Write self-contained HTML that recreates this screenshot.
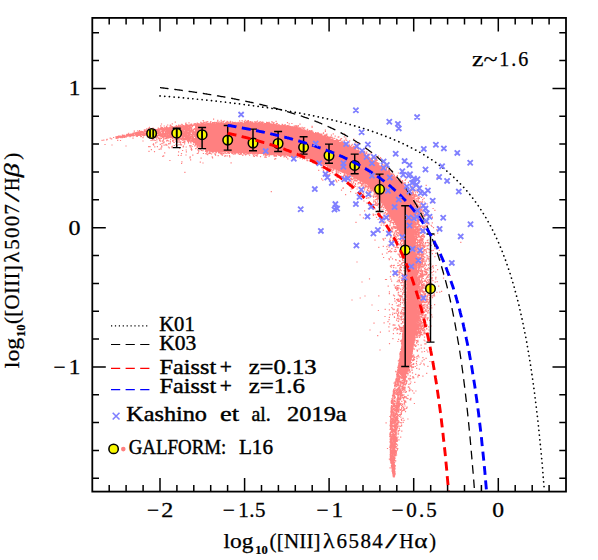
<!DOCTYPE html>
<html><head><meta charset="utf-8"><title>BPT</title><style>
html,body{margin:0;padding:0;background:#fff}
#w{position:relative;width:598px;height:560px;overflow:hidden}
text{font-family:"Liberation Serif",serif;font-size:21px;fill:#000;stroke:#000;stroke-width:0.25px}
.s{font-size:21px;stroke-width:0.3px}
.g{stroke-width:0.42px}
.b{font-size:13.5px;font-weight:bold;stroke-width:0.2px}
</style></head><body><div id="w">
<svg width="598" height="560" viewBox="0 0 598 560" style="position:absolute;left:0;top:0">
<rect width="598" height="560" fill="#fff"/>
<defs><clipPath id="c"><rect x="92.3" y="17.9" width="473.7" height="473.7"/></clipPath></defs>
<g><polygon points="195.0,124.6 215.0,123.3 230.0,123.0 255.0,123.0 270.0,124.0 295.0,127.5 320.0,134.5 340.0,142.0 352.0,147.5 366.0,155.5 382.0,167.0 394.0,177.0 405.0,186.5 410.0,197.0 413.0,208.0 414.2,225.0 415.7,250.0 417.5,275.0 418.5,300.0 415.5,335.0 411.6,360.0 408.0,371.0 403.0,378.0 397.6,372.0 400.0,360.0 402.9,335.0 404.5,320.0 406.4,300.0 406.4,265.0 405.0,250.0 401.5,238.0 396.0,225.0 388.7,213.7 380.0,200.0 367.5,185.0 348.7,175.0 330.0,167.5 320.0,162.5 307.5,158.3 295.0,155.8 270.0,154.2 255.0,153.6 230.0,152.5 215.0,151.5 203.0,148.5 195.0,143.0" fill="#ff8080"/><path d="M365.9 149.2h1.2M408.0 195.0h1.2M263.7 123.4h1.2M139.0 130.7h1.2M229.7 121.4h1.2M410.4 200.6h1.2M407.8 182.4h1.2M378.1 164.2h1.2M326.1 137.1h1.2M291.5 127.6h1.2M371.0 158.3h1.2M325.5 135.3h1.2M349.1 147.0h1.2M416.9 319.1h1.2M417.5 253.1h1.2M423.6 299.3h1.2M431.4 226.5h1.2M379.9 166.6h1.2M288.4 126.2h1.2M386.6 171.5h1.2M297.7 129.1h1.2M351.1 145.5h1.2M376.0 159.6h1.2M431.6 277.7h1.2M268.7 123.3h1.2M419.4 304.5h1.2M422.7 231.5h1.2M415.8 331.0h1.2M375.9 162.4h1.2M429.1 236.0h1.2M177.2 126.5h1.2M179.9 126.4h1.2M202.6 123.1h1.2M267.3 122.8h1.2M365.9 153.1h1.2M201.8 123.4h1.2M410.0 201.5h1.2M271.6 125.1h1.2M138.0 132.9h1.2M406.7 186.2h1.2M181.2 126.2h1.2M247.1 122.2h1.2M413.7 238.1h1.2M265.6 124.4h1.2M418.6 276.7h1.2M352.4 147.5h1.2M413.3 190.1h1.2M196.9 124.8h1.2M330.8 135.1h1.2M324.6 136.2h1.2M268.6 122.4h1.2M332.3 138.5h1.2M418.3 325.9h1.2M275.5 124.5h1.2M435.4 265.5h1.2M437.6 226.7h1.2M415.3 331.3h1.2M250.1 123.7h1.2M367.1 155.3h1.2M247.4 123.7h1.2M276.5 124.9h1.2M257.6 123.5h1.2M159.7 129.1h1.2M416.3 327.0h1.2M411.2 206.0h1.2M420.4 327.1h1.2M436.3 229.7h1.2M169.6 127.1h1.2M326.3 134.1h1.2M299.6 128.8h1.2M300.4 129.8h1.2M196.7 123.2h1.2M199.9 124.9h1.2M317.9 134.2h1.2M155.5 129.9h1.2M197.6 125.2h1.2M397.0 180.7h1.2M415.9 332.6h1.2M416.4 191.4h1.2M423.4 237.3h1.2M417.6 304.6h1.2M388.1 169.7h1.2M244.8 123.4h1.2M382.1 168.1h1.2M200.2 122.3h1.2M387.8 170.4h1.2M165.9 126.4h1.2M194.0 125.1h1.2M417.3 318.8h1.2M165.1 128.5h1.2M197.3 123.7h1.2M418.4 293.0h1.2M243.5 123.1h1.2M341.8 142.8h1.2M267.4 124.1h1.2M268.4 122.3h1.2M208.5 123.6h1.2M271.9 122.0h1.2M308.8 130.6h1.2M319.4 134.4h1.2M393.9 177.3h1.2M423.5 301.8h1.2M411.4 195.7h1.2M386.0 170.9h1.2M236.5 123.0h1.2M216.7 123.3h1.2M421.2 266.7h1.2M296.1 125.9h1.2M416.0 235.1h1.2M183.1 126.3h1.2M231.8 123.6h1.2M422.6 216.0h1.2M159.6 129.0h1.2M416.6 260.5h1.2M310.1 130.9h1.2M423.4 291.8h1.2M402.6 185.0h1.2M389.0 170.9h1.2M395.0 179.2h1.2M339.3 142.3h1.2M417.8 292.8h1.2M160.6 127.3h1.2M224.0 121.0h1.2M415.4 213.4h1.2M266.0 123.4h1.2M400.2 183.7h1.2M414.2 234.3h1.2M391.0 175.1h1.2M382.8 169.2h1.2M330.2 138.2h1.2M317.5 132.5h1.2M423.6 221.7h1.2M328.4 137.0h1.2M297.7 125.6h1.2M428.2 242.5h1.2M377.6 164.7h1.2M247.6 123.6h1.2M420.0 324.8h1.2M429.2 294.8h1.2M143.8 129.8h1.2M181.7 126.6h1.2M335.4 140.3h1.2M174.7 127.7h1.2M399.1 181.9h1.2M162.1 128.7h1.2M197.8 125.0h1.2M278.3 124.7h1.2M270.3 124.5h1.2M193.8 124.3h1.2M285.8 126.2h1.2M249.5 122.7h1.2M402.2 184.8h1.2M416.5 311.9h1.2M130.1 134.1h1.2M384.0 166.2h1.2M199.3 124.4h1.2M316.3 133.1h1.2M420.8 283.4h1.2M418.6 230.6h1.2M255.3 123.8h1.2M297.5 129.0h1.2M422.3 260.1h1.2M186.1 126.0h1.2M137.2 130.9h1.2M308.1 131.3h1.2M261.6 122.5h1.2M420.7 210.5h1.2M424.0 214.8h1.2M417.7 291.8h1.2M213.5 122.6h1.2M302.4 130.1h1.2M353.3 146.8h1.2M286.3 126.7h1.2M191.4 125.3h1.2M240.1 122.4h1.2M416.7 206.2h1.2M339.7 140.5h1.2M306.6 129.9h1.2M193.3 124.9h1.2M186.2 126.3h1.2M283.8 126.8h1.2M283.0 126.6h1.2M296.2 128.6h1.2M417.8 314.1h1.2M417.8 267.8h1.2M410.8 201.8h1.2M348.0 146.1h1.2M375.1 161.5h1.2M419.7 304.8h1.2M298.8 128.9h1.2M258.2 122.7h1.2M419.5 254.4h1.2M413.0 214.3h1.2M318.9 134.0h1.2M233.3 122.6h1.2M420.6 291.1h1.2M360.9 153.4h1.2M419.6 245.8h1.2M420.2 320.4h1.2M414.9 214.2h1.2M417.3 293.8h1.2M371.4 160.6h1.2M266.0 122.4h1.2M414.6 333.3h1.2M417.2 257.5h1.2M418.9 276.7h1.2M279.1 126.2h1.2M413.5 214.9h1.2M383.6 168.7h1.2M390.4 175.4h1.2M400.8 183.9h1.2M130.6 134.3h1.2M244.8 123.2h1.2M408.6 192.7h1.2M411.5 203.5h1.2M363.4 148.9h1.2M264.3 123.7h1.2M185.4 123.2h1.2M266.7 124.5h1.2M402.2 183.9h1.2M229.8 122.9h1.2M388.3 173.6h1.2M302.0 130.2h1.2M188.4 125.1h1.2M160.5 129.1h1.2M417.1 197.0h1.2M315.8 133.1h1.2M363.4 153.7h1.2M213.3 123.4h1.2M416.9 201.4h1.2M229.5 122.4h1.2M375.4 157.9h1.2M368.8 157.4h1.2M283.6 125.8h1.2M197.4 124.7h1.2M362.4 151.9h1.2M222.8 122.8h1.2M415.9 319.8h1.2M414.1 220.0h1.2M414.8 192.8h1.2M378.2 163.4h1.2M408.4 189.9h1.2M398.7 182.3h1.2M349.3 147.0h1.2M417.0 285.2h1.2M279.7 125.8h1.2M417.1 307.4h1.2M138.2 131.8h1.2M389.2 173.8h1.2M311.5 127.5h1.2M161.1 128.5h1.2M271.1 121.9h1.2M418.2 320.2h1.2M413.2 230.1h1.2M331.5 139.3h1.2M342.0 142.8h1.2M175.7 125.6h1.2M187.7 125.9h1.2M402.0 181.1h1.2M298.0 128.5h1.2M417.3 216.2h1.2M292.0 127.8h1.2M177.6 126.1h1.2M176.8 126.6h1.2M415.5 334.9h1.2M365.0 154.6h1.2M217.2 120.4h1.2M284.5 124.7h1.2M284.6 126.2h1.2M140.5 131.6h1.2M325.2 136.9h1.2M420.6 289.6h1.2M234.3 123.6h1.2M421.4 329.3h1.2M361.3 152.0h1.2M411.6 206.3h1.2M351.8 147.5h1.2M289.7 127.1h1.2M419.5 196.7h1.2M227.3 123.1h1.2M324.8 130.1h1.2M310.7 132.9h1.2M413.9 224.1h1.2M151.6 130.2h1.2M174.9 127.3h1.2M177.6 126.9h1.2M170.2 126.8h1.2M318.8 134.2h1.2M417.9 327.1h1.2M414.6 230.1h1.2M412.2 207.7h1.2M275.8 125.5h1.2M304.6 130.4h1.2M381.8 164.4h1.2M177.3 126.9h1.2M236.0 122.8h1.2M422.8 305.0h1.2M349.2 147.3h1.2M351.6 148.3h1.2M177.8 126.6h1.2M357.9 151.6h1.2M225.5 123.8h1.2M425.7 286.6h1.2M356.5 147.7h1.2M414.7 228.2h1.2M261.8 122.2h1.2M276.2 125.7h1.2M423.5 295.0h1.2M418.9 280.2h1.2M263.3 124.1h1.2M365.3 153.2h1.2M293.2 127.4h1.2M414.6 227.1h1.2M426.9 276.7h1.2M237.5 122.4h1.2M291.6 126.6h1.2M193.4 124.0h1.2M161.0 129.3h1.2M200.3 123.9h1.2M428.6 293.9h1.2M188.4 125.3h1.2M416.7 183.7h1.2M416.6 245.4h1.2M415.4 235.9h1.2M418.6 252.4h1.2M143.7 130.3h1.2M223.9 123.6h1.2M420.8 314.5h1.2M145.2 129.9h1.2M165.5 127.9h1.2M225.9 122.7h1.2M126.5 134.4h1.2M168.8 127.8h1.2M141.1 131.6h1.2M342.1 142.2h1.2M417.6 308.1h1.2M351.6 148.1h1.2M412.1 210.4h1.2M413.3 218.8h1.2M419.0 236.7h1.2M245.1 123.8h1.2M175.0 127.2h1.2M413.4 204.6h1.2M281.9 126.0h1.2M308.2 131.3h1.2M248.8 123.5h1.2M418.8 298.1h1.2M420.5 277.1h1.2M343.6 140.3h1.2M319.3 134.2h1.2M176.7 127.0h1.2M415.4 189.0h1.2M358.2 150.9h1.2M338.4 140.3h1.2M337.8 141.4h1.2M351.8 148.0h1.2M374.1 162.2h1.2M363.0 153.9h1.2M419.5 202.9h1.2M419.2 301.4h1.2M215.6 124.0h1.2M423.5 236.8h1.2M364.4 155.7h1.2M228.2 123.2h1.2M406.4 192.1h1.2M425.5 278.7h1.2M426.9 272.9h1.2M414.7 190.9h1.2M269.6 124.8h1.2M316.1 134.3h1.2M293.6 126.2h1.2M402.5 185.3h1.2M422.3 296.9h1.2M218.5 121.9h1.2M270.4 123.9h1.2M442.9 274.7h1.2M236.7 123.5h1.2M419.5 306.4h1.2M191.0 124.2h1.2M185.1 123.8h1.2M295.0 125.9h1.2M169.9 125.2h1.2M346.5 145.3h1.2M333.6 140.7h1.2M286.8 126.5h1.2M311.5 131.5h1.2M167.4 128.4h1.2M417.4 235.7h1.2M230.1 123.5h1.2M418.7 241.5h1.2M425.6 185.4h1.2M411.0 190.1h1.2M410.9 199.8h1.2M412.4 191.5h1.2M119.7 136.0h1.2M174.7 122.1h1.2M315.6 133.6h1.2M417.6 292.1h1.2M401.3 181.9h1.2M417.6 213.6h1.2M190.1 125.4h1.2M402.1 182.3h1.2M230.4 123.2h1.2M162.4 128.0h1.2M220.8 123.6h1.2M398.4 180.3h1.2M414.5 247.2h1.2M252.0 122.1h1.2M241.5 120.5h1.2M340.5 142.9h1.2M319.9 134.4h1.2M372.4 157.3h1.2M289.5 127.2h1.2M177.3 127.3h1.2M432.3 280.7h1.2M414.8 243.3h1.2M275.5 124.0h1.2M272.0 124.9h1.2M276.7 123.5h1.2M416.3 266.4h1.2M419.2 228.9h1.2M424.2 280.3h1.2M349.1 140.8h1.2M260.9 124.1h1.2M306.4 131.5h1.2M356.3 150.3h1.2M415.7 327.7h1.2M417.8 309.0h1.2M197.5 125.0h1.2M334.6 136.1h1.2M283.9 125.7h1.2M418.2 281.1h1.2M295.4 127.6h1.2M327.7 138.1h1.2M416.8 257.2h1.2M416.4 227.0h1.2M349.1 146.4h1.2M272.6 125.1h1.2M417.2 256.8h1.2M417.0 320.7h1.2M297.3 127.2h1.2M295.4 127.2h1.2M416.4 281.7h1.2M388.4 173.1h1.2M250.4 123.1h1.2M418.6 299.0h1.2M205.6 121.8h1.2M336.5 141.4h1.2M245.7 123.7h1.2M168.2 128.0h1.2M418.8 292.9h1.2M173.9 127.7h1.2M167.3 128.4h1.2M167.0 128.4h1.2M291.7 127.7h1.2M181.2 124.4h1.2M312.4 132.1h1.2M200.5 124.5h1.2M418.9 279.5h1.2M310.9 131.4h1.2M419.2 301.0h1.2M324.1 136.2h1.2M414.0 214.4h1.2M420.7 270.2h1.2M276.2 125.6h1.2M383.8 170.0h1.2M420.0 300.2h1.2M395.0 178.4h1.2M361.5 153.4h1.2M396.8 180.1h1.2M240.5 122.6h1.2M385.9 167.7h1.2M324.9 136.2h1.2M375.9 159.3h1.2M418.1 182.9h1.2M415.7 327.1h1.2M413.5 215.9h1.2M190.6 124.0h1.2M420.3 259.8h1.2M417.0 208.7h1.2M155.3 129.7h1.2M414.3 240.5h1.2M216.8 121.8h1.2M416.9 304.8h1.2M202.9 124.4h1.2M266.8 122.6h1.2M387.3 171.9h1.2M245.9 123.2h1.2M245.1 122.8h1.2M370.5 159.6h1.2M164.1 127.5h1.2M421.9 273.1h1.2M400.0 183.1h1.2M419.3 298.4h1.2M328.6 138.4h1.2M147.2 130.0h1.2M395.3 178.7h1.2M409.6 194.3h1.2M351.5 147.0h1.2M288.7 127.4h1.2M300.1 128.4h1.2M387.4 170.9h1.2M311.7 132.4h1.2M162.7 128.6h1.2M416.3 245.2h1.2M264.4 124.1h1.2M211.7 124.0h1.2M272.1 125.2h1.2M413.3 212.7h1.2M197.4 124.3h1.2M189.7 125.6h1.2M401.2 182.2h1.2M405.1 179.4h1.2M334.0 140.8h1.2M413.6 222.4h1.2M422.4 261.6h1.2M417.3 320.7h1.2M360.2 153.2h1.2M272.5 123.2h1.2M425.5 269.7h1.2M336.8 140.2h1.2M202.6 120.6h1.2M393.7 177.6h1.2M126.5 135.2h1.2M433.5 295.0h1.2M278.1 125.4h1.2M362.9 154.3h1.2M432.5 208.5h1.2M381.4 166.5h1.2M418.0 190.9h1.2M414.8 249.8h1.2M342.1 143.9h1.2M168.8 127.9h1.2M375.7 163.3h1.2M408.7 190.6h1.2M172.7 127.8h1.2M293.6 128.0h1.2M275.5 121.3h1.2M399.9 179.1h1.2M306.9 131.5h1.2M230.9 123.6h1.2M251.9 123.1h1.2M229.4 123.5h1.2M415.6 326.8h1.2M418.0 326.8h1.2M336.5 140.0h1.2M417.0 237.6h1.2M375.2 163.0h1.2M411.5 207.5h1.2M418.4 304.0h1.2M272.1 124.6h1.2M340.0 139.1h1.2M170.4 127.4h1.2M220.7 122.9h1.2M429.6 264.2h1.2M313.7 133.6h1.2M417.8 233.2h1.2M422.1 260.9h1.2M380.8 167.5h1.2M418.2 295.5h1.2M169.2 127.1h1.2M164.3 128.2h1.2M401.8 180.5h1.2M370.6 158.5h1.2M167.8 128.3h1.2M289.0 126.8h1.2M345.1 144.4h1.2M415.8 239.4h1.2M257.4 123.1h1.2M421.0 304.2h1.2M416.8 192.6h1.2M414.8 209.6h1.2M417.3 326.7h1.2M143.7 131.7h1.2M402.2 185.1h1.2M168.0 128.4h1.2M313.2 133.5h1.2M431.7 222.9h1.2M210.3 124.3h1.2M195.1 124.9h1.2M419.8 210.2h1.2M127.2 134.5h1.2M218.5 123.9h1.2M418.7 308.2h1.2M379.9 157.7h1.2M244.1 123.4h1.2M388.6 170.8h1.2M245.1 123.2h1.2M245.1 123.6h1.2M202.5 123.0h1.2M417.0 310.4h1.2M326.3 137.7h1.2M420.2 281.1h1.2M218.0 123.8h1.2M209.6 124.3h1.2M295.3 127.7h1.2M349.9 146.8h1.2M194.6 123.5h1.2M417.4 317.1h1.2M152.4 128.0h1.2M353.0 146.3h1.2M404.9 187.9h1.2M366.7 156.7h1.2M208.0 123.3h1.2M417.2 209.4h1.2M348.5 145.2h1.2M425.5 272.0h1.2M125.9 134.9h1.2M226.9 123.0h1.2M131.9 134.1h1.2M353.3 149.1h1.2M417.9 312.7h1.2M298.0 129.2h1.2M164.4 128.4h1.2M284.6 125.0h1.2M348.3 144.0h1.2M371.0 152.9h1.2M220.3 123.8h1.2M341.4 141.0h1.2M133.7 131.1h1.2M413.6 212.8h1.2M369.1 158.8h1.2M273.7 124.7h1.2M406.8 186.0h1.2M416.7 253.4h1.2M383.3 167.0h1.2M416.4 309.8h1.2M417.6 287.2h1.2M419.8 245.9h1.2M192.7 125.5h1.2M295.5 128.5h1.2M223.5 123.6h1.2M396.0 179.0h1.2M420.2 232.3h1.2M414.7 330.1h1.2M367.6 157.4h1.2M312.6 133.2h1.2M250.4 123.7h1.2M331.9 139.3h1.2M272.8 123.7h1.2M304.1 127.9h1.2M198.3 124.3h1.2M417.7 267.7h1.2M189.6 124.8h1.2M163.5 128.9h1.2M341.0 138.7h1.2M421.0 197.5h1.2M159.2 129.4h1.2M382.6 168.6h1.2M265.6 123.7h1.2M331.5 137.4h1.2M419.4 301.3h1.2M244.1 121.9h1.2M255.0 123.5h1.2M285.2 126.4h1.2M246.7 123.8h1.2M297.4 129.0h1.2M353.4 149.3h1.2M417.3 186.1h1.2M183.0 126.7h1.2M423.2 305.4h1.2M175.7 127.6h1.2M415.5 249.3h1.2M372.3 158.3h1.2M371.7 160.0h1.2M346.5 145.3h1.2M442.9 278.2h1.2M415.5 323.7h1.2M402.7 185.5h1.2M300.6 129.6h1.2M343.7 136.8h1.2M358.3 142.6h1.2M460.2 242.4h1.2M234.5 123.8h1.2M232.0 123.3h1.2M417.2 327.6h1.2M319.7 134.0h1.2M278.5 125.8h1.2M415.5 261.9h1.2M420.0 248.3h1.2M291.3 123.5h1.2M416.8 304.2h1.2M376.4 163.9h1.2M286.1 126.7h1.2M411.6 188.7h1.2M148.4 130.6h1.2M419.7 305.1h1.2M414.3 231.6h1.2M415.9 328.2h1.2M354.2 149.2h1.2M399.1 181.0h1.2M207.0 124.5h1.2M225.9 122.3h1.2M253.6 123.0h1.2M436.3 292.4h1.2M424.3 262.9h1.2M378.4 163.3h1.2M416.3 273.1h1.2M418.9 242.3h1.2M385.4 169.9h1.2M160.7 128.9h1.2M371.8 160.9h1.2M417.3 200.0h1.2M428.8 295.4h1.2M418.6 302.0h1.2M191.9 125.3h1.2M305.9 131.1h1.2M234.5 123.1h1.2M266.2 123.6h1.2M419.8 321.1h1.2M411.8 205.8h1.2M360.4 152.4h1.2M337.8 140.7h1.2M415.1 333.7h1.2M260.8 122.4h1.2M312.4 133.0h1.2M297.7 127.0h1.2M281.6 124.4h1.2M171.0 127.5h1.2M213.0 119.2h1.2M414.2 209.1h1.2M276.8 125.6h1.2M261.8 123.9h1.2M200.8 124.8h1.2M409.7 190.2h1.2M418.6 301.7h1.2M371.7 160.6h1.2M127.1 134.6h1.2M392.8 176.2h1.2M366.2 151.9h1.2M161.0 128.4h1.2M420.0 282.3h1.2M419.6 227.2h1.2M187.0 125.9h1.2M385.2 171.0h1.2M157.7 128.1h1.2M396.1 180.2h1.2M421.2 322.6h1.2M399.7 181.2h1.2M418.8 232.8h1.2M417.7 327.1h1.2M418.2 258.2h1.2M420.2 301.8h1.2M160.1 128.6h1.2M434.3 210.4h1.2M417.0 305.6h1.2M290.8 126.9h1.2M176.0 126.2h1.2M324.7 136.5h1.2M256.2 123.2h1.2M420.5 275.3h1.2M160.9 124.0h1.2M296.4 127.6h1.2M377.3 163.2h1.2M246.2 121.4h1.2M219.7 123.4h1.2M417.3 271.1h1.2M311.5 132.7h1.2M305.4 131.3h1.2M295.1 128.1h1.2M414.0 230.8h1.2M180.5 126.6h1.2M190.2 125.4h1.2M417.2 227.9h1.2M258.0 123.3h1.2M311.5 126.3h1.2M262.5 122.3h1.2M175.6 126.7h1.2M374.8 161.2h1.2M374.1 159.8h1.2M377.0 163.8h1.2M296.6 128.0h1.2M363.3 155.1h1.2M342.5 143.7h1.2M371.5 160.1h1.2M391.1 175.9h1.2M221.4 121.9h1.2M416.0 329.5h1.2M429.1 287.1h1.2M307.8 131.9h1.2M303.4 127.8h1.2M299.9 129.1h1.2M419.1 289.1h1.2M225.3 123.8h1.2M416.9 252.8h1.2M417.3 315.5h1.2M421.8 263.1h1.2M394.1 178.1h1.2M417.3 245.7h1.2M424.7 243.9h1.2M339.9 142.3h1.2M413.9 182.9h1.2M420.4 263.3h1.2M346.2 143.4h1.2M416.6 285.5h1.2M293.4 126.6h1.2M346.1 140.4h1.2M124.0 135.3h1.2M266.1 123.7h1.2M299.2 128.6h1.2M356.5 144.2h1.2M409.7 190.9h1.2M331.9 139.9h1.2M297.9 128.5h1.2M424.2 275.2h1.2M417.3 214.7h1.2M418.5 295.2h1.2M240.4 123.4h1.2M314.9 132.7h1.2M226.6 121.3h1.2M252.3 123.0h1.2M296.4 128.7h1.2M413.1 215.8h1.2M351.6 144.3h1.2M218.3 123.1h1.2M414.9 234.3h1.2M406.8 192.5h1.2M354.0 148.9h1.2M303.2 130.4h1.2M243.7 121.7h1.2M186.1 125.1h1.2M213.9 123.9h1.2M384.9 169.7h1.2M383.8 166.8h1.2M167.5 128.1h1.2M283.3 126.7h1.2M303.5 130.2h1.2M121.8 135.1h1.2M270.9 124.1h1.2M421.5 291.8h1.2M211.8 123.5h1.2M417.0 307.0h1.2M414.3 210.6h1.2M415.1 325.2h1.2M418.7 286.6h1.2M304.8 130.4h1.2M339.5 140.3h1.2M420.1 319.3h1.2M312.7 132.8h1.2M417.6 222.5h1.2M399.6 180.7h1.2M422.1 287.7h1.2M434.5 248.7h1.2M419.5 316.8h1.2M250.0 121.8h1.2M343.7 144.8h1.2M354.8 142.5h1.2M415.3 211.9h1.2M432.0 266.3h1.2M385.9 168.2h1.2M420.1 330.0h1.2M415.2 326.3h1.2M215.6 123.9h1.2M416.1 316.6h1.2M299.2 129.4h1.2M428.8 268.5h1.2M417.2 228.3h1.2M374.3 160.0h1.2M415.8 261.2h1.2M262.8 124.0h1.2M418.7 302.8h1.2M101.5 140.3h1.2M414.4 217.4h1.2M415.8 269.3h1.2M206.6 124.3h1.2M318.0 134.8h1.2M240.2 122.4h1.2M409.5 191.8h1.2M432.6 202.3h1.2M307.6 131.3h1.2M181.5 125.9h1.2M303.5 129.6h1.2M369.9 159.1h1.2M392.2 176.4h1.2M152.9 129.0h1.2M419.8 330.9h1.2M195.6 124.0h1.2M391.0 174.6h1.2M249.0 123.3h1.2M211.6 124.1h1.2M415.3 246.8h1.2M291.8 127.7h1.2M206.3 123.9h1.2M326.8 137.1h1.2M366.5 155.5h1.2M172.0 126.5h1.2M238.2 123.5h1.2M302.7 128.4h1.2M224.0 123.7h1.2M239.1 123.2h1.2M370.2 158.3h1.2M424.2 285.7h1.2M412.7 217.4h1.2M418.1 266.8h1.2M302.9 130.4h1.2M432.6 250.3h1.2M402.3 184.5h1.2M427.9 267.8h1.2M297.9 129.0h1.2M187.7 125.9h1.2M416.4 315.5h1.2M319.8 135.3h1.2M412.0 186.1h1.2M417.0 259.1h1.2M398.3 181.8h1.2M345.1 145.5h1.2M406.4 189.6h1.2M417.9 269.3h1.2M309.6 131.3h1.2M230.3 122.9h1.2M162.4 129.0h1.2M420.4 267.7h1.2M367.0 154.8h1.2M416.1 317.3h1.2M394.2 177.5h1.2M421.0 303.4h1.2M224.8 123.1h1.2M211.2 124.0h1.2M302.8 130.0h1.2M204.4 123.2h1.2M285.9 127.1h1.2M173.7 127.6h1.2M226.8 123.5h1.2M301.5 127.4h1.2M324.2 135.5h1.2M418.1 310.6h1.2M416.2 323.8h1.2M332.5 140.1h1.2M337.6 137.2h1.2M258.8 122.6h1.2M370.5 159.2h1.2M384.2 169.7h1.2M276.2 125.7h1.2M344.3 144.8h1.2M396.0 179.5h1.2M361.8 151.1h1.2M414.6 237.2h1.2M391.6 176.2h1.2M418.7 307.5h1.2M366.4 156.9h1.2M393.1 174.3h1.2M201.9 123.8h1.2M409.4 199.6h1.2M167.1 125.0h1.2M256.9 121.1h1.2M368.1 155.2h1.2M191.2 125.1h1.2M386.0 169.2h1.2M409.7 197.5h1.2M413.4 209.1h1.2M309.8 131.9h1.2M145.4 130.2h1.2M165.3 128.1h1.2M248.1 123.1h1.2M376.9 162.9h1.2M167.6 128.4h1.2M267.9 123.4h1.2M382.2 168.3h1.2M290.8 127.3h1.2M422.1 261.4h1.2M198.6 125.0h1.2M426.0 307.0h1.2M326.8 137.4h1.2M392.4 174.0h1.2M420.6 328.2h1.2M417.2 307.4h1.2M382.3 167.7h1.2M381.6 166.5h1.2M188.8 126.1h1.2M405.7 186.8h1.2M192.1 125.6h1.2M431.8 217.2h1.2M169.4 127.8h1.2M415.2 224.3h1.2M190.7 125.1h1.2M409.6 194.9h1.2M387.0 172.6h1.2M421.1 239.2h1.2M240.8 122.9h1.2M423.8 288.2h1.2M419.4 208.6h1.2M148.6 130.4h1.2M349.6 147.2h1.2M356.7 151.4h1.2M206.1 123.9h1.2M417.5 316.3h1.2M369.7 154.0h1.2M239.5 122.3h1.2M410.2 189.0h1.2M254.8 123.8h1.2M417.1 312.8h1.2M400.0 180.9h1.2M419.2 298.2h1.2M226.7 123.3h1.2M353.2 139.2h1.2M416.9 262.4h1.2M281.6 125.9h1.2M370.1 159.2h1.2M174.3 126.9h1.2M203.2 122.2h1.2M321.4 134.9h1.2M326.0 135.3h1.2M248.0 123.6h1.2M141.7 131.7h1.2M416.1 317.5h1.2M249.7 121.7h1.2M307.1 131.9h1.2M421.5 221.2h1.2M441.0 291.3h1.2M247.6 123.6h1.2M308.4 131.8h1.2M416.5 271.8h1.2M419.7 289.8h1.2M399.4 182.6h1.2M198.2 123.9h1.2M216.0 123.9h1.2M417.4 259.2h1.2M419.4 275.7h1.2M285.0 126.7h1.2M428.4 261.0h1.2M364.6 154.9h1.2M183.0 126.0h1.2M188.1 125.7h1.2M393.6 176.4h1.2M128.8 134.6h1.2M418.7 278.0h1.2M290.9 127.8h1.2M418.4 253.5h1.2M416.9 286.8h1.2M287.6 126.1h1.2M433.0 271.3h1.2M222.5 123.5h1.2M421.1 306.5h1.2M179.4 126.5h1.2M201.1 123.6h1.2M200.0 124.9h1.2M232.5 123.6h1.2M355.1 148.3h1.2M307.1 131.1h1.2M122.9 135.4h1.2M217.9 123.6h1.2M413.6 230.0h1.2M289.6 127.2h1.2M354.5 146.5h1.2M307.0 129.3h1.2M411.6 204.8h1.2M302.6 130.6h1.2M399.3 181.8h1.2M384.6 166.5h1.2M115.5 136.7h1.2M357.2 151.3h1.2M213.7 123.7h1.2M420.0 216.7h1.2M385.7 168.8h1.2M299.4 124.1h1.2M417.6 307.8h1.2M209.7 122.5h1.2M370.7 158.6h1.2M338.2 136.9h1.2M418.1 302.0h1.2M437.5 247.2h1.2M305.7 131.3h1.2M343.5 133.8h1.2M387.8 173.0h1.2M241.0 122.3h1.2M193.8 123.8h1.2M266.6 124.3h1.2M287.8 127.1h1.2M256.1 121.9h1.2M206.2 122.7h1.2M359.5 152.2h1.2M136.8 132.6h1.2M416.2 321.0h1.2M354.5 147.9h1.2M407.8 188.0h1.2M166.7 128.4h1.2M414.1 196.6h1.2M413.2 207.7h1.2M397.8 173.0h1.2M244.0 122.3h1.2M428.4 259.0h1.2M354.8 149.4h1.2M367.4 154.2h1.2M368.0 154.7h1.2M391.2 176.2h1.2M270.5 124.2h1.2M414.9 327.0h1.2M180.6 126.6h1.2M296.4 126.9h1.2M416.2 218.9h1.2M398.7 182.5h1.2M276.0 123.5h1.2M418.3 291.0h1.2M167.4 128.3h1.2M417.4 223.4h1.2M417.5 240.3h1.2M418.7 316.9h1.2M345.1 145.2h1.2M416.5 324.9h1.2M226.9 122.8h1.2M337.8 140.6h1.2M181.7 124.9h1.2M414.9 239.8h1.2M399.0 181.4h1.2M391.1 176.0h1.2M247.3 123.2h1.2M389.7 173.4h1.2M139.2 132.4h1.2M345.3 138.2h1.2M325.0 136.3h1.2M325.1 134.8h1.2M418.2 302.3h1.2M319.4 134.1h1.2M281.3 125.6h1.2M199.0 125.1h1.2M196.6 124.2h1.2M254.0 123.1h1.2M289.4 126.5h1.2M166.4 128.3h1.2M399.1 182.8h1.2M210.0 123.7h1.2M416.6 313.8h1.2M123.6 135.6h1.2M232.0 123.3h1.2M364.0 151.4h1.2M419.9 294.2h1.2M222.2 123.1h1.2M166.3 127.6h1.2M350.1 146.6h1.2M429.2 282.9h1.2M422.5 248.6h1.2M418.4 219.2h1.2M412.7 219.2h1.2M256.0 123.8h1.2M294.1 126.2h1.2M201.0 124.9h1.2M251.6 123.6h1.2M417.6 279.5h1.2M151.8 128.8h1.2M400.9 183.8h1.2M369.2 159.0h1.2M388.2 173.1h1.2M361.3 152.4h1.2M423.6 250.6h1.2M152.0 130.3h1.2M206.1 124.5h1.2M410.9 197.9h1.2M288.6 123.8h1.2M399.1 182.9h1.2M421.4 276.8h1.2M416.7 320.0h1.2M374.4 157.3h1.2M230.1 121.6h1.2M161.7 127.7h1.2M225.4 123.6h1.2M274.5 125.1h1.2M416.7 218.1h1.2M351.0 147.9h1.2M428.5 274.7h1.2M401.0 183.3h1.2M401.9 181.9h1.2M116.8 137.0h1.2M287.5 125.7h1.2M118.0 136.1h1.2M413.4 219.4h1.2M170.7 126.0h1.2M322.7 133.4h1.2M259.9 123.2h1.2M289.1 127.2h1.2M175.5 126.8h1.2M220.6 120.3h1.2M164.1 128.8h1.2M394.1 177.0h1.2M429.8 279.6h1.2M371.8 157.4h1.2M318.3 134.6h1.2M345.8 144.5h1.2M169.6 125.3h1.2M172.9 127.3h1.2M422.4 297.9h1.2M185.2 124.9h1.2M410.7 200.3h1.2M383.1 168.4h1.2M401.3 183.9h1.2M269.6 124.4h1.2M191.2 125.8h1.2M361.9 154.3h1.2M293.7 127.6h1.2M414.6 246.0h1.2M248.2 121.9h1.2M297.2 129.0h1.2M230.5 123.3h1.2M418.4 257.6h1.2M388.1 171.8h1.2M364.7 155.7h1.2M225.2 123.6h1.2M146.1 128.9h1.2M211.7 123.1h1.2M416.9 315.5h1.2M413.5 207.3h1.2M198.6 124.8h1.2M419.8 273.4h1.2M188.9 126.0h1.2M178.1 125.0h1.2M428.6 243.5h1.2M336.4 139.7h1.2M399.5 182.0h1.2M234.1 122.8h1.2M385.6 169.4h1.2M393.8 175.5h1.2M422.1 245.5h1.2M336.2 140.0h1.2M281.1 126.3h1.2M158.8 129.5h1.2M414.7 246.1h1.2M406.6 189.5h1.2M251.2 122.0h1.2M416.6 284.3h1.2M417.1 279.7h1.2M414.2 217.0h1.2M290.4 127.4h1.2M261.2 123.3h1.2M279.1 125.7h1.2M397.2 180.6h1.2M250.4 123.7h1.2M406.2 189.6h1.2M408.0 195.8h1.2M403.2 185.3h1.2M413.4 221.6h1.2M396.8 177.1h1.2M334.1 138.3h1.2M362.8 153.5h1.2M266.5 123.6h1.2M416.2 329.3h1.2M418.5 292.7h1.2M228.5 123.7h1.2M207.1 121.7h1.2M194.8 125.2h1.2M355.3 150.0h1.2M253.9 123.8h1.2M391.5 171.9h1.2M357.2 148.3h1.2M292.6 127.3h1.2M195.7 124.8h1.2M116.7 137.2h1.2M411.3 203.0h1.2M415.8 320.4h1.2M422.9 291.5h1.2M366.7 157.2h1.2M299.8 128.1h1.2M188.8 125.9h1.2M150.6 129.0h1.2M365.5 148.4h1.2M259.5 121.7h1.2M365.4 153.4h1.2M178.3 127.2h1.2M195.1 125.0h1.2M415.3 326.8h1.2M207.4 123.6h1.2M380.4 158.9h1.2M404.0 184.5h1.2M190.4 125.8h1.2M344.2 143.8h1.2M416.1 313.1h1.2M229.8 123.6h1.2M187.8 125.4h1.2M198.5 124.9h1.2M332.7 133.9h1.2M332.5 138.3h1.2M255.5 123.7h1.2M181.2 125.9h1.2M403.1 185.7h1.2M399.2 179.8h1.2M423.9 312.3h1.2M417.8 318.1h1.2M237.7 122.6h1.2M269.1 123.3h1.2M427.5 294.9h1.2M259.1 123.9h1.2M200.5 124.5h1.2M251.7 123.4h1.2M418.5 297.3h1.2M211.6 123.9h1.2M243.0 123.6h1.2M225.6 123.8h1.2M324.8 131.5h1.2M259.7 123.0h1.2M343.5 143.5h1.2M197.5 124.8h1.2M353.1 147.7h1.2M415.1 243.2h1.2M416.0 238.1h1.2M175.5 127.6h1.2M419.6 246.1h1.2M234.6 122.4h1.2M391.9 176.8h1.2M363.7 152.6h1.2M273.5 124.3h1.2M417.6 315.2h1.2M395.2 179.4h1.2M415.7 321.9h1.2M166.5 127.4h1.2M187.1 126.1h1.2M295.0 128.0h1.2M240.1 123.7h1.2M403.3 186.4h1.2M415.2 325.9h1.2M418.3 307.3h1.2M423.5 198.3h1.2M272.7 124.1h1.2M417.5 272.4h1.2M300.3 128.8h1.2M224.7 122.8h1.2M367.5 156.6h1.2M430.0 241.6h1.2M325.3 136.7h1.2M381.0 166.5h1.2M179.7 125.3h1.2M161.4 128.6h1.2M255.6 123.7h1.2M417.0 294.2h1.2M166.0 126.9h1.2M376.0 158.5h1.2M364.8 154.9h1.2M389.2 170.7h1.2M222.8 121.4h1.2M225.9 123.4h1.2M409.8 198.3h1.2M299.4 128.4h1.2M357.0 146.7h1.2M260.0 124.1h1.2M415.3 231.7h1.2M419.9 294.8h1.2M276.3 123.4h1.2M294.2 127.7h1.2M283.8 125.4h1.2M418.7 263.4h1.2M244.7 122.0h1.2M309.5 131.9h1.2M340.2 142.5h1.2M404.6 180.4h1.2M151.8 129.9h1.2M286.1 126.3h1.2M427.4 279.8h1.2M216.0 122.6h1.2M235.1 123.5h1.2M237.3 123.6h1.2M419.3 297.8h1.2M393.1 176.4h1.2M367.3 156.8h1.2M224.2 123.7h1.2M204.8 124.0h1.2M285.6 126.1h1.2M442.3 261.7h1.2M228.1 123.3h1.2M286.9 122.6h1.2M203.3 124.6h1.2M324.0 136.3h1.2M413.9 215.9h1.2M357.4 150.3h1.2M178.8 126.2h1.2M321.2 135.4h1.2M416.8 326.9h1.2M415.4 334.3h1.2M281.6 126.3h1.2M141.1 131.4h1.2M417.7 305.9h1.2M416.4 250.1h1.2M435.1 278.9h1.2M385.5 170.9h1.2M273.4 122.7h1.2M289.0 127.2h1.2M320.7 134.2h1.2M293.7 126.1h1.2M286.6 125.5h1.2M377.9 156.1h1.2M200.1 124.6h1.2M341.1 142.3h1.2M416.8 319.0h1.2M225.0 123.8h1.2M389.3 173.2h1.2M264.9 124.4h1.2M416.6 307.5h1.2M353.1 148.0h1.2M285.3 126.6h1.2M415.6 239.6h1.2M175.5 127.2h1.2M214.2 122.4h1.2M323.0 132.8h1.2M250.5 123.4h1.2M186.6 125.2h1.2M416.8 271.7h1.2M360.5 153.5h1.2M375.6 160.7h1.2M420.0 218.7h1.2M184.3 126.4h1.2M383.5 164.9h1.2M417.3 205.5h1.2M354.0 147.9h1.2M434.6 282.2h1.2M419.6 282.8h1.2M418.7 330.8h1.2M166.8 127.8h1.2M389.1 174.1h1.2M186.3 124.5h1.2M276.7 125.4h1.2M145.8 131.2h1.2M418.3 252.4h1.2M246.1 121.4h1.2M288.1 127.0h1.2M359.1 151.3h1.2M383.4 169.5h1.2M417.7 229.0h1.2M419.4 243.8h1.2M219.4 123.7h1.2M438.3 254.8h1.2M211.7 122.5h1.2M236.3 123.7h1.2M218.2 123.9h1.2M289.1 126.1h1.2M414.1 215.5h1.2M128.1 133.3h1.2M419.8 274.5h1.2M299.7 128.8h1.2M344.5 144.2h1.2M426.9 245.9h1.2M417.3 293.2h1.2M183.0 125.6h1.2M431.4 290.7h1.2M343.0 144.3h1.2M369.1 158.9h1.2M180.8 126.5h1.2M425.7 281.6h1.2M423.3 259.4h1.2M300.3 129.9h1.2M417.2 244.5h1.2M419.0 191.6h1.2M320.2 135.1h1.2M342.5 143.8h1.2M436.7 177.5h1.2M401.5 183.7h1.2M409.5 196.0h1.2M213.8 124.1h1.2M239.0 120.9h1.2M160.1 128.4h1.2M418.6 303.7h1.2M391.7 174.1h1.2M418.8 198.5h1.2M421.3 272.5h1.2M345.2 143.3h1.2M420.0 303.1h1.2M403.9 184.3h1.2M412.1 202.2h1.2M407.1 192.0h1.2M228.7 123.5h1.2M388.2 172.7h1.2M261.6 123.9h1.2M419.2 218.7h1.2M355.0 150.0h1.2M281.6 125.9h1.2M202.0 124.1h1.2M423.0 258.3h1.2M396.8 175.5h1.2M317.5 133.3h1.2M336.0 139.4h1.2M301.4 129.1h1.2M419.1 283.6h1.2M244.6 120.4h1.2M413.6 209.9h1.2M232.8 123.0h1.2M204.3 122.6h1.2M362.8 154.3h1.2M312.3 132.1h1.2M234.6 122.5h1.2M416.1 242.6h1.2M431.2 284.1h1.2M415.1 325.9h1.2M413.5 232.1h1.2M437.1 233.1h1.2M200.8 123.1h1.2M254.8 122.4h1.2M235.0 123.1h1.2M209.5 124.0h1.2M246.5 123.8h1.2M171.7 123.9h1.2M293.7 128.0h1.2M422.0 281.4h1.2M314.4 133.7h1.2M427.5 270.2h1.2M407.2 189.1h1.2M420.8 279.0h1.2M264.7 123.7h1.2M388.3 173.6h1.2M419.7 237.8h1.2M160.1 128.0h1.2M380.8 166.9h1.2M274.1 124.7h1.2M220.3 122.2h1.2M174.7 127.2h1.2M279.0 125.3h1.2M416.0 323.3h1.2M414.9 241.4h1.2M327.6 137.1h1.2M190.5 125.0h1.2M148.1 129.7h1.2M412.3 190.8h1.2M161.8 128.9h1.2M262.0 122.1h1.2M414.1 215.0h1.2M426.6 259.0h1.2M412.3 204.9h1.2M330.3 136.8h1.2M329.3 137.3h1.2M389.0 172.2h1.2M147.8 128.3h1.2M271.2 124.8h1.2M232.0 122.8h1.2M140.5 132.3h1.2M280.9 126.2h1.2M304.6 130.8h1.2M146.2 130.9h1.2M401.6 185.1h1.2M376.6 160.4h1.2M417.1 300.6h1.2M375.5 162.1h1.2M414.9 236.2h1.2M427.3 275.8h1.2M165.9 126.9h1.2M197.9 124.2h1.2M423.1 231.8h1.2M422.1 314.8h1.2M353.7 148.1h1.2M148.9 127.3h1.2M380.9 166.8h1.2M274.1 124.8h1.2M422.0 291.8h1.2M415.6 263.3h1.2M291.1 127.8h1.2M425.9 274.3h1.2M414.9 219.4h1.2M410.4 193.0h1.2M289.8 126.5h1.2M342.7 144.4h1.2M209.8 124.3h1.2M115.8 137.5h1.2M395.3 178.1h1.2M261.7 124.0h1.2M207.0 124.4h1.2M417.8 309.7h1.2M201.5 123.9h1.2M382.6 161.7h1.2M349.1 145.3h1.2M417.5 249.0h1.2M375.7 163.5h1.2M246.6 123.5h1.2M246.7 122.9h1.2M342.7 144.0h1.2M147.0 130.8h1.2M399.4 180.5h1.2M288.3 127.3h1.2M419.2 252.7h1.2M416.0 333.6h1.2M340.6 142.1h1.2M416.4 230.8h1.2M241.9 122.2h1.2M389.2 172.0h1.2M247.2 120.9h1.2M268.0 124.6h1.2M289.8 127.2h1.2M422.7 213.5h1.2M353.4 147.6h1.2M121.5 136.2h1.2M232.8 123.5h1.2M222.0 123.7h1.2M415.7 259.7h1.2M227.5 122.1h1.2M277.6 125.0h1.2M418.1 329.3h1.2M427.1 223.5h1.2M299.9 128.9h1.2M333.4 140.5h1.2M283.7 126.6h1.2M357.5 151.3h1.2M283.0 125.5h1.2M404.4 182.7h1.2M435.1 272.0h1.2M420.6 274.2h1.2M369.5 158.7h1.2M403.2 183.4h1.2M222.5 123.9h1.2M203.1 123.9h1.2M191.3 125.0h1.2M415.4 256.1h1.2M371.5 158.9h1.2M368.7 154.3h1.2M415.2 204.6h1.2M261.8 123.5h1.2M417.9 198.9h1.2M328.3 137.7h1.2M412.2 197.6h1.2M220.6 123.4h1.2M218.1 123.0h1.2M247.8 123.6h1.2M282.0 124.6h1.2M160.6 129.3h1.2M218.3 123.3h1.2M391.2 173.6h1.2M420.8 327.5h1.2M334.6 140.5h1.2M407.6 187.6h1.2M218.2 122.4h1.2M344.2 145.1h1.2M264.4 123.7h1.2M417.9 303.6h1.2M274.1 124.9h1.2M200.1 124.9h1.2M424.9 271.4h1.2M364.0 154.0h1.2M360.3 151.8h1.2M421.6 284.3h1.2M415.8 328.5h1.2M421.5 286.3h1.2M363.1 154.0h1.2M415.2 329.8h1.2M260.6 124.2h1.2M298.7 127.9h1.2M210.2 121.5h1.2M395.8 177.7h1.2M409.4 193.0h1.2M426.6 204.0h1.2M400.5 183.7h1.2M417.9 300.6h1.2M316.9 134.3h1.2M418.3 246.2h1.2M158.4 129.7h1.2M248.8 123.3h1.2M180.9 126.9h1.2M129.4 134.7h1.2M238.9 123.4h1.2M308.4 131.0h1.2M183.3 126.7h1.2M375.3 162.7h1.2M160.2 125.9h1.2M418.8 305.7h1.2M311.5 131.5h1.2M417.4 324.2h1.2M412.8 193.7h1.2M418.3 189.2h1.2M356.8 148.0h1.2M326.9 136.3h1.2M237.2 123.0h1.2M311.3 130.5h1.2M412.6 211.5h1.2M304.6 130.5h1.2M291.7 127.3h1.2M376.4 162.7h1.2M418.2 191.1h1.2M426.3 255.7h1.2M404.8 184.2h1.2M265.2 123.7h1.2M299.9 129.6h1.2M192.1 125.3h1.2M269.3 124.4h1.2M204.5 124.5h1.2M423.4 311.5h1.2M151.5 129.4h1.2M239.5 123.1h1.2M398.5 178.9h1.2M212.5 122.6h1.2M230.4 122.8h1.2M250.7 123.4h1.2M247.8 120.7h1.2M184.7 126.5h1.2M416.7 230.0h1.2M416.0 232.7h1.2M423.5 274.0h1.2M356.6 150.4h1.2M385.7 171.0h1.2M186.4 126.2h1.2M197.2 124.4h1.2M345.9 144.3h1.2M413.0 213.3h1.2M416.7 307.4h1.2M241.3 123.8h1.2M411.6 194.1h1.2M418.0 259.5h1.2M299.4 127.9h1.2M318.3 133.7h1.2M209.0 124.1h1.2M424.9 226.9h1.2M230.0 123.7h1.2M340.4 143.1h1.2M219.7 123.7h1.2M415.8 265.9h1.2M298.4 129.1h1.2M231.3 123.7h1.2M273.9 124.4h1.2M418.6 210.6h1.2M305.8 131.1h1.2M186.8 125.9h1.2M395.7 176.6h1.2M348.4 142.1h1.2M247.3 123.4h1.2M420.6 230.2h1.2M414.1 233.1h1.2M406.3 191.0h1.2M413.2 202.7h1.2M254.3 121.6h1.2M406.6 189.0h1.2M339.2 142.5h1.2M268.6 124.4h1.2M341.9 143.8h1.2M319.7 134.0h1.2M426.0 223.2h1.2M419.3 209.6h1.2M348.0 146.1h1.2M245.9 122.7h1.2M345.2 139.9h1.2M199.2 124.1h1.2M171.6 127.5h1.2M136.3 132.4h1.2M412.3 188.1h1.2M379.8 166.3h1.2M239.9 123.1h1.2M225.2 122.8h1.2M416.8 307.6h1.2M416.6 314.1h1.2M396.3 180.3h1.2M415.4 229.7h1.2M256.7 123.7h1.2M391.5 171.1h1.2M273.1 124.8h1.2M400.7 181.7h1.2M419.8 209.8h1.2M413.3 213.8h1.2M325.8 137.3h1.2M421.7 309.0h1.2M188.4 122.9h1.2M357.8 149.8h1.2M380.8 166.6h1.2M422.7 301.9h1.2M199.6 124.8h1.2M214.7 122.5h1.2M304.4 130.9h1.2M299.6 128.6h1.2M322.8 136.4h1.2M323.7 135.1h1.2M417.0 231.8h1.2M310.7 131.3h1.2M382.6 166.2h1.2M414.4 332.2h1.2M382.3 166.7h1.2M420.0 275.8h1.2M418.7 314.6h1.2M379.8 166.3h1.2M413.0 210.4h1.2M352.5 148.8h1.2M232.0 122.2h1.2M438.7 250.3h1.2M232.6 123.8h1.2M417.8 326.3h1.2M398.2 180.9h1.2M171.1 126.6h1.2M148.8 129.3h1.2M291.6 126.8h1.2M186.0 125.9h1.2M422.2 211.7h1.2M418.9 279.4h1.2M298.4 129.0h1.2M309.1 131.1h1.2M425.6 207.7h1.2M163.6 126.0h1.2M210.0 123.7h1.2M257.4 123.4h1.2M416.9 244.8h1.2M421.3 334.7h1.2M418.6 264.8h1.2M413.9 229.8h1.2M403.4 290.4h1.2M396.4 310.9h1.2M348.9 185.7h1.2M298.2 155.8h1.2M325.5 165.4h1.2M136.3 136.0h1.2M328.8 171.5h1.2M146.2 134.8h1.2M218.8 151.7h1.2M399.4 264.6h1.2M298.3 156.1h1.2M405.7 308.0h1.2M208.1 149.4h1.2M207.6 150.0h1.2M388.8 459.1h1.2M392.0 231.8h1.2M386.9 448.5h1.2M133.5 135.4h1.2M173.1 142.2h1.2M282.7 154.4h1.2M253.0 152.8h1.2M403.4 331.9h1.2M395.6 226.6h1.2M151.8 139.3h1.2M362.3 194.9h1.2M404.8 261.0h1.2M401.1 263.4h1.2M384.9 208.3h1.2M399.1 239.4h1.2M271.0 154.7h1.2M144.1 135.3h1.2M154.2 146.9h1.2M176.7 141.1h1.2M343.1 176.9h1.2M179.9 143.0h1.2M399.3 328.7h1.2M399.2 244.8h1.2M267.6 153.4h1.2M402.1 327.9h1.2M395.2 224.7h1.2M404.0 300.0h1.2M155.1 142.8h1.2M181.0 163.5h1.2M374.5 201.4h1.2M403.9 250.2h1.2M389.3 239.1h1.2M279.9 156.3h1.2M396.8 230.1h1.2M395.5 380.9h1.2M160.9 136.4h1.2M350.1 181.1h1.2M394.2 228.1h1.2M385.8 226.1h1.2M397.2 265.6h1.2M295.1 156.1h1.2M313.0 160.3h1.2M318.8 162.4h1.2M391.8 410.0h1.2M396.6 281.6h1.2M346.6 178.5h1.2M167.7 141.0h1.2M284.3 156.4h1.2M373.3 196.4h1.2M318.7 161.6h1.2M328.6 168.1h1.2M399.5 358.4h1.2M167.4 138.4h1.2M256.5 156.1h1.2M362.8 191.6h1.2M404.1 317.2h1.2M374.7 201.1h1.2M220.0 151.6h1.2M392.6 265.7h1.2M403.1 307.7h1.2M271.5 153.9h1.2M398.0 321.0h1.2M249.8 153.5h1.2M220.6 153.1h1.2M405.9 279.2h1.2M346.3 175.1h1.2M399.1 354.2h1.2M391.6 402.9h1.2M376.5 198.2h1.2M311.3 159.1h1.2M334.1 174.7h1.2M404.2 286.7h1.2M393.5 383.1h1.2M191.2 141.1h1.2M323.2 164.9h1.2M338.1 175.3h1.2M385.6 210.6h1.2M179.9 142.9h1.2M171.9 138.6h1.2M392.5 325.2h1.2M124.0 137.4h1.2M404.1 313.5h1.2M377.7 198.5h1.2M402.5 314.1h1.2M136.6 135.7h1.2M330.7 181.9h1.2M396.0 320.2h1.2M253.2 153.1h1.2M385.6 213.9h1.2M312.4 160.7h1.2M368.8 186.9h1.2M376.4 199.3h1.2M390.9 227.3h1.2M199.7 162.1h1.2M339.9 173.4h1.2M395.4 327.6h1.2M200.5 158.1h1.2M381.1 206.2h1.2M376.7 198.8h1.2M269.8 154.7h1.2M136.7 136.5h1.2M389.5 225.3h1.2M345.0 180.8h1.2M380.4 201.5h1.2M287.2 155.4h1.2M331.2 171.2h1.2M161.1 145.9h1.2M182.6 146.7h1.2M398.8 295.4h1.2M396.7 232.5h1.2M156.7 136.6h1.2M267.0 154.7h1.2M117.0 137.8h1.2M402.3 243.6h1.2M393.0 222.3h1.2M315.1 161.7h1.2M311.0 159.6h1.2M397.2 316.1h1.2M168.7 147.8h1.2M375.2 202.5h1.2M195.8 143.1h1.2M404.1 303.3h1.2M395.2 227.8h1.2M402.6 313.3h1.2M196.3 145.9h1.2M399.8 243.4h1.2M394.0 298.7h1.2M250.9 153.0h1.2M399.9 257.1h1.2M304.1 158.9h1.2M182.0 150.5h1.2M390.1 216.6h1.2M264.9 154.2h1.2M330.5 167.6h1.2M394.6 249.5h1.2M360.1 188.6h1.2M402.6 328.1h1.2M376.7 200.2h1.2M399.5 268.2h1.2M405.7 307.7h1.2M275.7 153.9h1.2M182.1 142.5h1.2M402.5 285.6h1.2M327.6 170.8h1.2M127.0 136.2h1.2M296.2 155.8h1.2M259.9 156.6h1.2M404.7 250.8h1.2M204.3 148.8h1.2M398.6 316.0h1.2M256.7 153.6h1.2M135.5 134.9h1.2M256.3 153.0h1.2M283.1 154.6h1.2M240.9 152.5h1.2M397.4 329.4h1.2M405.4 257.1h1.2M335.7 170.6h1.2M218.3 151.0h1.2M400.1 237.8h1.2M342.2 172.1h1.2M336.1 172.3h1.2M310.3 158.6h1.2M313.5 160.0h1.2M401.0 311.6h1.2M338.6 172.0h1.2M241.6 152.3h1.2M240.4 153.3h1.2M389.1 447.1h1.2M287.2 158.8h1.2M349.5 174.9h1.2M398.5 277.7h1.2M253.9 153.5h1.2M398.3 325.7h1.2M387.4 216.6h1.2M330.4 168.4h1.2M245.9 154.2h1.2M378.9 199.3h1.2M252.1 153.2h1.2M366.9 186.9h1.2M404.6 317.4h1.2M265.0 154.0h1.2M194.9 143.5h1.2M306.4 160.4h1.2M206.3 152.3h1.2M207.8 149.8h1.2M400.5 295.8h1.2M293.6 156.5h1.2M405.0 294.5h1.2M180.1 144.4h1.2M282.0 154.3h1.2M390.0 429.2h1.2M164.7 138.1h1.2M391.2 222.2h1.2M296.6 157.4h1.2M273.0 153.8h1.2M283.4 156.9h1.2M199.7 145.8h1.2M184.1 142.5h1.2M404.1 286.1h1.2M215.0 151.6h1.2M403.9 254.5h1.2M391.0 251.7h1.2M402.2 250.9h1.2M406.1 278.5h1.2M394.3 325.1h1.2M263.8 153.5h1.2M240.3 152.9h1.2M364.0 210.9h1.2M295.6 156.0h1.2M360.4 183.3h1.2M183.7 141.3h1.2M391.2 219.6h1.2M389.2 215.4h1.2M406.4 297.2h1.2M368.7 191.2h1.2M287.3 155.1h1.2M400.3 253.0h1.2M405.5 262.3h1.2M271.5 154.2h1.2M260.3 153.4h1.2M396.0 230.9h1.2M149.6 137.4h1.2M215.0 155.1h1.2M400.0 302.7h1.2M396.4 376.8h1.2M378.9 200.2h1.2M403.8 283.0h1.2M328.7 174.7h1.2M196.7 147.2h1.2M275.5 156.3h1.2M315.3 160.5h1.2M404.6 314.2h1.2M218.3 151.7h1.2M226.5 155.9h1.2M406.0 296.6h1.2M301.6 156.7h1.2M393.6 309.3h1.2M347.2 176.1h1.2M384.9 212.4h1.2M234.4 153.3h1.2M218.7 151.2h1.2M279.0 154.2h1.2M196.7 153.5h1.2M292.2 155.9h1.2M390.6 432.1h1.2M198.2 150.8h1.2M398.2 369.0h1.2M363.3 187.8h1.2M404.8 248.9h1.2M253.3 155.1h1.2M359.7 182.0h1.2M405.1 301.2h1.2M308.7 158.6h1.2M263.7 153.9h1.2M238.8 154.5h1.2M397.1 235.2h1.2M354.4 178.6h1.2M119.9 140.5h1.2M310.3 159.3h1.2M337.3 175.0h1.2M237.6 153.7h1.2M318.9 162.6h1.2M279.5 155.1h1.2M294.1 155.3h1.2M326.9 166.9h1.2M404.2 273.0h1.2M385.6 214.1h1.2M207.5 149.6h1.2M121.7 136.7h1.2M160.9 138.3h1.2M403.0 333.5h1.2M162.5 143.0h1.2M359.3 186.9h1.2M176.7 141.4h1.2M265.2 155.8h1.2M237.8 153.2h1.2M283.0 154.5h1.2M397.8 238.6h1.2M400.6 313.6h1.2M281.8 154.2h1.2M180.9 139.3h1.2M401.7 274.1h1.2M354.4 186.3h1.2M400.6 278.1h1.2M352.4 183.8h1.2M406.0 268.1h1.2M219.2 152.9h1.2M213.3 150.6h1.2M399.0 260.9h1.2M270.9 154.2h1.2M350.2 178.4h1.2M214.4 151.4h1.2M329.6 173.7h1.2M327.6 165.9h1.2M211.7 151.3h1.2M391.3 248.6h1.2M389.6 449.3h1.2M342.4 188.3h1.2M405.8 288.8h1.2M390.6 463.5h1.2M397.7 233.4h1.2M240.1 152.2h1.2M246.6 153.7h1.2M238.8 152.1h1.2M150.1 134.3h1.2M394.8 236.6h1.2M404.6 281.7h1.2M332.5 184.5h1.2M184.2 141.4h1.2M389.5 250.4h1.2M197.1 144.5h1.2M390.7 267.2h1.2M320.2 162.1h1.2M272.5 154.7h1.2M333.1 169.3h1.2M148.1 146.7h1.2M287.6 154.7h1.2M401.6 249.1h1.2M127.7 136.0h1.2M255.3 155.5h1.2M384.5 222.7h1.2M403.0 251.1h1.2M401.1 264.1h1.2M391.5 471.2h1.2M404.5 251.8h1.2M386.8 217.6h1.2M322.2 165.7h1.2M405.4 288.9h1.2M344.5 175.4h1.2M401.6 346.5h1.2M393.3 224.6h1.2M378.5 207.4h1.2M327.2 174.5h1.2M397.3 241.5h1.2M311.3 159.6h1.2M121.3 137.0h1.2M389.5 434.1h1.2M389.5 224.8h1.2M221.6 155.2h1.2M215.7 152.7h1.2M172.8 137.6h1.2M167.2 140.5h1.2M402.8 300.9h1.2M402.1 343.5h1.2M366.0 185.8h1.2M236.2 152.6h1.2M282.0 154.8h1.2M402.7 265.5h1.2M338.3 170.4h1.2M169.6 141.0h1.2M395.3 384.5h1.2M196.4 148.0h1.2M244.0 152.6h1.2M406.2 297.6h1.2M291.2 157.1h1.2M150.5 140.5h1.2M397.2 245.6h1.2M379.5 213.6h1.2M369.3 194.4h1.2M282.5 154.4h1.2M244.6 152.7h1.2M220.1 153.4h1.2M162.2 156.4h1.2M152.3 139.0h1.2M379.7 207.4h1.2M346.6 174.2h1.2M163.2 138.2h1.2M162.0 136.4h1.2M317.7 164.0h1.2M197.8 145.4h1.2M406.5 276.2h1.2M236.3 152.0h1.2M403.5 254.9h1.2M395.8 247.0h1.2M214.7 154.2h1.2M308.4 158.7h1.2M405.8 258.5h1.2M398.8 334.0h1.2M218.2 151.9h1.2M396.4 246.2h1.2M245.0 154.9h1.2M270.0 153.7h1.2M333.0 170.1h1.2M400.2 257.4h1.2M389.1 221.5h1.2M353.3 179.9h1.2M369.5 188.9h1.2M355.0 186.4h1.2M117.5 137.4h1.2M403.8 292.5h1.2M365.3 186.7h1.2M322.2 180.1h1.2M234.5 152.7h1.2M390.4 218.2h1.2M396.4 275.6h1.2M295.6 155.3h1.2M324.4 164.3h1.2M380.2 203.2h1.2M182.2 140.5h1.2M390.5 217.6h1.2M390.9 227.5h1.2M353.8 185.5h1.2M393.9 295.8h1.2M405.5 260.0h1.2M375.2 205.1h1.2M353.3 177.2h1.2M380.1 216.8h1.2M219.5 151.5h1.2M389.1 323.8h1.2M176.2 138.3h1.2M182.5 139.3h1.2M398.7 279.8h1.2M367.8 188.5h1.2M163.3 142.7h1.2M250.2 152.8h1.2M155.6 138.0h1.2M351.0 178.3h1.2M363.4 188.5h1.2M195.8 143.5h1.2M392.3 219.9h1.2M221.2 154.1h1.2M403.6 308.7h1.2M180.5 155.5h1.2M249.3 152.8h1.2M239.0 154.3h1.2M153.6 140.0h1.2M170.1 139.4h1.2M309.3 160.0h1.2M170.5 137.6h1.2M370.5 190.7h1.2M405.3 271.7h1.2M378.0 198.5h1.2M405.4 266.3h1.2M403.1 312.4h1.2M220.7 151.2h1.2M354.8 183.7h1.2M266.5 154.4h1.2M244.6 154.2h1.2M329.4 167.9h1.2M332.1 172.3h1.2M403.3 329.8h1.2M329.8 169.2h1.2M371.1 190.6h1.2M402.5 282.0h1.2M378.1 204.1h1.2M398.2 363.8h1.2M181.0 144.9h1.2M356.5 189.0h1.2M196.7 145.5h1.2M160.5 136.0h1.2M300.1 156.2h1.2M384.6 238.4h1.2M290.1 156.5h1.2M199.8 146.3h1.2M172.9 140.0h1.2M156.8 146.6h1.2M230.5 162.8h1.2M233.8 152.4h1.2M397.5 310.1h1.2M181.3 161.9h1.2M405.1 265.6h1.2M398.1 312.1h1.2M404.1 324.6h1.2M210.7 151.3h1.2M212.0 157.9h1.2M402.9 274.9h1.2M369.9 196.9h1.2M314.7 160.2h1.2M396.6 374.4h1.2M404.5 297.0h1.2M315.7 160.7h1.2M159.7 144.3h1.2M143.0 135.8h1.2M275.1 158.6h1.2M247.5 152.5h1.2M295.8 156.5h1.2M385.5 422.8h1.2M152.6 144.5h1.2M401.4 317.0h1.2M302.8 157.5h1.2M218.1 151.6h1.2M395.3 274.5h1.2M382.0 205.2h1.2M136.0 135.9h1.2M175.0 137.9h1.2M385.1 210.5h1.2M248.4 152.7h1.2M211.6 156.9h1.2M406.5 299.5h1.2M405.6 270.8h1.2M163.1 155.8h1.2M177.8 138.0h1.2M268.4 154.3h1.2M276.1 155.7h1.2M390.0 215.8h1.2M124.3 136.8h1.2M351.0 179.7h1.2M129.4 136.6h1.2M248.8 152.6h1.2M228.2 152.0h1.2M235.5 152.0h1.2M403.3 320.2h1.2M270.4 154.5h1.2M388.9 216.6h1.2M253.6 154.2h1.2M403.3 310.3h1.2M311.6 159.0h1.2M267.6 153.7h1.2M239.4 152.9h1.2M398.9 281.1h1.2M380.4 202.8h1.2M400.9 241.3h1.2M350.8 175.6h1.2M400.7 329.0h1.2M197.5 147.3h1.2M255.2 153.2h1.2M180.2 144.9h1.2M306.6 159.0h1.2M134.7 135.0h1.2M404.2 302.7h1.2M354.9 184.3h1.2M247.0 153.5h1.2M379.8 200.8h1.2M255.0 153.8h1.2M282.6 155.1h1.2M402.3 298.9h1.2M404.4 315.2h1.2M134.8 134.9h1.2M360.7 185.5h1.2M395.2 227.4h1.2M152.9 143.9h1.2M406.2 269.6h1.2M368.5 186.8h1.2M405.6 291.8h1.2M405.4 260.3h1.2M217.3 151.1h1.2M305.2 157.3h1.2M405.0 280.7h1.2M402.3 258.7h1.2M391.0 229.0h1.2M373.8 193.9h1.2M402.6 332.6h1.2M350.6 189.0h1.2M168.1 143.8h1.2M399.7 300.6h1.2M173.6 142.5h1.2M402.3 256.3h1.2M179.2 142.2h1.2M156.4 142.0h1.2M391.4 217.9h1.2M280.2 154.4h1.2M189.6 156.8h1.2M190.2 142.1h1.2M400.2 295.7h1.2M399.1 319.0h1.2M396.6 239.5h1.2M382.7 239.2h1.2M239.8 152.5h1.2M151.2 136.5h1.2M405.7 274.4h1.2M330.9 169.4h1.2M263.6 154.1h1.2M378.9 200.5h1.2M266.3 155.2h1.2M382.9 207.5h1.2M253.4 153.1h1.2M228.9 155.6h1.2M335.7 171.9h1.2M314.9 161.7h1.2M271.6 153.7h1.2M404.0 307.7h1.2M162.0 141.2h1.2M403.1 334.2h1.2M246.8 152.5h1.2M401.7 278.6h1.2M206.0 148.7h1.2M333.7 174.4h1.2M351.1 179.2h1.2M306.4 157.9h1.2M395.9 272.7h1.2M403.3 304.8h1.2M164.1 152.8h1.2M400.5 317.3h1.2M176.3 141.2h1.2M405.4 281.4h1.2M205.1 151.3h1.2M368.8 203.4h1.2M229.2 156.8h1.2M308.9 158.1h1.2M129.3 136.3h1.2M195.1 148.7h1.2M280.9 155.6h1.2M396.9 247.7h1.2M261.3 153.4h1.2M304.1 157.2h1.2M270.7 154.2h1.2M317.5 161.6h1.2M221.3 153.8h1.2M403.9 312.6h1.2M307.6 157.8h1.2M405.1 252.8h1.2M224.3 156.5h1.2M163.2 136.4h1.2M404.6 313.2h1.2M273.5 155.9h1.2M400.4 240.9h1.2M386.2 246.7h1.2M289.9 154.7h1.2M381.7 204.5h1.2M393.6 233.0h1.2M317.6 161.8h1.2M166.3 137.5h1.2M185.1 138.9h1.2M378.2 203.5h1.2M268.7 153.7h1.2M178.4 144.6h1.2M313.2 159.9h1.2M401.3 331.2h1.2M300.8 156.6h1.2M405.2 283.8h1.2M351.2 188.8h1.2M373.7 193.9h1.2M142.2 135.4h1.2M403.3 256.2h1.2M239.8 153.9h1.2M366.6 186.9h1.2M368.2 190.9h1.2M206.7 149.0h1.2M262.4 153.5h1.2M347.5 176.7h1.2M401.1 316.0h1.2M395.4 382.6h1.2M313.4 160.7h1.2M405.7 295.4h1.2M294.3 155.4h1.2M405.8 294.9h1.2M390.5 424.3h1.2M405.1 271.7h1.2M338.3 172.0h1.2M404.8 258.8h1.2M347.1 175.8h1.2M405.4 297.2h1.2M160.1 141.1h1.2M283.2 154.3h1.2M288.7 155.6h1.2M403.9 294.6h1.2M326.9 170.3h1.2M257.3 153.1h1.2M329.5 179.0h1.2M276.6 154.1h1.2M388.1 215.4h1.2M365.9 198.4h1.2M320.0 163.5h1.2M206.0 154.0h1.2M199.9 149.2h1.2M247.9 153.2h1.2M185.8 151.9h1.2M355.4 180.7h1.2M161.2 147.0h1.2M241.3 152.5h1.2M199.0 146.7h1.2M328.0 171.7h1.2M269.2 154.6h1.2M344.6 175.1h1.2M406.6 284.6h1.2M396.9 227.5h1.2M337.3 171.2h1.2M284.6 155.9h1.2M403.8 322.7h1.2M389.5 429.3h1.2M377.6 204.2h1.2M402.0 334.1h1.2M312.0 160.0h1.2M368.4 185.8h1.2M187.3 140.9h1.2M405.8 280.0h1.2M222.1 151.5h1.2M403.4 325.9h1.2M402.3 251.6h1.2M367.1 189.9h1.2M166.8 137.5h1.2M395.2 371.3h1.2M309.4 160.2h1.2M224.0 151.9h1.2M307.2 160.7h1.2M394.6 231.8h1.2M393.0 226.3h1.2M399.2 252.0h1.2M391.0 220.4h1.2M401.2 273.4h1.2M180.6 138.4h1.2M389.5 425.4h1.2M310.2 159.0h1.2M162.6 137.0h1.2M346.7 176.4h1.2M171.7 146.4h1.2M152.0 135.0h1.2M148.4 151.3h1.2M291.9 155.2h1.2M315.5 160.7h1.2M257.8 153.6h1.2M394.9 288.4h1.2M243.7 153.2h1.2M393.2 235.9h1.2M400.4 291.3h1.2M252.5 153.6h1.2M390.6 462.4h1.2M122.0 136.7h1.2M278.9 154.0h1.2M149.7 136.4h1.2M192.7 144.5h1.2M294.9 155.8h1.2M401.7 239.5h1.2M389.2 434.2h1.2M377.9 198.8h1.2M396.2 245.4h1.2M368.6 192.6h1.2M403.9 298.7h1.2M190.8 141.0h1.2M329.7 171.4h1.2M388.2 221.2h1.2M402.3 287.9h1.2M155.7 138.1h1.2M200.5 146.9h1.2M178.5 140.0h1.2M153.1 145.1h1.2M249.0 152.8h1.2M199.4 149.0h1.2M162.0 136.2h1.2M397.3 289.9h1.2M380.8 206.4h1.2M393.7 285.2h1.2M197.2 149.9h1.2M400.8 319.8h1.2M339.1 177.5h1.2M306.6 160.7h1.2M378.7 216.5h1.2M376.4 198.5h1.2M395.9 224.8h1.2M132.4 138.2h1.2M389.2 436.7h1.2M343.9 180.9h1.2M405.4 287.2h1.2M385.5 217.7h1.2M397.3 314.8h1.2M386.6 235.2h1.2M153.9 151.7h1.2M398.9 326.6h1.2M396.2 288.5h1.2M159.5 138.1h1.2M393.1 324.9h1.2M266.7 154.7h1.2M223.5 151.4h1.2M281.7 154.3h1.2M403.0 335.4h1.2M249.7 153.4h1.2M403.2 246.0h1.2M400.1 242.7h1.2M398.2 285.6h1.2M377.1 204.7h1.2M231.4 153.0h1.2M305.7 158.1h1.2M402.9 279.8h1.2M399.4 234.5h1.2M202.7 148.7h1.2M220.5 154.2h1.2M271.1 153.7h1.2M402.4 299.9h1.2M270.9 154.0h1.2M242.2 155.4h1.2M402.7 333.3h1.2M320.9 167.6h1.2M217.6 155.6h1.2M402.0 334.8h1.2M325.8 165.0h1.2M138.7 134.7h1.2M218.6 151.3h1.2M239.8 154.1h1.2M241.1 154.2h1.2M140.2 136.7h1.2M212.2 150.1h1.2M153.3 137.0h1.2M402.9 245.0h1.2M266.7 154.5h1.2M393.3 309.6h1.2M243.3 154.0h1.2M189.8 140.9h1.2M393.8 251.4h1.2M390.1 251.9h1.2M364.5 184.8h1.2M265.7 153.3h1.2M360.7 181.0h1.2M160.6 136.4h1.2M251.9 154.0h1.2M403.6 275.4h1.2M331.8 172.7h1.2M382.8 230.3h1.2M197.3 144.6h1.2M180.9 153.6h1.2M406.4 271.5h1.2M394.9 227.9h1.2M344.1 174.4h1.2M163.4 141.8h1.2M347.7 175.0h1.2M403.7 319.3h1.2M382.4 238.8h1.2M399.4 306.1h1.2M397.2 288.7h1.2M393.8 316.8h1.2M405.6 274.5h1.2M405.8 281.8h1.2M176.4 139.7h1.2M380.6 225.1h1.2M377.4 204.7h1.2M397.8 247.6h1.2M387.4 321.7h1.2M233.0 152.2h1.2M399.9 299.7h1.2M247.2 152.5h1.2M403.2 333.6h1.2M140.8 136.5h1.2M375.7 194.4h1.2M201.9 148.1h1.2M387.9 251.7h1.2M399.5 362.5h1.2M392.9 224.0h1.2M221.9 155.2h1.2M381.1 207.6h1.2M402.2 340.6h1.2M184.0 143.8h1.2M171.3 146.5h1.2M403.5 330.5h1.2M181.1 138.4h1.2M395.6 371.8h1.2M389.6 221.1h1.2M317.9 161.2h1.2M402.7 252.9h1.2M390.5 460.5h1.2M394.7 223.9h1.2M392.8 222.9h1.2M403.3 332.4h1.2M322.2 164.0h1.2M215.3 151.9h1.2M350.4 183.4h1.2M248.6 153.2h1.2M154.0 136.7h1.2M157.1 137.2h1.2M323.0 164.9h1.2M176.6 142.4h1.2M403.4 314.4h1.2M385.1 208.0h1.2M192.2 155.1h1.2M302.2 156.6h1.2M214.9 151.3h1.2M332.3 168.2h1.2M227.9 152.6h1.2M220.4 151.5h1.2M249.8 153.1h1.2M400.0 299.0h1.2M391.4 217.7h1.2M405.3 309.5h1.2M117.1 140.4h1.2M377.3 203.8h1.2M397.4 369.7h1.2M405.6 262.9h1.2M390.7 401.5h1.2M373.5 194.9h1.2M318.7 161.7h1.2M306.4 157.6h1.2M151.9 137.4h1.2M364.8 185.8h1.2M395.6 251.2h1.2M224.4 151.7h1.2M192.9 142.9h1.2M369.6 194.7h1.2M404.6 284.9h1.2M171.4 147.7h1.2M351.0 182.0h1.2M388.7 259.7h1.2M402.7 253.0h1.2M406.3 279.8h1.2M313.4 162.8h1.2M362.3 183.8h1.2M399.3 327.2h1.2M209.5 150.9h1.2M391.8 407.1h1.2M405.4 297.1h1.2M394.6 227.1h1.2M402.5 331.6h1.2M401.9 303.0h1.2M299.6 156.3h1.2M383.1 240.2h1.2M157.7 138.7h1.2M256.5 155.0h1.2M218.2 152.9h1.2M158.0 138.0h1.2M376.8 201.9h1.2M163.1 139.3h1.2M322.0 163.1h1.2M397.7 301.4h1.2M240.0 152.3h1.2M406.6 288.0h1.2M380.5 202.5h1.2M274.5 155.5h1.2M175.6 138.8h1.2M316.2 161.5h1.2M299.4 156.7h1.2M312.0 160.3h1.2M388.8 291.9h1.2M150.5 137.3h1.2M405.7 267.2h1.2M278.2 155.5h1.2M340.4 176.2h1.2M398.0 292.4h1.2M278.7 155.2h1.2M279.0 154.1h1.2M406.5 269.4h1.2M299.5 158.2h1.2M351.8 179.6h1.2M146.8 136.9h1.2M390.8 419.3h1.2M404.4 250.8h1.2M397.4 373.7h1.2M302.4 156.9h1.2M402.7 315.8h1.2M348.9 180.7h1.2M327.1 170.2h1.2M317.5 164.3h1.2M374.9 196.9h1.2M208.8 150.4h1.2M351.9 184.1h1.2M313.7 160.0h1.2M191.5 146.5h1.2M391.9 258.8h1.2M400.8 256.6h1.2M158.6 149.4h1.2M154.5 137.4h1.2M215.8 151.0h1.2M265.4 153.2h1.2M189.7 146.9h1.2M389.3 416.5h1.2M306.1 157.7h1.2M283.8 155.2h1.2M389.2 225.8h1.2M261.0 153.2h1.2M209.0 152.1h1.2M178.0 151.9h1.2M402.7 300.3h1.2M278.8 154.1h1.2M170.7 137.3h1.2M396.2 290.2h1.2M344.2 175.3h1.2M362.5 185.1h1.2M406.5 293.1h1.2M248.7 153.0h1.2M283.9 154.5h1.2M372.6 214.2h1.2M405.1 253.6h1.2M314.3 160.0h1.2M289.3 154.7h1.2M178.3 142.2h1.2M259.0 153.0h1.2M398.2 363.6h1.2M180.9 139.0h1.2M267.9 154.4h1.2M266.6 153.4h1.2M272.7 153.7h1.2M175.9 146.6h1.2M166.0 141.0h1.2M286.0 157.5h1.2M290.2 155.7h1.2M183.4 141.1h1.2M405.6 280.2h1.2M395.3 236.4h1.2M396.0 289.8h1.2M367.6 185.8h1.2M388.5 213.2h1.2M395.5 379.1h1.2M136.8 134.9h1.2M272.4 153.8h1.2M389.8 266.2h1.2M185.6 139.5h1.2M391.9 222.6h1.2M406.0 268.3h1.2M222.9 153.5h1.2M368.3 197.8h1.2M205.2 148.5h1.2M402.9 288.5h1.2M235.5 152.8h1.2M394.0 390.5h1.2M278.1 155.0h1.2M206.4 150.6h1.2M207.3 151.0h1.2M397.6 232.6h1.2M282.7 154.4h1.2M379.2 210.3h1.2M404.4 279.3h1.2M203.1 148.9h1.2M393.6 265.4h1.2M352.9 181.8h1.2M156.8 135.7h1.2M361.1 183.9h1.2M397.1 328.7h1.2M180.1 141.8h1.2M395.8 378.3h1.2M389.5 467.8h1.2M402.3 260.4h1.2M300.3 156.2h1.2M398.5 234.0h1.2M402.2 333.5h1.2M312.2 162.6h1.2M390.7 432.2h1.2M405.5 279.0h1.2M405.7 307.1h1.2M202.3 150.6h1.2M285.8 157.0h1.2M347.1 174.3h1.2M227.6 152.9h1.2M320.8 162.6h1.2M402.6 260.7h1.2M396.7 299.8h1.2M183.5 139.3h1.2M299.7 156.5h1.2M127.8 136.0h1.2M403.9 254.1h1.2M292.4 156.5h1.2M404.2 264.7h1.2M224.1 151.6h1.2M403.7 267.0h1.2M391.9 231.0h1.2M327.5 167.7h1.2M403.6 275.9h1.2M370.4 191.4h1.2M198.0 145.6h1.2M228.8 153.3h1.2M191.0 150.2h1.2M404.7 283.9h1.2M194.3 145.8h1.2M234.0 153.8h1.2M292.8 156.1h1.2M388.3 326.9h1.2M400.3 313.8h1.2M233.7 152.1h1.2M120.5 137.2h1.2M181.0 139.3h1.2M396.2 240.7h1.2M159.1 138.6h1.2M224.6 155.5h1.2M197.7 145.8h1.2M405.3 305.1h1.2M175.4 141.3h1.2M376.9 196.9h1.2M140.4 135.2h1.2M397.5 229.0h1.2M382.1 206.1h1.2M402.4 334.1h1.2M377.1 198.1h1.2M215.6 151.3h1.2M199.8 146.8h1.2M400.0 269.6h1.2M264.2 157.1h1.2M394.4 301.2h1.2M270.1 153.8h1.2M347.8 177.4h1.2M148.9 134.3h1.2M392.8 245.8h1.2M396.0 299.5h1.2M402.6 274.9h1.2M172.0 140.6h1.2M397.2 367.3h1.2M326.6 172.7h1.2M400.8 267.4h1.2M367.6 187.8h1.2M400.6 277.8h1.2M402.4 262.5h1.2M175.6 144.6h1.2M383.3 225.2h1.2M392.4 226.8h1.2M397.9 299.3h1.2M314.2 161.0h1.2M404.9 265.5h1.2M308.5 158.5h1.2M309.7 160.2h1.2M404.7 318.1h1.2M263.2 153.4h1.2M405.3 284.8h1.2M389.9 215.6h1.2M318.1 163.5h1.2M173.7 145.5h1.2M362.8 186.8h1.2M373.0 201.8h1.2M394.1 226.7h1.2M268.4 156.1h1.2M393.0 474.7h1.2M403.2 247.8h1.2M323.8 163.9h1.2M222.5 152.1h1.2M190.6 141.0h1.2M343.4 178.3h1.2M383.2 209.1h1.2M348.4 174.8h1.2M205.3 150.5h1.2M165.5 144.3h1.2M402.8 331.9h1.2M214.8 154.7h1.2M141.7 134.6h1.2M403.1 318.8h1.2M214.7 151.8h1.2M176.5 145.4h1.2M326.9 166.7h1.2M281.1 155.2h1.2M121.7 137.7h1.2M343.2 177.5h1.2M292.8 155.3h1.2M317.5 161.1h1.2M214.0 151.0h1.2M281.0 154.8h1.2M406.1 268.7h1.2M249.0 155.2h1.2M379.7 205.6h1.2M295.9 156.3h1.2M362.3 182.6h1.2M187.0 141.2h1.2M381.4 222.9h1.2M264.6 153.8h1.2M296.8 156.0h1.2M377.0 204.0h1.2M194.1 146.0h1.2M152.1 138.2h1.2M307.0 157.5h1.2M238.7 152.2h1.2M321.1 164.4h1.2M267.4 153.6h1.2M163.5 145.1h1.2M150.8 149.6h1.2M190.0 159.9h1.2M397.0 314.0h1.2M333.6 168.6h1.2M152.6 138.2h1.2M406.3 262.5h1.2M401.6 319.4h1.2M379.7 204.4h1.2M400.7 340.7h1.2M396.9 230.0h1.2M318.5 162.2h1.2M389.3 459.1h1.2M364.6 187.0h1.2M402.3 321.6h1.2M194.8 143.6h1.2M391.1 426.8h1.2M187.9 142.9h1.2M336.3 182.0h1.2M402.0 277.1h1.2M399.7 249.6h1.2M400.5 355.7h1.2M400.7 323.7h1.2M167.9 147.0h1.2M160.4 148.0h1.2M177.8 138.6h1.2M147.2 134.7h1.2M182.7 146.9h1.2M194.3 142.3h1.2M402.0 239.8h1.2M336.6 177.3h1.2M403.3 267.8h1.2M295.2 155.6h1.2M388.8 309.8h1.2M175.1 139.5h1.2M347.6 184.4h1.2M319.6 162.6h1.2M402.9 326.5h1.2M296.3 155.8h1.2M394.7 228.5h1.2M398.5 288.1h1.2M370.2 190.0h1.2M399.9 341.2h1.2M395.1 247.5h1.2M384.4 207.2h1.2M386.5 217.8h1.2M404.0 281.5h1.2M384.4 316.5h1.2M400.8 316.8h1.2M311.5 159.0h1.2M395.8 227.9h1.2M394.2 222.4h1.2M157.3 137.1h1.2M300.4 156.5h1.2M358.6 182.8h1.2M304.5 158.0h1.2M205.7 149.7h1.2M171.6 137.4h1.2M317.8 162.2h1.2M310.0 161.3h1.2M254.9 153.2h1.2M299.4 157.0h1.2M317.8 162.9h1.2M375.1 196.0h1.2M359.4 180.9h1.2M198.8 146.2h1.2M299.6 156.5h1.2M401.8 296.8h1.2M403.5 262.4h1.2M218.6 151.7h1.2M293.0 155.2h1.2M401.4 240.0h1.2M399.3 244.4h1.2M405.9 302.5h1.2M396.7 229.4h1.2M399.0 268.2h1.2M341.8 178.0h1.2M268.3 153.4h1.2M395.9 228.0h1.2M227.2 152.4h1.2M383.4 223.4h1.2M355.3 193.4h1.2M315.1 160.2h1.2M337.5 173.0h1.2M142.7 134.5h1.2M205.3 153.6h1.2M234.7 153.9h1.2M280.2 156.2h1.2M319.6 162.1h1.2M159.3 139.6h1.2M353.0 182.4h1.2M341.2 177.8h1.2M195.8 144.3h1.2M391.1 227.8h1.2M406.0 302.0h1.2M252.7 153.7h1.2M252.5 153.3h1.2M165.1 145.0h1.2M297.4 156.9h1.2M267.9 153.4h1.2M238.4 152.2h1.2M149.6 136.9h1.2M403.2 286.9h1.2M404.3 301.1h1.2M259.8 153.2h1.2M179.0 148.2h1.2M238.7 152.4h1.2M326.9 169.2h1.2M152.2 140.2h1.2M223.2 153.7h1.2M321.2 163.3h1.2M399.6 233.3h1.2M403.6 245.1h1.2M360.8 190.7h1.2M396.0 380.1h1.2M217.9 151.6h1.2M405.6 307.0h1.2M367.6 187.0h1.2M403.8 271.0h1.2M347.4 177.3h1.2M122.3 137.0h1.2M187.9 141.6h1.2M189.1 145.6h1.2M395.5 379.5h1.2M357.4 183.9h1.2M392.0 240.3h1.2M210.2 149.8h1.2M393.6 227.3h1.2M401.3 349.4h1.2M236.0 152.1h1.2M326.9 167.2h1.2M261.8 153.1h1.2M305.5 157.3h1.2M406.1 261.3h1.2M161.3 143.6h1.2M320.8 162.5h1.2M255.8 153.0h1.2M166.3 145.1h1.2M207.1 154.7h1.2M364.4 183.9h1.2M394.0 238.1h1.2M399.4 253.9h1.2M405.5 269.3h1.2M359.8 183.2h1.2M403.1 328.2h1.2M326.0 171.0h1.2M396.8 235.9h1.2M272.8 154.6h1.2M403.2 284.9h1.2M279.3 154.7h1.2M403.5 270.6h1.2M245.2 152.7h1.2M405.2 276.1h1.2M209.2 150.3h1.2M299.9 156.4h1.2M122.9 136.8h1.2M249.8 153.5h1.2M404.2 262.2h1.2M392.8 241.3h1.2M148.1 134.3h1.2M184.3 139.7h1.2M184.3 172.4h1.2M310.0 160.2h1.2M205.6 151.2h1.2M156.1 136.9h1.2M398.1 299.8h1.2M373.3 200.1h1.2M400.2 331.5h1.2M306.1 158.7h1.2M375.8 199.5h1.2M300.2 157.5h1.2M370.0 188.3h1.2M162.6 140.4h1.2M391.6 401.7h1.2M321.0 163.0h1.2M221.7 153.0h1.2M357.8 182.5h1.2M406.3 288.1h1.2M239.5 152.5h1.2M363.0 183.3h1.2M403.6 313.3h1.2M398.5 255.2h1.2M402.1 337.4h1.2M277.4 154.3h1.2M263.7 153.9h1.2M263.3 155.1h1.2M404.9 259.7h1.2M135.8 136.1h1.2M402.0 309.5h1.2M306.2 158.2h1.2M401.2 328.0h1.2M405.2 306.3h1.2M401.0 328.9h1.2M309.9 158.7h1.2M212.3 152.7h1.2M386.7 249.3h1.2M399.2 327.6h1.2M168.9 137.6h1.2M401.3 250.0h1.2M292.5 155.2h1.2M395.8 303.0h1.2M300.3 156.6h1.2M390.5 220.4h1.2M402.4 292.6h1.2M299.1 156.6h1.2M261.7 153.2h1.2M360.1 182.8h1.2M391.7 218.4h1.2M401.7 307.6h1.2M400.6 319.6h1.2M343.7 175.2h1.2M402.4 314.3h1.2M394.8 251.7h1.2M394.6 287.2h1.2M395.2 230.5h1.2M402.8 275.7h1.2M401.9 327.4h1.2M348.2 177.6h1.2M280.5 154.7h1.2M182.8 142.5h1.2M232.7 154.1h1.2M174.5 139.9h1.2M260.7 153.5h1.2M398.6 360.7h1.2M279.4 155.3h1.2M322.5 169.0h1.2M262.0 153.5h1.2M318.1 163.6h1.2M354.5 180.8h1.2M389.5 216.2h1.2M390.4 236.6h1.2M200.8 150.3h1.2M274.7 154.0h1.2M220.8 152.8h1.2M398.0 370.9h1.2M401.1 285.4h1.2M207.0 154.1h1.2M240.7 153.7h1.2M367.4 197.9h1.2M404.2 324.6h1.2M137.2 135.1h1.2M291.2 156.3h1.2M400.0 312.9h1.2M256.0 153.0h1.2M288.4 156.0h1.2M184.3 141.1h1.2M297.3 157.3h1.2M348.7 177.2h1.2M256.6 154.1h1.2M392.1 228.5h1.2M209.8 153.0h1.2M299.7 157.6h1.2M387.0 213.6h1.2M342.5 178.3h1.2M397.3 228.0h1.2M190.4 145.5h1.2M210.0 153.2h1.2M265.1 155.2h1.2M313.4 160.1h1.2M406.4 277.0h1.2M401.4 327.3h1.2M278.8 154.1h1.2M240.7 153.0h1.2M401.7 312.8h1.2M232.3 153.5h1.2M285.4 154.6h1.2M396.0 224.4h1.2M343.2 175.7h1.2M314.5 160.8h1.2M399.4 269.9h1.2M291.3 155.2h1.2M234.4 153.2h1.2M142.4 137.7h1.2M405.6 299.3h1.2M390.2 221.8h1.2M385.6 214.1h1.2M404.8 254.4h1.2M394.5 235.0h1.2M405.6 256.6h1.2M253.1 153.1h1.2M275.0 155.6h1.2M227.7 152.9h1.2M278.1 154.0h1.2M208.2 150.1h1.2M370.5 191.9h1.2M240.4 152.8h1.2M169.8 142.2h1.2M268.6 155.9h1.2M405.9 263.4h1.2M401.3 329.5h1.2M381.7 202.6h1.2M358.2 179.7h1.2M386.9 213.2h1.2M252.9 155.8h1.2M209.1 150.4h1.2M404.1 302.6h1.2M214.3 153.8h1.2M154.6 140.5h1.2M190.8 148.1h1.2M231.0 152.1h1.2M404.8 278.7h1.2M217.9 152.4h1.2M367.7 190.9h1.2M402.0 321.7h1.2M265.0 154.4h1.2M352.0 176.3h1.2M390.1 271.9h1.2M340.9 190.1h1.2M211.5 150.3h1.2M263.0 153.3h1.2M231.3 153.3h1.2M366.1 186.8h1.2M397.8 365.8h1.2M363.3 201.0h1.2M312.1 160.1h1.2M172.7 140.5h1.2M211.5 151.7h1.2M400.6 245.6h1.2M159.0 140.7h1.2M190.4 143.0h1.2M396.7 227.6h1.2M191.2 149.5h1.2M400.9 244.4h1.2M361.1 185.2h1.2M169.3 160.5h1.2M199.3 147.5h1.2M322.8 164.8h1.2M363.1 193.9h1.2M347.5 177.0h1.2M406.4 277.4h1.2M326.2 168.7h1.2M371.4 190.6h1.2M397.7 235.9h1.2M405.4 263.1h1.2M160.4 149.2h1.2M402.5 313.2h1.2M166.5 140.2h1.2M394.7 239.1h1.2M243.4 153.2h1.2M177.8 155.4h1.2M375.7 203.3h1.2M265.5 157.4h1.2M193.1 141.8h1.2M389.8 434.1h1.2M278.2 154.9h1.2M342.7 172.3h1.2M165.9 138.4h1.2M401.1 319.2h1.2M375.8 196.5h1.2M396.9 285.7h1.2M244.6 152.5h1.2M294.2 156.3h1.2M273.3 153.7h1.2M353.6 177.1h1.2M398.4 265.5h1.2M300.4 157.2h1.2M280.7 155.6h1.2M164.8 138.7h1.2M120.2 137.6h1.2M380.4 221.0h1.2M316.4 162.1h1.2M387.1 214.1h1.2M397.1 371.2h1.2M165.0 138.1h1.2M313.5 161.8h1.2M258.5 153.5h1.2M209.4 153.5h1.2M234.5 152.3h1.2M405.1 292.9h1.2M396.6 305.7h1.2M182.9 146.2h1.2M406.0 279.6h1.2M177.6 138.6h1.2M390.1 438.8h1.2M402.8 334.2h1.2M404.8 277.7h1.2M397.3 308.6h1.2M404.4 275.0h1.2M400.5 327.7h1.2M403.3 333.2h1.2M403.4 258.4h1.2M399.7 333.7h1.2M399.5 261.3h1.2M347.8 176.7h1.2M251.0 153.1h1.2M351.2 178.1h1.2M304.0 157.3h1.2M217.5 151.4h1.2M397.4 263.1h1.2M351.2 175.9h1.2M391.2 403.5h1.2M196.9 146.6h1.2M401.0 240.7h1.2M399.2 257.0h1.2M190.6 149.3h1.2M405.8 288.6h1.2M213.0 151.7h1.2M293.3 155.5h1.2M364.0 189.8h1.2M273.7 154.7h1.2M320.1 162.1h1.2M343.7 174.2h1.2M391.5 468.1h1.2M247.8 153.8h1.2M399.3 296.3h1.2M403.1 330.2h1.2M395.2 240.7h1.2M405.7 279.4h1.2M393.4 241.0h1.2M400.7 270.6h1.2M381.5 209.7h1.2M268.7 154.4h1.2M198.0 151.1h1.2M388.7 221.1h1.2M397.8 360.9h1.2M282.9 154.7h1.2M401.3 282.7h1.2M404.0 302.8h1.2M305.0 158.4h1.2M237.3 152.5h1.2M176.5 139.6h1.2M180.6 139.7h1.2M284.5 154.6h1.2M227.2 153.2h1.2M185.6 150.0h1.2M381.1 207.0h1.2M253.8 156.5h1.2M340.5 171.4h1.2M401.9 289.7h1.2M185.6 147.0h1.2M273.9 156.2h1.2M188.6 141.1h1.2M156.2 139.9h1.2M386.7 214.1h1.2M274.1 159.2h1.2M383.0 257.5h1.2M392.3 472.4h1.2M394.1 233.4h1.2M399.8 304.3h1.2M361.2 186.0h1.2M366.8 189.4h1.2M120.3 137.5h1.2M230.4 151.9h1.2M343.7 173.2h1.2M389.1 218.0h1.2M353.1 178.5h1.2M397.0 315.3h1.2M389.5 223.0h1.2M326.7 167.5h1.2M210.9 154.0h1.2M402.8 333.3h1.2M335.6 175.6h1.2M123.6 137.5h1.2M389.9 223.2h1.2M149.4 146.7h1.2M404.8 264.3h1.2M364.5 188.0h1.2M406.1 278.8h1.2M269.9 153.5h1.2M194.8 144.8h1.2M388.6 228.7h1.2M399.7 239.6h1.2M243.0 153.2h1.2M181.1 138.8h1.2M402.2 322.9h1.2M403.5 330.6h1.2M301.9 158.8h1.2M209.3 151.5h1.2M354.1 180.5h1.2M283.0 154.7h1.2M397.7 318.0h1.2M171.9 137.6h1.2M178.4 140.7h1.2M397.5 280.4h1.2M396.2 239.5h1.2M175.8 141.4h1.2M289.1 156.5h1.2M402.1 322.9h1.2M160.7 138.0h1.2M225.6 153.5h1.2M361.7 191.2h1.2M341.3 172.0h1.2M392.1 313.0h1.2M403.4 326.6h1.2M388.1 214.0h1.2M398.8 260.7h1.2M396.0 233.2h1.2M366.7 190.3h1.2M285.3 154.8h1.2M322.3 163.9h1.2M162.1 137.3h1.2M406.0 288.6h1.2M391.3 414.5h1.2M348.1 182.1h1.2M376.7 199.9h1.2M401.8 247.8h1.2M329.4 166.7h1.2M253.1 153.2h1.2M286.8 155.7h1.2M289.0 156.3h1.2M312.3 160.7h1.2M366.9 189.9h1.2M221.9 151.5h1.2M402.3 302.6h1.2M404.8 299.7h1.2M390.0 445.5h1.2M404.8 252.7h1.2M402.9 333.5h1.2M389.0 215.2h1.2M388.8 215.9h1.2M335.0 179.8h1.2M205.2 150.0h1.2M231.8 153.2h1.2M405.2 312.9h1.2M207.2 151.6h1.2M316.3 164.3h1.2M280.5 155.1h1.2M396.8 229.1h1.2M401.1 240.9h1.2M387.8 230.8h1.2M177.8 139.2h1.2M390.6 218.7h1.2M263.1 154.1h1.2M310.2 158.7h1.2M374.9 203.1h1.2M356.6 180.2h1.2M301.0 156.8h1.2M168.1 143.7h1.2M211.9 151.2h1.2M357.0 179.0h1.2M396.6 318.3h1.2M303.3 158.5h1.2M288.9 154.9h1.2M208.3 153.4h1.2M375.9 217.3h1.2M404.4 268.3h1.2M397.9 238.9h1.2M398.3 369.2h1.2M263.9 153.7h1.2M196.0 143.9h1.2M210.7 150.5h1.2M305.9 158.4h1.2M377.9 198.7h1.2M361.4 192.2h1.2M202.8 153.5h1.2M393.0 475.0h1.2M224.6 152.8h1.2M331.7 170.2h1.2M402.5 279.4h1.2M223.1 151.5h1.2M405.1 254.6h1.2M377.7 199.0h1.2M197.8 152.8h1.2M315.0 161.0h1.2M395.7 228.2h1.2M295.0 156.1h1.2M391.7 304.7h1.2M172.2 141.4h1.2M169.5 143.6h1.2M280.4 154.1h1.2M396.6 311.3h1.2M395.1 228.0h1.2M232.2 152.0h1.2M150.8 134.1h1.2M189.9 125.5h1.2M176.0 137.6h1.2M181.6 133.2h1.2M169.6 137.1h1.2M143.5 131.8h1.2M119.9 136.9h1.2M185.7 127.3h1.2M186.0 126.8h1.2M111.1 138.8h1.2M190.2 138.5h1.2M185.8 129.4h1.2M177.1 138.1h1.2M175.4 131.0h1.2M150.3 130.0h1.2M174.4 127.0h1.2M192.8 133.6h1.2M174.5 128.8h1.2M183.2 134.2h1.2M177.2 127.8h1.2M179.6 135.5h1.2M186.7 136.3h1.2M184.4 128.3h1.2M140.3 135.3h1.2M191.9 133.7h1.2M166.6 136.8h1.2M193.0 139.4h1.2M185.4 130.9h1.2M167.3 133.0h1.2M136.6 132.7h1.2M124.9 136.1h1.2M176.1 133.2h1.2M164.8 132.4h1.2M170.1 137.4h1.2M133.2 133.3h1.2M176.9 127.2h1.2M116.9 138.2h1.2M183.4 131.8h1.2M183.5 128.3h1.2M148.8 132.1h1.2M133.1 135.6h1.2M192.8 137.1h1.2M137.2 133.1h1.2M179.4 129.8h1.2M151.9 130.0h1.2M186.7 132.0h1.2M170.8 129.0h1.2M159.3 131.6h1.2M148.6 132.3h1.2M193.7 129.0h1.2M156.5 135.3h1.2M167.0 129.2h1.2M193.2 139.1h1.2M179.9 132.7h1.2M175.9 130.6h1.2M193.6 140.6h1.2M183.3 133.4h1.2M181.3 132.6h1.2M136.8 133.5h1.2M134.1 132.9h1.2M194.2 136.1h1.2M188.8 133.9h1.2M167.3 136.7h1.2M176.3 127.1h1.2M179.3 137.5h1.2M189.0 129.3h1.2M188.5 139.4h1.2M154.8 132.7h1.2M176.2 132.9h1.2M179.5 128.7h1.2M141.3 132.6h1.2M161.5 131.3h1.2M168.1 129.8h1.2M158.2 133.4h1.2M146.6 134.9h1.2M137.6 135.4h1.2M115.9 137.8h1.2M191.3 136.4h1.2M183.7 136.2h1.2M137.0 134.0h1.2M181.1 126.3h1.2M173.8 136.0h1.2M182.6 130.4h1.2M193.4 131.2h1.2M135.4 133.8h1.2M152.2 130.1h1.2M153.5 129.6h1.2M141.9 133.0h1.2M171.4 137.3h1.2M168.8 130.5h1.2M159.0 130.1h1.2M166.7 132.3h1.2M183.0 137.9h1.2M165.2 134.3h1.2M166.2 136.5h1.2M172.1 134.4h1.2M191.1 128.5h1.2M179.6 136.0h1.2M162.8 134.6h1.2M147.3 133.1h1.2M191.7 139.1h1.2M176.4 127.0h1.2M176.3 128.4h1.2M142.4 133.9h1.2M186.7 136.3h1.2M184.3 136.2h1.2M193.0 135.0h1.2M126.1 135.3h1.2M171.6 131.6h1.2M168.6 128.8h1.2M180.2 135.5h1.2M177.7 128.5h1.2M185.6 137.5h1.2M178.2 127.8h1.2M168.6 136.2h1.2M192.0 138.6h1.2M179.6 131.8h1.2M161.7 128.9h1.2M172.1 130.2h1.2M190.4 130.4h1.2M182.9 133.0h1.2M170.1 134.3h1.2M183.5 138.1h1.2M176.1 134.1h1.2M189.5 131.1h1.2M173.3 133.0h1.2M170.3 133.3h1.2M176.0 129.1h1.2M187.6 128.5h1.2M178.7 136.5h1.2M185.4 137.1h1.2M178.0 137.3h1.2M151.6 131.6h1.2M162.1 129.1h1.2M123.4 136.8h1.2M173.1 130.2h1.2M115.6 138.3h1.2M189.4 125.9h1.2M187.7 134.2h1.2M177.3 129.5h1.2M161.6 133.9h1.2M175.1 137.2h1.2M182.7 127.2h1.2M167.1 128.1h1.2M174.7 137.4h1.2M139.6 131.8h1.2M178.3 129.9h1.2M157.9 135.1h1.2M157.1 129.9h1.2M187.7 132.6h1.2M135.2 134.8h1.2M172.3 127.3h1.2M184.8 136.4h1.2M188.0 134.7h1.2M157.6 133.3h1.2M170.2 131.9h1.2M178.0 136.0h1.2M166.7 130.9h1.2M187.0 127.6h1.2M169.2 134.9h1.2M169.6 132.4h1.2M162.2 136.3h1.2M152.7 131.1h1.2M194.0 138.5h1.2M153.0 129.6h1.2M174.5 129.2h1.2M147.2 130.6h1.2M180.1 129.4h1.2M189.5 126.3h1.2M149.6 134.0h1.2M183.3 126.9h1.2M167.9 131.2h1.2M140.2 133.4h1.2M172.8 130.2h1.2M179.7 132.7h1.2M158.8 135.2h1.2M151.0 134.0h1.2M189.8 128.2h1.2M184.0 135.8h1.2M192.5 138.0h1.2M173.4 131.2h1.2M110.7 139.0h1.2M141.9 132.4h1.2M167.6 130.5h1.2M184.2 129.4h1.2M172.2 130.7h1.2M181.7 127.4h1.2M163.0 129.3h1.2M174.1 137.1h1.2M189.4 136.3h1.2M177.3 137.9h1.2M189.0 137.4h1.2M116.0 138.1h1.2M176.3 127.2h1.2M164.8 134.7h1.2M135.5 132.7h1.2M187.1 136.6h1.2M176.1 137.4h1.2M183.8 127.1h1.2M174.8 137.0h1.2M160.8 131.2h1.2M156.6 130.3h1.2M188.9 137.8h1.2M157.0 132.8h1.2M185.2 135.2h1.2M184.5 135.6h1.2M167.9 131.0h1.2M165.5 130.1h1.2M165.0 134.9h1.2M167.5 128.6h1.2M173.9 137.6h1.2M143.0 134.2h1.2M171.5 127.4h1.2M168.7 131.5h1.2M128.4 134.8h1.2M189.6 126.2h1.2M176.7 137.7h1.2M171.1 130.4h1.2M187.6 136.5h1.2M167.7 136.5h1.2M168.6 130.6h1.2M185.7 138.0h1.2M175.1 133.5h1.2M184.8 133.2h1.2M155.1 133.9h1.2M173.7 129.1h1.2M183.5 135.7h1.2M150.6 130.8h1.2M190.8 140.1h1.2M169.0 130.3h1.2M123.1 136.4h1.2M174.9 128.1h1.2M151.5 134.6h1.2M115.5 137.8h1.2M179.8 134.2h1.2M150.0 133.2h1.2M166.4 129.5h1.2M186.6 127.3h1.2M181.1 128.7h1.2M137.8 133.7h1.2M168.6 132.4h1.2M157.7 131.1h1.2M185.5 133.4h1.2M171.8 128.0h1.2M187.7 130.1h1.2M144.7 135.0h1.2M187.5 136.7h1.2M188.4 132.4h1.2M189.1 135.7h1.2M167.8 133.4h1.2M169.6 129.1h1.2M173.4 136.7h1.2M186.7 138.1h1.2M179.3 130.6h1.2M165.9 131.7h1.2M140.6 132.7h1.2M155.5 134.8h1.2M163.1 136.1h1.2M149.5 131.2h1.2M174.6 128.2h1.2M127.9 134.4h1.2M183.2 133.7h1.2M187.9 137.3h1.2M145.9 134.5h1.2M177.8 127.5h1.2M129.0 134.5h1.2M181.8 136.0h1.2M152.9 133.1h1.2M142.1 131.8h1.2M174.5 134.4h1.2M130.6 135.3h1.2M172.2 127.9h1.2M185.7 128.1h1.2M154.5 130.5h1.2M136.7 132.7h1.2M164.3 134.6h1.2M117.8 136.7h1.2M170.1 132.4h1.2M172.3 134.0h1.2M180.0 130.8h1.2M173.3 137.5h1.2M170.7 136.0h1.2M182.2 127.5h1.2M183.1 135.6h1.2M178.2 137.0h1.2M176.1 136.0h1.2M155.1 131.2h1.2M170.8 132.3h1.2M159.8 135.7h1.2M190.8 129.4h1.2M191.1 132.1h1.2M165.2 136.5h1.2M129.1 135.3h1.2M169.8 136.5h1.2M130.8 135.5h1.2M177.1 128.6h1.2M153.8 129.8h1.2M190.2 136.2h1.2M171.0 137.2h1.2M121.8 136.5h1.2M174.5 130.5h1.2M170.5 130.5h1.2M149.5 132.7h1.2M169.3 129.8h1.2M175.9 137.6h1.2M125.4 136.1h1.2M187.3 132.0h1.2M187.0 135.2h1.2M167.7 127.8h1.2M138.8 133.9h1.2M182.8 126.0h1.2M177.0 138.0h1.2M177.1 134.0h1.2M143.4 134.9h1.2M174.3 131.5h1.2M121.3 136.7h1.2M161.9 133.0h1.2M137.9 134.3h1.2M183.6 126.7h1.2M173.9 130.7h1.2M185.7 137.7h1.2M177.3 131.0h1.2M149.8 134.4h1.2M173.7 129.4h1.2M146.5 132.4h1.2M176.5 129.3h1.2M157.2 129.8h1.2M187.5 136.1h1.2M134.8 134.9h1.2M169.3 129.6h1.2M139.6 132.4h1.2M179.7 131.5h1.2M177.8 135.1h1.2M181.2 126.5h1.2M153.4 134.9h1.2M138.3 133.6h1.2M188.0 129.2h1.2M136.9 133.8h1.2M153.4 130.6h1.2M175.3 131.4h1.2M144.6 131.9h1.2M143.0 133.0h1.2M180.7 138.2h1.2M160.1 133.8h1.2M153.6 131.1h1.2M130.7 134.0h1.2M157.3 132.2h1.2M185.8 131.4h1.2M157.4 130.1h1.2M180.9 132.1h1.2M152.7 131.6h1.2M168.2 128.3h1.2M165.8 137.3h1.2M178.6 126.5h1.2M126.2 135.0h1.2M140.9 134.4h1.2M188.9 137.8h1.2M187.2 132.8h1.2M117.6 137.9h1.2M138.1 132.3h1.2M178.2 135.0h1.2M190.7 131.1h1.2M187.6 137.0h1.2M117.8 137.0h1.2M146.2 133.0h1.2M147.3 131.1h1.2M172.5 129.9h1.2M178.2 127.9h1.2M189.2 129.4h1.2M184.5 130.9h1.2M180.8 138.7h1.2M106.1 139.8h1.2M174.0 129.4h1.2M106.5 139.3h1.2M191.9 141.5h1.2M170.8 128.7h1.2M174.0 137.5h1.2M164.5 129.8h1.2M126.9 135.6h1.2M188.7 139.8h1.2M152.4 130.1h1.2M135.2 133.1h1.2M190.6 140.7h1.2M177.1 135.4h1.2M191.6 138.9h1.2M190.2 127.5h1.2M175.4 129.4h1.2M176.5 127.0h1.2M191.7 139.0h1.2M194.0 125.2h1.2M193.5 142.5h1.2M173.7 133.4h1.2M127.6 134.3h1.2M180.5 129.3h1.2M169.2 136.1h1.2M160.3 135.1h1.2M174.9 132.4h1.2M169.5 131.1h1.2M125.2 136.8h1.2M160.0 134.2h1.2M182.4 133.4h1.2M163.0 129.5h1.2M174.3 127.9h1.2M162.2 132.7h1.2M132.6 134.3h1.2M182.9 128.5h1.2M186.8 125.8h1.2M185.6 127.1h1.2M157.4 132.2h1.2M155.8 131.2h1.2M187.3 130.3h1.2M186.2 136.1h1.2M185.2 126.5h1.2M154.9 135.2h1.2M174.7 129.3h1.2M182.6 137.9h1.2M193.1 138.1h1.2M168.4 131.3h1.2M171.0 133.9h1.2M176.0 129.9h1.2M147.8 131.6h1.2M171.9 128.1h1.2M186.3 140.0h1.2M173.2 133.7h1.2M173.7 131.8h1.2M167.4 132.4h1.2M150.9 130.1h1.2M182.1 130.7h1.2M184.4 127.5h1.2M189.8 138.8h1.2M142.6 132.9h1.2M132.3 133.3h1.2M189.2 138.8h1.2M144.7 131.4h1.2M168.4 133.3h1.2M179.4 136.3h1.2M180.1 126.4h1.2M168.0 128.6h1.2M182.7 134.5h1.2M184.5 139.5h1.2M135.6 134.9h1.2M173.7 129.3h1.2M170.6 130.9h1.2M168.8 134.3h1.2M169.6 133.6h1.2M175.5 134.9h1.2M178.4 129.9h1.2M177.2 131.1h1.2M169.9 129.2h1.2M184.3 133.8h1.2M138.9 132.6h1.2M190.5 137.7h1.2M178.4 136.2h1.2M190.7 127.6h1.2M179.7 127.0h1.2M169.6 127.7h1.2M169.5 130.0h1.2M187.1 139.0h1.2M161.9 135.4h1.2M186.0 138.7h1.2M166.3 130.7h1.2M162.5 134.1h1.2M188.9 131.0h1.2M192.8 134.1h1.2M165.5 136.5h1.2M183.9 126.9h1.2M173.9 135.3h1.2M132.3 134.0h1.2M158.8 134.4h1.2M135.0 134.4h1.2M161.6 129.1h1.2M152.4 130.5h1.2M176.3 131.6h1.2M156.9 131.3h1.2M193.2 132.2h1.2M191.5 135.9h1.2M191.8 126.7h1.2M151.3 134.7h1.2M163.4 129.1h1.2M192.8 131.6h1.2M135.7 134.8h1.2M151.1 130.6h1.2M140.5 133.7h1.2M191.1 140.5h1.2M170.5 136.3h1.2M177.2 131.6h1.2M161.8 134.6h1.2M184.9 135.6h1.2M168.2 135.5h1.2M129.2 136.3h1.2M148.6 130.9h1.2M190.9 140.8h1.2M179.4 129.2h1.2M190.8 134.5h1.2M185.2 126.3h1.2M152.6 130.2h1.2M156.7 135.1h1.2M170.2 136.1h1.2M185.5 132.8h1.2M176.4 127.1h1.2M171.9 132.5h1.2M185.9 133.2h1.2M173.1 128.8h1.2M191.6 126.5h1.2M187.5 130.0h1.2M192.8 132.8h1.2M193.8 135.0h1.2M180.7 129.4h1.2M158.4 134.4h1.2M118.8 136.7h1.2M171.8 133.9h1.2M128.1 135.5h1.2M194.1 134.6h1.2M186.3 131.8h1.2M139.4 134.5h1.2M174.1 128.6h1.2M184.0 136.1h1.2M186.9 127.9h1.2M172.8 131.3h1.2M163.4 134.9h1.2M130.2 135.0h1.2M156.9 130.5h1.2M123.9 136.4h1.2M185.9 129.4h1.2M135.6 135.4h1.2M169.7 132.6h1.2M166.1 135.8h1.2M175.6 137.3h1.2M177.0 135.2h1.2M134.9 133.6h1.2M175.0 135.8h1.2M162.4 132.0h1.2M153.5 129.5h1.2M184.4 133.5h1.2M179.4 135.3h1.2M168.1 130.5h1.2M156.7 129.5h1.2M122.9 136.9h1.2M168.7 128.0h1.2M193.2 134.5h1.2M168.8 137.3h1.2M176.3 133.2h1.2M192.0 140.0h1.2M186.6 127.3h1.2M177.7 133.3h1.2M189.0 132.9h1.2M187.6 139.9h1.2M148.3 133.5h1.2M140.3 132.7h1.2M164.0 133.5h1.2M192.8 141.9h1.2M192.6 130.9h1.2M188.5 130.7h1.2M167.4 132.8h1.2M182.0 138.9h1.2M190.2 137.2h1.2M172.3 133.4h1.2M163.8 136.7h1.2M165.8 136.0h1.2M135.3 133.0h1.2M179.3 128.7h1.2M175.3 129.8h1.2M162.5 136.6h1.2M123.6 136.4h1.2M154.2 131.5h1.2M173.0 137.1h1.2M187.1 137.4h1.2M182.3 127.5h1.2M173.3 135.2h1.2M150.2 132.4h1.2M172.4 136.1h1.2M190.9 130.0h1.2M193.5 136.5h1.2M179.9 138.0h1.2M193.9 132.8h1.2M143.3 132.3h1.2M171.3 130.1h1.2M169.0 133.8h1.2M175.3 131.7h1.2M157.6 133.1h1.2M191.7 130.5h1.2M152.1 130.6h1.2M169.0 137.4h1.2M183.4 135.8h1.2M156.9 135.3h1.2M169.2 134.3h1.2M182.1 132.9h1.2M176.5 132.4h1.2M169.8 133.4h1.2M185.4 125.8h1.2M120.3 137.6h1.2M189.4 127.0h1.2M180.7 138.0h1.2M168.5 132.7h1.2M189.4 135.8h1.2M160.9 134.4h1.2M177.0 128.2h1.2M181.9 137.8h1.2M170.1 136.2h1.2M183.5 134.2h1.2M164.9 133.0h1.2M169.8 134.7h1.2M157.5 135.1h1.2M185.8 130.3h1.2M181.4 129.6h1.2M159.6 136.2h1.2M175.1 136.9h1.2M177.7 132.2h1.2M149.6 132.9h1.2M182.9 130.8h1.2M176.4 136.6h1.2M156.5 131.4h1.2M185.3 127.5h1.2M173.1 127.3h1.2M172.7 136.5h1.2M168.3 129.1h1.2M149.7 130.2h1.2M190.1 139.1h1.2M156.0 131.0h1.2M165.0 131.3h1.2M165.5 133.8h1.2M182.9 126.9h1.2M183.0 137.8h1.2M123.4 136.1h1.2M178.3 127.6h1.2M177.0 136.7h1.2M179.7 131.8h1.2M178.5 135.7h1.2M165.2 131.6h1.2M167.3 135.5h1.2M133.0 133.2h1.2M181.8 135.5h1.2M138.2 132.3h1.2M119.6 136.4h1.2M159.8 132.5h1.2M186.3 137.3h1.2M179.2 135.3h1.2M194.0 132.1h1.2M129.3 134.9h1.2M129.5 134.6h1.2M174.3 134.2h1.2M193.5 134.9h1.2M175.6 135.5h1.2M172.0 130.2h1.2M176.9 136.9h1.2M157.0 133.4h1.2M189.7 139.1h1.2M172.5 131.0h1.2M173.3 130.9h1.2M189.2 130.5h1.2M169.6 135.0h1.2M185.6 136.6h1.2M186.4 128.8h1.2M194.1 128.6h1.2M163.0 133.3h1.2M161.3 129.0h1.2M166.5 134.9h1.2M166.2 133.4h1.2M189.4 130.4h1.2M132.8 135.8h1.2M193.2 142.4h1.2M122.5 136.4h1.2M173.4 130.0h1.2M180.8 130.8h1.2M165.4 130.0h1.2M121.8 137.2h1.2M187.6 126.4h1.2M143.3 133.0h1.2M170.2 135.2h1.2M172.4 136.2h1.2M156.7 133.0h1.2M189.2 138.4h1.2M167.6 134.8h1.2M190.5 138.5h1.2M170.3 134.7h1.2M149.9 132.9h1.2M154.7 131.0h1.2M192.1 138.6h1.2M154.2 131.8h1.2M165.7 131.9h1.2M188.6 134.6h1.2M181.6 134.6h1.2M137.2 135.2h1.2M155.4 135.5h1.2M159.5 132.1h1.2M186.3 130.0h1.2M175.9 131.7h1.2M173.3 133.4h1.2M155.8 130.4h1.2M184.6 134.3h1.2M116.2 137.0h1.2M116.6 137.0h1.2M152.0 135.1h1.2M165.0 130.0h1.2M170.9 127.4h1.2M173.4 128.6h1.2M136.7 134.0h1.2M184.4 131.1h1.2M178.9 137.5h1.2M181.7 137.5h1.2M151.5 133.3h1.2M177.6 134.5h1.2M159.3 130.7h1.2M173.7 136.3h1.2M192.0 132.5h1.2M130.1 135.6h1.2M152.4 130.7h1.2M162.3 133.2h1.2M154.1 129.3h1.2M172.7 135.7h1.2M181.9 136.0h1.2M165.1 135.9h1.2M166.8 136.9h1.2M187.8 133.7h1.2M189.8 131.9h1.2M166.6 136.6h1.2M166.6 135.2h1.2M144.5 134.1h1.2M181.3 132.1h1.2M188.1 138.0h1.2M172.1 136.9h1.2M125.0 136.1h1.2M186.9 130.6h1.2M191.9 136.4h1.2M147.9 132.3h1.2M155.0 130.6h1.2M178.2 137.6h1.2M165.3 133.4h1.2M155.8 133.3h1.2M192.4 130.3h1.2M187.9 129.9h1.2M142.5 133.0h1.2M188.1 126.5h1.2M150.7 133.7h1.2M155.7 130.8h1.2M155.6 135.6h1.2M178.7 127.1h1.2M150.0 129.8h1.2M153.6 135.2h1.2M182.7 128.6h1.2M183.8 129.4h1.2M193.6 129.3h1.2M184.7 133.4h1.2M179.0 138.2h1.2M187.7 139.2h1.2M171.8 130.9h1.2M192.6 137.5h1.2M162.7 131.1h1.2M184.9 127.2h1.2M153.7 134.0h1.2M186.8 128.3h1.2M181.4 130.6h1.2M182.7 137.9h1.2M175.5 133.3h1.2M193.7 139.9h1.2M178.4 137.9h1.2M127.9 135.2h1.2M180.5 134.6h1.2M169.0 136.7h1.2M154.5 133.5h1.2M148.1 130.5h1.2M132.1 134.7h1.2M167.3 136.7h1.2M191.8 126.7h1.2M171.5 134.3h1.2M184.7 125.8h1.2M188.0 136.9h1.2M175.5 127.4h1.2M188.0 125.8h1.2M166.5 130.1h1.2M158.8 134.4h1.2M175.2 137.5h1.2M184.8 137.7h1.2M187.8 128.0h1.2M123.1 136.0h1.2M182.6 129.3h1.2M142.8 134.6h1.2M169.2 129.3h1.2M143.0 135.2h1.2M178.0 128.8h1.2M172.3 131.9h1.2M181.2 134.7h1.2M157.0 132.4h1.2M150.5 135.1h1.2M117.6 136.9h1.2M152.0 130.6h1.2M189.6 134.2h1.2M172.5 133.4h1.2M191.3 131.9h1.2M161.7 129.6h1.2M174.4 130.1h1.2M179.1 134.6h1.2M163.4 134.6h1.2M185.0 132.0h1.2M175.5 138.0h1.2M178.6 128.2h1.2M171.7 134.4h1.2M169.2 135.3h1.2M185.1 135.7h1.2M117.7 136.3h1.2M173.7 137.7h1.2M175.5 138.1h1.2M182.7 133.5h1.2M165.6 133.8h1.2M154.0 129.4h1.2M177.9 132.3h1.2M192.7 135.1h1.2M126.5 135.4h1.2M184.6 130.8h1.2M168.6 132.2h1.2M174.5 128.6h1.2M181.4 132.3h1.2M186.2 132.1h1.2M150.6 132.6h1.2M158.1 135.5h1.2M134.7 134.0h1.2M157.7 133.0h1.2M194.3 141.1h1.2M159.3 131.1h1.2M171.6 131.1h1.2M166.2 130.5h1.2M152.9 131.9h1.2M153.5 135.3h1.2M187.8 135.9h1.2M186.4 137.4h1.2M188.9 129.5h1.2M166.7 129.5h1.2M154.7 129.7h1.2M134.4 133.1h1.2M165.1 134.5h1.2M172.8 131.9h1.2M177.2 135.6h1.2M167.6 130.4h1.2M159.2 128.8h1.2M167.1 129.4h1.2M184.6 134.2h1.2M151.5 129.9h1.2M171.8 132.0h1.2M183.5 132.7h1.2M191.1 128.7h1.2M120.0 137.3h1.2M163.6 130.9h1.2M151.8 130.4h1.2M123.6 136.0h1.2M142.0 132.1h1.2M165.8 129.6h1.2M121.5 136.1h1.2M158.9 135.4h1.2M188.8 133.4h1.2M149.8 133.4h1.2M176.7 129.3h1.2M170.7 130.4h1.2M165.4 128.9h1.2M172.8 132.6h1.2M186.1 127.5h1.2M189.2 132.0h1.2M192.8 132.0h1.2M170.5 134.9h1.2M170.2 128.6h1.2M194.4 133.1h1.2M175.5 132.8h1.2M136.6 134.7h1.2M189.9 130.1h1.2M161.8 130.7h1.2M192.5 141.4h1.2M177.7 136.9h1.2M175.9 135.6h1.2M166.9 129.9h1.2M172.0 136.6h1.2M190.0 130.5h1.2M182.4 134.6h1.2M185.9 127.9h1.2M171.8 131.0h1.2M149.8 129.9h1.2M169.7 134.5h1.2M179.4 127.9h1.2M174.1 134.3h1.2M175.0 136.2h1.2M175.5 128.6h1.2M145.3 134.0h1.2M166.1 128.5h1.2M168.8 130.0h1.2M185.3 134.2h1.2M184.5 125.9h1.2M182.5 131.4h1.2M133.4 135.0h1.2M162.4 131.0h1.2M182.2 135.3h1.2M148.1 133.6h1.2M184.4 132.0h1.2M181.6 132.6h1.2M183.2 139.0h1.2M158.3 132.3h1.2M169.5 136.4h1.2M189.0 139.6h1.2M125.2 136.8h1.2M174.4 136.7h1.2M167.5 136.4h1.2M174.3 131.0h1.2M169.4 132.0h1.2M175.7 129.7h1.2M170.5 131.4h1.2M145.3 134.8h1.2M189.7 133.8h1.2M153.0 133.6h1.2M192.3 137.6h1.2M131.6 134.1h1.2M161.3 129.6h1.2M185.6 138.9h1.2M188.4 134.8h1.2M171.0 129.6h1.2M175.8 135.3h1.2M181.0 136.1h1.2M179.0 130.5h1.2M147.2 130.4h1.2M191.9 137.5h1.2M164.0 134.5h1.2M177.5 131.3h1.2M168.2 129.8h1.2M138.2 132.8h1.2M187.8 126.1h1.2M194.1 142.6h1.2M186.8 129.8h1.2M163.2 131.4h1.2M184.1 129.7h1.2M169.5 136.5h1.2M188.7 129.8h1.2M183.8 133.9h1.2M163.5 135.5h1.2M122.7 137.2h1.2M119.2 136.2h1.2M180.2 133.3h1.2M188.7 130.6h1.2M168.7 134.6h1.2M175.2 129.5h1.2M192.0 131.2h1.2M125.8 136.9h1.2M174.4 133.4h1.2M155.4 130.3h1.2M182.7 128.7h1.2M184.6 129.6h1.2M167.5 130.6h1.2M155.1 133.9h1.2M137.9 134.6h1.2M172.9 137.8h1.2M162.8 133.6h1.2M151.6 133.8h1.2M173.2 136.5h1.2M175.9 130.0h1.2M192.5 134.5h1.2M176.1 137.2h1.2M166.3 129.1h1.2M161.1 136.1h1.2M168.0 130.6h1.2M173.2 135.0h1.2M174.6 132.0h1.2M180.7 131.8h1.2M164.3 135.5h1.2M136.2 133.2h1.2M135.6 135.2h1.2M187.8 132.4h1.2M178.3 134.1h1.2M178.7 138.1h1.2M188.6 135.2h1.2M190.3 134.5h1.2M162.8 132.3h1.2M193.2 129.3h1.2M149.4 129.9h1.2M158.9 135.5h1.2M181.9 132.1h1.2M143.6 133.4h1.2M179.9 128.1h1.2M188.6 140.7h1.2M192.6 140.1h1.2M169.5 136.4h1.2M188.3 140.6h1.2M125.4 136.8h1.2M154.1 130.3h1.2M156.3 134.9h1.2M109.6 138.2h1.2M173.3 128.1h1.2M120.5 136.7h1.2M152.6 129.8h1.2M183.2 136.4h1.2M133.6 135.3h1.2M188.3 129.2h1.2M140.8 132.6h1.2M158.2 132.5h1.2M192.1 140.4h1.2M181.4 128.7h1.2M140.5 134.3h1.2M178.8 128.3h1.2M176.2 134.5h1.2M131.3 136.0h1.2M194.4 139.2h1.2M178.5 135.0h1.2M186.2 132.8h1.2M166.4 132.3h1.2M163.8 130.6h1.2M192.5 140.9h1.2M191.6 135.3h1.2M156.6 130.9h1.2M179.8 135.1h1.2M178.8 127.3h1.2M169.0 130.9h1.2M189.2 127.3h1.2M153.6 134.8h1.2M119.0 136.6h1.2M177.9 129.9h1.2M187.1 126.9h1.2M162.2 132.4h1.2M115.5 136.8h1.2M191.7 140.4h1.2M171.3 137.5h1.2M166.6 134.6h1.2M158.0 133.7h1.2M173.1 135.5h1.2M189.3 136.2h1.2M158.7 135.5h1.2M148.5 130.7h1.2M135.6 135.5h1.2M170.2 133.0h1.2M152.0 134.8h1.2M167.5 132.8h1.2M157.2 133.5h1.2M170.3 135.1h1.2M165.2 134.3h1.2M188.6 138.4h1.2M149.0 130.3h1.2M180.2 129.6h1.2M141.0 134.4h1.2M154.6 134.2h1.2M155.0 135.7h1.2M146.9 132.3h1.2M172.7 127.9h1.2M160.0 133.1h1.2M148.3 133.2h1.2M171.2 127.7h1.2M187.1 130.1h1.2M178.1 136.6h1.2M184.3 138.5h1.2M179.7 129.3h1.2M157.8 133.4h1.2M139.8 133.5h1.2M177.7 131.5h1.2M129.0 135.4h1.2M163.3 129.9h1.2M186.6 133.3h1.2M155.8 131.7h1.2M173.6 137.4h1.2M173.5 127.6h1.2M174.0 129.2h1.2M155.5 132.1h1.2M135.9 132.6h1.2M169.9 133.6h1.2M186.4 133.5h1.2M188.9 139.7h1.2M164.7 132.3h1.2M127.9 134.6h1.2M192.9 137.9h1.2M155.7 131.0h1.2M171.4 133.7h1.2M172.6 135.4h1.2M145.4 133.1h1.2M178.7 137.3h1.2M164.0 136.6h1.2M187.9 132.1h1.2M172.2 133.9h1.2M165.1 128.5h1.2M173.1 127.6h1.2M158.6 131.9h1.2M180.8 127.5h1.2M177.6 136.6h1.2M151.6 134.6h1.2M182.0 131.4h1.2M185.8 128.6h1.2M178.6 134.1h1.2M165.6 129.8h1.2M179.7 131.6h1.2M166.4 133.8h1.2M177.2 129.1h1.2M169.9 133.9h1.2M187.1 137.6h1.2M174.6 131.2h1.2M185.9 129.8h1.2M178.7 127.0h1.2M190.8 136.6h1.2M154.0 135.1h1.2M146.8 135.0h1.2M166.8 133.2h1.2M171.4 135.5h1.2M172.9 134.7h1.2M186.6 133.5h1.2M127.8 135.5h1.2M174.2 136.2h1.2M189.1 127.8h1.2M161.8 136.3h1.2M147.5 134.3h1.2M139.6 133.5h1.2M164.2 135.0h1.2M169.0 130.4h1.2M180.9 133.2h1.2M178.9 136.9h1.2M169.3 131.9h1.2M169.4 133.7h1.2M172.4 135.5h1.2M148.1 130.9h1.2M190.6 131.1h1.2M179.4 138.9h1.2M173.0 127.4h1.2M189.6 133.3h1.2M193.4 140.9h1.2M138.0 133.5h1.2M159.0 128.8h1.2M162.1 130.6h1.2M168.0 129.7h1.2M170.7 137.4h1.2M180.7 128.2h1.2M176.7 134.4h1.2M188.7 127.2h1.2M182.0 137.0h1.2M147.1 131.8h1.2M151.0 133.5h1.2M185.4 134.6h1.2M182.1 136.8h1.2M185.3 128.4h1.2M137.8 135.4h1.2M150.7 132.8h1.2M169.7 131.7h1.2M175.7 134.7h1.2M180.8 132.2h1.2M168.1 135.7h1.2M175.7 127.5h1.2M140.3 134.3h1.2M156.5 130.7h1.2M140.4 132.2h1.2M190.4 130.8h1.2M148.6 133.0h1.2M164.8 128.8h1.2M176.2 132.5h1.2M162.3 134.1h1.2M117.2 137.7h1.2M193.8 142.5h1.2M176.6 135.6h1.2M174.7 130.9h1.2M158.9 129.6h1.2M122.6 136.6h1.2M150.3 133.7h1.2M171.4 131.7h1.2M175.3 127.5h1.2M123.2 135.8h1.2M141.5 132.0h1.2M176.8 133.7h1.2M169.8 133.9h1.2M179.2 131.8h1.2M146.8 134.8h1.2M182.5 137.7h1.2M178.0 129.9h1.2M171.8 132.9h1.2M134.3 133.1h1.2M178.5 135.5h1.2M176.8 135.4h1.2M187.3 127.3h1.2M165.9 127.9h1.2M179.6 138.3h1.2M170.4 133.7h1.2M158.1 130.4h1.2M189.9 130.0h1.2M168.0 129.0h1.2M146.9 134.5h1.2M179.4 133.4h1.2M185.0 132.2h1.2M176.3 128.7h1.2M147.2 133.4h1.2M186.2 134.7h1.2M176.7 128.5h1.2M188.8 133.7h1.2M166.5 132.4h1.2M176.4 136.2h1.2M142.2 135.0h1.2M190.3 127.6h1.2M131.6 135.0h1.2M149.6 135.0h1.2M140.1 132.7h1.2M156.8 131.8h1.2M181.4 135.8h1.2M167.0 128.7h1.2M176.4 128.0h1.2M133.3 135.1h1.2M182.7 139.3h1.2M192.1 138.7h1.2M165.9 137.0h1.2M147.1 130.8h1.2M181.4 130.7h1.2M173.2 128.2h1.2M180.4 133.6h1.2M139.1 135.3h1.2M167.6 135.7h1.2M161.5 135.7h1.2M175.9 135.1h1.2M177.2 128.9h1.2M183.3 135.0h1.2M173.0 135.2h1.2M158.1 132.5h1.2M185.8 139.1h1.2M185.1 126.5h1.2M191.1 134.3h1.2M183.0 128.2h1.2M181.3 135.5h1.2M144.6 131.4h1.2M185.4 134.8h1.2M168.3 136.1h1.2M126.6 134.8h1.2M168.5 137.4h1.2M180.8 132.3h1.2M147.2 130.5h1.2M186.4 132.8h1.2M159.4 134.5h1.2M179.0 137.4h1.2M139.3 133.2h1.2M117.0 136.6h1.2M186.7 132.1h1.2M183.2 133.6h1.2M181.0 135.2h1.2M137.8 133.3h1.2M168.0 129.2h1.2M181.7 138.0h1.2M186.3 132.5h1.2M174.4 133.2h1.2M176.5 127.3h1.2M162.2 130.4h1.2M183.3 126.1h1.2M135.4 133.8h1.2M172.9 130.6h1.2M135.0 134.0h1.2M129.8 136.2h1.2M129.9 134.7h1.2M170.2 132.8h1.2M153.9 132.5h1.2M185.0 135.9h1.2M188.9 134.4h1.2M136.1 135.5h1.2M145.9 135.0h1.2M173.0 127.8h1.2M136.3 133.0h1.2M135.0 133.5h1.2M187.2 132.6h1.2M169.4 132.8h1.2M151.4 134.9h1.2M132.3 135.1h1.2M171.8 136.8h1.2M189.6 132.2h1.2M166.4 131.2h1.2M170.2 135.8h1.2M187.0 128.8h1.2M119.2 136.6h1.2M117.4 136.5h1.2M161.3 135.6h1.2M158.8 132.7h1.2M142.9 134.7h1.2M140.7 132.1h1.2M129.6 135.5h1.2M176.0 138.3h1.2M152.9 130.2h1.2M183.0 126.1h1.2M176.4 128.9h1.2M164.8 128.7h1.2M167.8 135.0h1.2M165.8 131.5h1.2M186.0 137.0h1.2M136.3 133.2h1.2M182.1 136.6h1.2M139.8 134.7h1.2M163.0 131.6h1.2M176.5 136.9h1.2M188.5 128.9h1.2M118.6 137.4h1.2M143.8 134.5h1.2M171.7 134.0h1.2M169.7 137.0h1.2M171.1 132.3h1.2M164.8 133.8h1.2M132.0 135.3h1.2M165.2 128.2h1.2M118.3 136.5h1.2M173.3 127.8h1.2M184.9 125.9h1.2M186.8 135.9h1.2M179.8 131.5h1.2M164.8 135.7h1.2M150.4 133.3h1.2M113.0 137.5h1.2M156.4 131.8h1.2M168.4 132.8h1.2M191.9 139.3h1.2M160.3 133.2h1.2M172.7 128.9h1.2M194.2 134.2h1.2M179.7 138.5h1.2M124.7 136.6h1.2M155.4 134.5h1.2M186.3 129.2h1.2M158.6 133.4h1.2M157.5 129.0h1.2M169.7 131.7h1.2M192.1 139.9h1.2M148.7 131.0h1.2M191.4 135.3h1.2M176.1 130.2h1.2M171.1 128.6h1.2M170.7 135.4h1.2M189.0 140.8h1.2M186.6 138.3h1.2M144.8 133.6h1.2M158.0 129.1h1.2M166.0 128.8h1.2M159.1 131.9h1.2M144.5 131.3h1.2M153.2 134.5h1.2M164.3 133.8h1.2M178.7 138.3h1.2M160.4 134.0h1.2M172.9 135.6h1.2M146.1 132.1h1.2M139.3 133.9h1.2M186.9 140.3h1.2M192.6 132.8h1.2M124.2 136.4h1.2M176.9 132.3h1.2M139.3 135.2h1.2M188.7 128.2h1.2M184.6 133.2h1.2M179.2 132.7h1.2M149.5 130.9h1.2M161.3 131.7h1.2M182.1 136.8h1.2M187.9 130.6h1.2M144.1 134.0h1.2M165.3 131.7h1.2M155.5 130.1h1.2M162.6 131.4h1.2M167.2 132.2h1.2M171.8 128.5h1.2M153.6 130.1h1.2M167.6 137.2h1.2M168.3 136.1h1.2M157.4 131.0h1.2M154.3 135.6h1.2M174.1 136.1h1.2M140.5 133.7h1.2M150.5 132.8h1.2M103.2 140.2h1.2M149.8 129.8h1.2M151.1 133.0h1.2M172.1 133.0h1.2M189.0 132.1h1.2M179.4 133.9h1.2M161.7 136.3h1.2M192.5 129.7h1.2M185.6 130.7h1.2M153.3 133.4h1.2M132.8 134.3h1.2M151.2 132.5h1.2M178.2 129.2h1.2M186.7 135.9h1.2M166.8 132.0h1.2M169.1 132.4h1.2M188.8 129.8h1.2M189.1 137.9h1.2M164.3 130.0h1.2M178.9 129.8h1.2M163.5 136.3h1.2M180.2 127.3h1.2M151.2 134.7h1.2M193.1 140.4h1.2M169.8 136.1h1.2M172.2 127.6h1.2M178.8 138.6h1.2M187.4 135.2h1.2M167.1 134.1h1.2M182.1 136.9h1.2M184.2 136.4h1.2M158.7 135.7h1.2M188.9 133.1h1.2M125.1 136.0h1.2M122.9 135.9h1.2M391.8 399.6h1.2M396.5 409.6h1.2M392.8 450.6h1.2M393.0 471.3h1.2M406.0 335.2h1.2M414.7 345.0h1.2M401.5 343.5h1.2M407.0 340.1h1.2M399.7 395.8h1.2M393.0 438.7h1.2M398.1 402.5h1.2M410.3 334.0h1.2M404.9 384.6h1.2M403.2 382.6h1.2M405.6 366.0h1.2M392.1 457.7h1.2M401.7 388.4h1.2M393.6 464.4h1.2M392.5 396.5h1.2M398.9 376.8h1.2M410.0 362.9h1.2M411.1 338.6h1.2M399.5 382.6h1.2M390.8 444.7h1.2M394.8 421.9h1.2M390.5 438.5h1.2M390.2 422.8h1.2M392.5 453.3h1.2M393.4 446.0h1.2M403.1 371.7h1.2M411.9 328.5h1.2M390.7 414.2h1.2M392.2 459.4h1.2M392.8 447.8h1.2M391.2 413.4h1.2M410.1 398.8h1.2M406.4 325.3h1.2M404.9 378.9h1.2M396.0 410.3h1.2M390.0 452.6h1.2M400.0 394.9h1.2M392.9 406.0h1.2M419.2 328.4h1.2M413.0 364.5h1.2M395.0 440.9h1.2M392.8 404.9h1.2M397.4 401.3h1.2M411.3 337.5h1.2M413.4 325.9h1.2M395.5 428.1h1.2M391.8 418.7h1.2M398.3 403.1h1.2M402.9 348.3h1.2M411.9 340.7h1.2M392.6 473.9h1.2M394.5 437.4h1.2M404.3 332.9h1.2M397.3 382.6h1.2M394.4 390.6h1.2M393.0 449.2h1.2M399.6 403.6h1.2M401.5 373.1h1.2M391.3 408.1h1.2M400.0 393.7h1.2M404.3 357.2h1.2M409.6 352.5h1.2M396.7 381.9h1.2M390.0 448.5h1.2M393.2 446.6h1.2M399.6 356.4h1.2M391.7 470.1h1.2M392.4 419.2h1.2M409.8 333.9h1.2M393.4 470.4h1.2M406.4 327.8h1.2M391.7 416.2h1.2M392.2 464.8h1.2M396.3 419.7h1.2M393.8 467.9h1.2M390.2 429.5h1.2M399.9 409.7h1.2M412.8 332.0h1.2M393.7 476.3h1.2M389.8 443.0h1.2M392.5 394.3h1.2M397.2 383.7h1.2M406.9 350.0h1.2M411.5 357.3h1.2M401.3 340.9h1.2M396.9 421.2h1.2M413.8 340.0h1.2M390.6 446.6h1.2M393.7 430.7h1.2M393.6 437.8h1.2M395.0 431.7h1.2M404.8 384.9h1.2M393.5 464.6h1.2M416.5 337.5h1.2M392.1 422.1h1.2M393.6 440.0h1.2M404.8 358.4h1.2M391.4 403.0h1.2M405.2 367.7h1.2M405.3 361.0h1.2M400.9 364.7h1.2M394.7 397.7h1.2M393.3 465.8h1.2M408.5 355.7h1.2M405.5 367.2h1.2M397.6 406.1h1.2M399.1 388.8h1.2M406.9 349.4h1.2M393.0 463.0h1.2M414.9 329.3h1.2M404.4 356.2h1.2M393.8 429.8h1.2M412.3 378.0h1.2M398.8 371.2h1.2M409.0 355.2h1.2M393.3 436.8h1.2M395.9 389.9h1.2M403.7 397.6h1.2M392.9 449.9h1.2M391.6 456.7h1.2M412.2 348.3h1.2M407.8 368.4h1.2M397.4 415.2h1.2M392.6 394.2h1.2M401.1 348.3h1.2M394.6 418.8h1.2M404.1 372.1h1.2M404.5 337.5h1.2M392.9 393.7h1.2M394.0 475.0h1.2M402.6 331.6h1.2M405.1 328.1h1.2M396.4 375.1h1.2M392.9 429.8h1.2M393.6 452.7h1.2M411.1 329.5h1.2M399.4 363.7h1.2M396.4 409.0h1.2M395.4 409.6h1.2M395.0 437.1h1.2M392.1 399.5h1.2M392.8 458.5h1.2M391.8 470.8h1.2M421.3 328.4h1.2M419.6 334.7h1.2M405.7 332.5h1.2M393.4 470.0h1.2M393.6 398.5h1.2M395.5 432.6h1.2M408.7 357.0h1.2M392.6 461.8h1.2M394.6 443.9h1.2M395.8 418.1h1.2M410.1 356.2h1.2M395.2 430.4h1.2M394.2 404.0h1.2M397.8 410.3h1.2M393.3 476.5h1.2M407.8 343.4h1.2M393.7 428.8h1.2M393.1 411.8h1.2M397.4 394.2h1.2M395.7 423.5h1.2M398.9 404.5h1.2M405.3 339.1h1.2M407.4 330.7h1.2M406.1 357.4h1.2M394.6 423.2h1.2M405.0 363.0h1.2M414.1 345.3h1.2M426.3 350.2h1.2M410.8 332.9h1.2M423.8 348.2h1.2M402.3 410.4h1.2M411.3 341.8h1.2M407.6 340.7h1.2M408.4 365.0h1.2M393.4 455.3h1.2M400.0 404.4h1.2M394.4 439.6h1.2M393.3 446.6h1.2M391.7 430.1h1.2M400.5 403.6h1.2M393.1 464.5h1.2M424.4 341.0h1.2M410.1 339.8h1.2M390.1 459.6h1.2M402.9 383.2h1.2M403.6 341.3h1.2M400.3 398.0h1.2M390.9 412.9h1.2M391.8 461.8h1.2M403.8 370.2h1.2M405.7 330.1h1.2M403.5 342.0h1.2M415.7 328.6h1.2M405.7 372.6h1.2M397.6 420.6h1.2M411.1 327.1h1.2M397.4 381.2h1.2M392.4 435.6h1.2M404.0 352.1h1.2M392.3 397.3h1.2M392.0 430.0h1.2M394.4 441.1h1.2M402.9 356.8h1.2M392.6 473.7h1.2M398.9 365.6h1.2M394.8 442.7h1.2M413.8 336.1h1.2M391.7 453.6h1.2M402.0 397.5h1.2M392.7 463.6h1.2M389.7 456.9h1.2M399.3 370.8h1.2M394.9 418.2h1.2M406.2 365.4h1.2M405.5 353.0h1.2M399.3 390.5h1.2M418.7 329.0h1.2M398.7 428.3h1.2M398.2 401.4h1.2M392.8 449.6h1.2M391.8 419.2h1.2M407.9 341.4h1.2M402.0 355.4h1.2M405.9 383.6h1.2M392.6 475.4h1.2M391.2 418.7h1.2M409.2 340.9h1.2M394.2 460.5h1.2M390.3 411.0h1.2M402.0 366.3h1.2M405.2 344.8h1.2M415.3 391.0h1.2M406.0 357.7h1.2M397.1 414.9h1.2M393.8 395.4h1.2M389.6 454.6h1.2M396.8 390.7h1.2M403.7 403.1h1.2M410.2 336.5h1.2M391.7 400.6h1.2M402.2 383.1h1.2M398.5 363.5h1.2M403.1 327.1h1.2M413.8 331.7h1.2M391.9 395.7h1.2M392.7 462.6h1.2M414.1 338.8h1.2M392.9 476.7h1.2M410.3 389.9h1.2M395.6 430.9h1.2M394.3 406.5h1.2M404.0 410.2h1.2M396.4 405.9h1.2M403.3 350.2h1.2M401.2 431.2h1.2M391.8 434.5h1.2M393.4 393.3h1.2M406.4 369.8h1.2M404.1 374.3h1.2M403.1 371.3h1.2M391.9 436.4h1.2M396.2 403.1h1.2M392.7 460.4h1.2M413.0 343.0h1.2M392.7 461.3h1.2M397.5 411.0h1.2M401.9 370.7h1.2M394.0 425.8h1.2M390.9 405.5h1.2M396.1 437.8h1.2M402.9 328.1h1.2M403.5 344.5h1.2M393.6 459.2h1.2M390.8 422.6h1.2M392.6 438.2h1.2M393.5 410.1h1.2M402.9 352.4h1.2M394.4 450.2h1.2M394.3 401.7h1.2M396.6 404.2h1.2M402.6 383.9h1.2M392.6 440.9h1.2M390.9 466.4h1.2M391.4 467.5h1.2M401.5 380.5h1.2M399.6 358.4h1.2M423.5 340.2h1.2M411.3 346.3h1.2M400.8 367.4h1.2M417.4 341.8h1.2M400.9 351.6h1.2M404.4 374.1h1.2M394.6 426.2h1.2M395.1 439.7h1.2M408.8 390.1h1.2M389.8 455.8h1.2M404.2 380.8h1.2M400.3 363.4h1.2M413.5 330.3h1.2M405.1 363.5h1.2M406.3 372.7h1.2M404.0 381.1h1.2M394.5 442.1h1.2M411.3 353.3h1.2M409.2 379.9h1.2M395.7 408.3h1.2M393.7 450.2h1.2M393.9 453.8h1.2M409.8 333.9h1.2M390.8 412.5h1.2M393.2 474.3h1.2M412.5 331.1h1.2M399.5 386.0h1.2M404.0 400.9h1.2M391.5 446.4h1.2M409.7 357.0h1.2M413.5 357.5h1.2M410.8 330.9h1.2M400.8 348.8h1.2M416.5 341.2h1.2M400.1 377.9h1.2M389.8 460.0h1.2M389.7 454.0h1.2M396.5 393.6h1.2M392.8 436.1h1.2M397.5 398.7h1.2M390.6 460.9h1.2M393.7 435.3h1.2M399.1 399.0h1.2M400.7 376.8h1.2M394.8 417.6h1.2M391.5 463.4h1.2M394.3 405.5h1.2M410.1 334.0h1.2M393.1 461.0h1.2M400.5 369.5h1.2M396.0 384.1h1.2M394.0 416.9h1.2M393.1 469.7h1.2M393.3 473.2h1.2M411.4 359.7h1.2M399.9 398.9h1.2M389.7 452.1h1.2M398.5 407.9h1.2M394.1 441.5h1.2M399.0 430.2h1.2M410.5 352.4h1.2M396.6 416.6h1.2M401.9 356.7h1.2M392.7 456.5h1.2M398.3 391.9h1.2M396.4 399.7h1.2M406.3 343.2h1.2M395.1 441.0h1.2M392.9 454.2h1.2M392.2 425.7h1.2M393.5 430.4h1.2M402.5 387.9h1.2M396.5 379.1h1.2M406.9 352.4h1.2M396.2 425.6h1.2M391.6 407.8h1.2M392.8 452.9h1.2M395.6 426.3h1.2M409.7 325.8h1.2M394.0 448.0h1.2M394.3 405.3h1.2M397.6 432.0h1.2M405.7 367.6h1.2M400.2 384.3h1.2M392.8 392.6h1.2M396.4 414.2h1.2M389.7 456.5h1.2M391.0 401.0h1.2M393.9 466.6h1.2M404.5 332.6h1.2M398.7 367.1h1.2M419.7 335.8h1.2M418.5 329.0h1.2M417.0 337.2h1.2M411.2 370.2h1.2M399.0 414.5h1.2M400.4 412.8h1.2M406.6 351.0h1.2M407.5 373.6h1.2M393.5 440.1h1.2M402.0 388.6h1.2M394.8 390.1h1.2M389.8 460.6h1.2M415.8 331.7h1.2M393.6 445.0h1.2M403.1 359.7h1.2M405.7 361.4h1.2M409.3 342.4h1.2M391.0 440.2h1.2M405.4 333.2h1.2M416.6 325.2h1.2M397.4 400.1h1.2M393.3 435.8h1.2M394.5 437.6h1.2M390.0 432.1h1.2M406.1 365.8h1.2M400.0 414.6h1.2M393.3 419.9h1.2M413.5 342.3h1.2M394.6 442.1h1.2M410.4 334.4h1.2M391.2 467.7h1.2M393.2 405.8h1.2M402.4 418.4h1.2M390.2 424.9h1.2M405.6 326.8h1.2M399.0 359.8h1.2M397.1 373.3h1.2M399.8 352.5h1.2M392.3 435.0h1.2M410.1 328.3h1.2M406.2 342.2h1.2M393.5 440.9h1.2M394.1 420.7h1.2M406.4 334.6h1.2M396.2 418.7h1.2M403.8 387.0h1.2M400.1 354.4h1.2M393.5 464.3h1.2M408.7 329.5h1.2M396.4 373.9h1.2M410.4 325.3h1.2M402.3 351.1h1.2M391.6 468.7h1.2M397.9 397.7h1.2M401.2 401.3h1.2M393.2 410.0h1.2M396.6 409.1h1.2M391.1 460.7h1.2M390.8 406.7h1.2M391.0 460.6h1.2M391.8 429.7h1.2M390.7 427.6h1.2M392.9 413.2h1.2M393.5 445.9h1.2M400.6 395.8h1.2M401.2 343.2h1.2M392.1 473.2h1.2M395.9 413.2h1.2M405.8 366.3h1.2M396.6 392.0h1.2M405.6 331.8h1.2M403.5 382.3h1.2M392.2 411.7h1.2M391.3 421.2h1.2M404.4 338.3h1.2M404.3 365.0h1.2M404.6 335.6h1.2M402.6 361.1h1.2M390.9 461.6h1.2M401.2 382.0h1.2M391.4 447.2h1.2M393.1 471.4h1.2M392.2 469.8h1.2M390.6 451.8h1.2M395.4 432.1h1.2M393.2 474.5h1.2M390.9 421.0h1.2M390.1 417.7h1.2M413.9 325.4h1.2M401.9 336.4h1.2M393.2 444.3h1.2M394.3 422.2h1.2M391.5 448.8h1.2M404.2 387.0h1.2M394.0 475.6h1.2M410.2 351.9h1.2M396.2 448.5h1.2M390.5 443.6h1.2M393.5 465.3h1.2M393.5 457.2h1.2M393.7 408.6h1.2M392.8 475.2h1.2M394.6 466.1h1.2M393.7 468.3h1.2M393.4 417.4h1.2M407.3 367.5h1.2M391.4 445.9h1.2M394.1 397.3h1.2M403.7 330.1h1.2M408.0 365.5h1.2M400.1 359.7h1.2M398.9 365.1h1.2M394.4 385.5h1.2M390.0 441.3h1.2M408.8 345.2h1.2M402.2 395.4h1.2M403.8 368.5h1.2M395.2 418.5h1.2M408.0 333.7h1.2M390.7 447.9h1.2M399.5 366.6h1.2M402.9 362.3h1.2M404.5 370.9h1.2M402.2 386.5h1.2M411.0 356.6h1.2M391.8 403.7h1.2M405.4 366.3h1.2M406.1 348.3h1.2M393.1 389.3h1.2M402.2 404.1h1.2M407.3 398.6h1.2M391.3 449.3h1.2M396.8 441.2h1.2M393.2 467.8h1.2M393.1 466.0h1.2M400.1 372.5h1.2M391.2 439.9h1.2M405.5 359.4h1.2M397.0 420.3h1.2M395.1 420.5h1.2M401.0 425.0h1.2M402.3 406.1h1.2M392.6 469.1h1.2M391.1 421.3h1.2M395.2 437.2h1.2M390.2 462.6h1.2M392.4 396.7h1.2M390.3 416.2h1.2M389.7 425.5h1.2M399.9 361.7h1.2M396.4 422.6h1.2M394.0 453.4h1.2M393.3 475.0h1.2M397.4 415.3h1.2M406.7 342.8h1.2M393.2 438.6h1.2M392.7 460.4h1.2M416.6 326.5h1.2M404.5 380.1h1.2M410.7 354.1h1.2M415.7 335.4h1.2M392.9 401.1h1.2M397.9 404.1h1.2M393.1 459.9h1.2M410.1 347.5h1.2M398.9 392.9h1.2M402.2 387.9h1.2M392.8 473.5h1.2M393.1 473.3h1.2M390.6 409.6h1.2M408.8 346.9h1.2M402.9 344.5h1.2M400.3 381.7h1.2M397.8 378.8h1.2M391.7 446.4h1.2M406.1 355.7h1.2M403.9 331.6h1.2M405.1 358.5h1.2M398.8 362.4h1.2M399.5 389.3h1.2M407.1 365.0h1.2M404.0 357.2h1.2M392.7 391.0h1.2M405.0 346.7h1.2M402.4 338.2h1.2M394.4 385.7h1.2M393.4 468.9h1.2M412.6 338.9h1.2M391.0 440.7h1.2M402.7 335.3h1.2M410.6 335.9h1.2M392.5 437.0h1.2M396.4 376.1h1.2M396.7 420.6h1.2M417.3 376.9h1.2M393.5 475.6h1.2M395.1 414.8h1.2M419.0 328.3h1.2M400.6 409.5h1.2M399.0 381.4h1.2M402.2 369.5h1.2M396.8 374.4h1.2M392.9 441.8h1.2M404.4 377.9h1.2M416.0 361.4h1.2M395.7 411.7h1.2M405.9 350.1h1.2M421.9 361.0h1.2M393.8 467.2h1.2M402.1 361.0h1.2M395.4 432.6h1.2M426.1 373.3h1.2M389.8 450.1h1.2M393.5 474.6h1.2M400.7 367.7h1.2M393.1 476.1h1.2M403.7 338.7h1.2M397.4 390.6h1.2M394.1 454.0h1.2M405.6 354.8h1.2M404.8 351.3h1.2M394.9 427.7h1.2M415.4 328.8h1.2M392.9 450.9h1.2M393.8 473.4h1.2M394.3 447.1h1.2M412.9 325.8h1.2M392.6 476.0h1.2M402.6 346.1h1.2M400.5 391.7h1.2M411.5 337.7h1.2M392.8 452.3h1.2M399.6 353.3h1.2M392.3 414.9h1.2M406.5 407.1h1.2M408.2 331.5h1.2M394.9 419.1h1.2M406.9 366.8h1.2M409.9 331.2h1.2M405.3 397.7h1.2M408.8 370.6h1.2M397.1 378.3h1.2M398.1 375.9h1.2M406.3 365.1h1.2M404.8 370.8h1.2M394.3 429.5h1.2M391.9 432.7h1.2M389.9 421.9h1.2M392.2 403.4h1.2M400.2 417.1h1.2M407.0 360.0h1.2M392.1 429.6h1.2M403.1 379.1h1.2M392.8 423.2h1.2M405.9 363.2h1.2M408.3 370.3h1.2M396.9 389.9h1.2M393.9 415.8h1.2M415.1 374.4h1.2M394.1 458.6h1.2M392.3 465.4h1.2M411.5 340.4h1.2M423.9 351.5h1.2M394.5 444.8h1.2M405.9 327.2h1.2M395.3 410.5h1.2M392.4 464.5h1.2M402.5 382.2h1.2M397.7 411.9h1.2M409.9 358.9h1.2M408.8 343.9h1.2M393.1 474.7h1.2M401.1 362.3h1.2M399.3 370.7h1.2M405.6 369.1h1.2M393.0 465.3h1.2M393.9 443.0h1.2M393.7 466.1h1.2M391.2 464.9h1.2M406.4 352.1h1.2M403.2 329.6h1.2M394.5 445.6h1.2M402.2 387.5h1.2M402.3 374.6h1.2M409.1 388.3h1.2M390.7 442.8h1.2M391.4 449.0h1.2M394.9 422.8h1.2M391.7 468.4h1.2M397.8 399.0h1.2M397.1 396.2h1.2M407.7 387.2h1.2M404.1 342.5h1.2M393.0 394.1h1.2M389.9 442.6h1.2M406.3 381.6h1.2M403.3 332.3h1.2M391.4 398.6h1.2M393.4 459.8h1.2M403.6 376.4h1.2M392.8 465.8h1.2M390.5 434.3h1.2M410.7 334.7h1.2M428.1 326.8h1.2M408.4 334.4h1.2M418.5 349.0h1.2M405.9 335.6h1.2M411.4 341.6h1.2M411.9 372.8h1.2M400.3 383.6h1.2M393.5 448.7h1.2M403.9 374.1h1.2M392.4 400.9h1.2M402.3 377.3h1.2M395.7 425.1h1.2M394.5 417.9h1.2M404.4 358.6h1.2M393.8 452.4h1.2M396.5 405.0h1.2M398.8 367.4h1.2M392.4 452.1h1.2M392.6 473.8h1.2M393.8 404.7h1.2M394.2 434.7h1.2M404.8 342.2h1.2M393.1 422.4h1.2M402.2 350.0h1.2M408.5 369.6h1.2M398.1 411.6h1.2M401.5 344.6h1.2M402.3 376.0h1.2M398.1 395.6h1.2M407.5 355.1h1.2M407.9 378.9h1.2M395.6 419.4h1.2M400.6 398.2h1.2M405.8 391.7h1.2M391.2 451.4h1.2M392.9 462.2h1.2M406.9 370.3h1.2M401.7 353.5h1.2M391.4 467.3h1.2M432.4 365.6h1.2M393.4 431.9h1.2M393.3 464.0h1.2M416.2 329.7h1.2M389.8 426.6h1.2M413.8 357.2h1.2M397.8 367.0h1.2M414.1 340.2h1.2M392.1 472.9h1.2M400.9 343.4h1.2M400.6 367.3h1.2M393.3 476.2h1.2M395.5 409.5h1.2M405.3 402.2h1.2M407.8 349.0h1.2M413.9 327.4h1.2M393.5 468.6h1.2M391.8 438.5h1.2M408.6 367.5h1.2M394.7 451.9h1.2M392.9 462.2h1.2M393.6 454.3h1.2M409.3 351.6h1.2M402.1 338.6h1.2M393.9 459.1h1.2M391.7 469.7h1.2M396.6 418.2h1.2M394.0 401.5h1.2M393.7 412.2h1.2M394.6 407.9h1.2M399.4 398.6h1.2M399.6 394.1h1.2M417.3 340.3h1.2M399.6 386.3h1.2M395.9 405.6h1.2M390.9 403.4h1.2M399.5 397.1h1.2M390.9 441.9h1.2M405.5 340.9h1.2M393.2 451.3h1.2M399.4 394.2h1.2M409.7 383.6h1.2M390.5 432.4h1.2M397.2 426.3h1.2M389.9 457.8h1.2M412.2 356.3h1.2M404.9 411.6h1.2M396.2 429.6h1.2M402.9 325.6h1.2M392.4 453.7h1.2M402.1 334.2h1.2M422.3 376.1h1.2M398.9 390.7h1.2M403.4 420.3h1.2M393.0 451.7h1.2M391.6 445.6h1.2M401.3 378.3h1.2M390.4 422.4h1.2M403.9 369.2h1.2M396.9 400.0h1.2M390.9 438.1h1.2M395.1 455.7h1.2M423.5 359.6h1.2M394.4 474.4h1.2M391.5 445.3h1.2M404.9 401.2h1.2M423.2 363.9h1.2M407.9 357.7h1.2M389.7 445.4h1.2M403.2 364.6h1.2M412.4 340.2h1.2M391.7 412.1h1.2M403.9 331.4h1.2M412.6 327.8h1.2M390.2 454.4h1.2M393.4 474.6h1.2M399.0 365.1h1.2M392.8 469.0h1.2M394.1 453.7h1.2M392.9 475.5h1.2M409.6 335.8h1.2M404.4 406.0h1.2M404.5 339.5h1.2M418.7 369.2h1.2M398.6 369.1h1.2M392.7 456.0h1.2M391.4 425.6h1.2M409.8 333.9h1.2M405.0 372.4h1.2M394.3 436.8h1.2M409.2 347.2h1.2M405.4 367.2h1.2M395.9 380.0h1.2M392.7 474.0h1.2M393.3 447.5h1.2M398.8 359.8h1.2M393.2 475.6h1.2M409.5 371.3h1.2M391.1 445.2h1.2M390.1 458.8h1.2M409.6 354.8h1.2M392.8 467.6h1.2M394.1 434.4h1.2M409.1 347.6h1.2M413.5 335.7h1.2M390.4 422.7h1.2M410.4 338.9h1.2M406.1 398.2h1.2M391.7 470.5h1.2M396.9 383.8h1.2M399.2 376.3h1.2M393.9 396.8h1.2M405.9 359.2h1.2M397.8 395.3h1.2M404.0 371.0h1.2M413.4 349.1h1.2M410.8 362.7h1.2M393.6 450.3h1.2M395.2 393.3h1.2M404.9 370.7h1.2M399.4 355.9h1.2M393.2 471.9h1.2M396.0 446.9h1.2M393.5 476.6h1.2M399.1 402.8h1.2M392.9 466.8h1.2M406.2 359.1h1.2M414.2 340.8h1.2M403.7 331.9h1.2M392.4 406.5h1.2M413.4 331.0h1.2M394.8 419.6h1.2M394.5 438.4h1.2M410.5 365.2h1.2M398.0 388.6h1.2M396.3 424.8h1.2M411.7 328.5h1.2M391.7 421.4h1.2M400.1 359.3h1.2M403.0 366.3h1.2M408.3 387.2h1.2M391.3 466.5h1.2M398.3 410.5h1.2M400.9 392.0h1.2M405.1 334.5h1.2M405.0 371.0h1.2M396.2 408.0h1.2M402.3 377.8h1.2M390.9 400.3h1.2M391.4 468.1h1.2M409.6 351.5h1.2M411.6 340.3h1.2M398.0 371.9h1.2M412.0 390.8h1.2M390.9 461.4h1.2M395.1 460.9h1.2M409.3 359.1h1.2M403.6 383.8h1.2M404.1 353.1h1.2M395.9 417.8h1.2M393.3 473.4h1.2M392.7 464.6h1.2M402.2 334.6h1.2M395.8 391.7h1.2M403.6 351.1h1.2M401.8 404.3h1.2M406.9 359.7h1.2M390.6 456.1h1.2M411.4 344.9h1.2M412.1 338.8h1.2M395.2 413.4h1.2M390.0 445.4h1.2M403.1 385.1h1.2M413.2 333.5h1.2M411.4 341.9h1.2M399.7 353.3h1.2M403.9 380.0h1.2M403.6 383.3h1.2M403.2 382.9h1.2M401.0 354.5h1.2M393.6 458.7h1.2M394.2 435.2h1.2M409.8 325.3h1.2M425.3 343.9h1.2M399.2 381.4h1.2M403.4 329.5h1.2M407.0 352.8h1.2M414.2 382.4h1.2M393.4 464.0h1.2M397.9 376.3h1.2M394.8 383.6h1.2M401.6 362.5h1.2M411.2 331.1h1.2M393.6 467.2h1.2M420.4 363.2h1.2M420.4 326.2h1.2M424.1 326.3h1.2M393.5 476.4h1.2M404.4 331.2h1.2M390.9 463.0h1.2M414.8 346.5h1.2M405.7 367.0h1.2M390.3 418.1h1.2M394.5 446.4h1.2M399.0 367.3h1.2M413.1 355.2h1.2M395.5 435.3h1.2M392.0 470.7h1.2M414.7 366.5h1.2M394.4 443.9h1.2M401.4 346.3h1.2M416.1 328.7h1.2M393.1 446.9h1.2M391.3 437.7h1.2M389.9 429.4h1.2M406.4 339.2h1.2M400.2 391.7h1.2M398.6 362.6h1.2M418.4 357.0h1.2M392.5 456.5h1.2M420.3 328.6h1.2M399.8 415.1h1.2M406.8 338.2h1.2M401.1 367.3h1.2M401.4 348.7h1.2M391.8 442.8h1.2M393.0 442.1h1.2M397.1 385.4h1.2M394.3 421.7h1.2M405.2 354.8h1.2M412.5 327.6h1.2M389.9 439.1h1.2M392.2 470.1h1.2M410.0 343.0h1.2M401.0 347.8h1.2M399.1 387.4h1.2M406.9 335.5h1.2M393.4 471.5h1.2M415.8 340.5h1.2M402.4 335.7h1.2M406.9 370.2h1.2M393.4 475.4h1.2M389.7 450.0h1.2M402.9 343.3h1.2M390.9 411.7h1.2M399.2 392.7h1.2M412.7 340.3h1.2M392.3 462.2h1.2M393.3 472.5h1.2M389.6 445.0h1.2M403.2 335.2h1.2M390.6 459.1h1.2M404.8 354.4h1.2M409.0 340.4h1.2M412.8 363.7h1.2M391.7 469.6h1.2M412.3 327.5h1.2M392.9 471.0h1.2M393.4 473.7h1.2M400.9 367.0h1.2M394.6 441.4h1.2M399.8 399.7h1.2M417.3 333.7h1.2M400.6 392.7h1.2M407.9 345.7h1.2M400.6 414.5h1.2M394.9 413.9h1.2M411.3 328.8h1.2M395.3 419.7h1.2M397.9 399.5h1.2M393.3 470.2h1.2M406.7 355.9h1.2M392.6 453.6h1.2M392.8 469.5h1.2M410.3 330.4h1.2M403.9 396.7h1.2M392.6 466.8h1.2M412.8 336.9h1.2M407.6 330.0h1.2M390.7 459.8h1.2M410.6 351.5h1.2M393.6 448.7h1.2M403.3 389.2h1.2M416.1 356.9h1.2M406.2 368.2h1.2M390.5 415.6h1.2M389.6 442.5h1.2M400.3 356.9h1.2M391.8 453.9h1.2M390.3 444.6h1.2M395.5 416.3h1.2M400.2 355.4h1.2M393.0 471.6h1.2M415.6 345.8h1.2M406.4 356.7h1.2M394.4 396.3h1.2M413.5 344.3h1.2M407.4 395.3h1.2M393.7 392.2h1.2M393.1 403.6h1.2M412.3 338.2h1.2M402.8 365.4h1.2M399.0 365.7h1.2M407.3 419.0h1.2M403.1 358.2h1.2M393.7 466.2h1.2M405.8 329.7h1.2M394.6 427.8h1.2M399.4 371.4h1.2M393.5 431.7h1.2M405.4 329.0h1.2M391.7 455.8h1.2M402.3 397.5h1.2M404.9 340.5h1.2M406.6 331.2h1.2M404.3 365.7h1.2M396.4 390.8h1.2M400.0 351.7h1.2M411.1 327.6h1.2M394.4 440.0h1.2M394.8 405.5h1.2M392.4 426.4h1.2M390.2 421.3h1.2M394.9 442.0h1.2M404.3 332.7h1.2M393.5 458.5h1.2M408.3 330.7h1.2M392.8 442.1h1.2M396.3 411.7h1.2M390.5 459.7h1.2M415.5 328.3h1.2M393.7 438.5h1.2M410.9 345.1h1.2M391.0 458.4h1.2M410.5 340.6h1.2M392.5 461.9h1.2M393.7 404.0h1.2M393.3 442.9h1.2M407.5 373.2h1.2M396.1 374.7h1.2M394.0 385.7h1.2M393.0 457.4h1.2M409.3 334.8h1.2M392.0 464.6h1.2M392.9 462.2h1.2M393.1 441.2h1.2M401.3 410.8h1.2M412.4 331.6h1.2M398.3 421.3h1.2M412.0 340.7h1.2M401.7 354.4h1.2M401.1 408.5h1.2M390.2 435.6h1.2M396.9 372.6h1.2M398.7 371.0h1.2M401.2 386.9h1.2M409.7 352.8h1.2M392.3 434.6h1.2M389.5 434.5h1.2M404.8 375.1h1.2M389.5 439.1h1.2M400.2 358.9h1.2M404.0 377.4h1.2M399.2 403.8h1.2M391.3 467.0h1.2M393.3 434.3h1.2M392.5 394.3h1.2M391.9 452.5h1.2M396.2 410.7h1.2M392.1 403.8h1.2M389.8 455.1h1.2M397.2 424.7h1.2M401.2 388.8h1.2M397.0 407.9h1.2M393.6 457.9h1.2M408.2 334.0h1.2M390.4 444.4h1.2M411.2 368.0h1.2M397.9 406.8h1.2M394.9 413.5h1.2M417.5 325.3h1.2M394.9 426.1h1.2M404.9 374.7h1.2M393.0 450.5h1.2M394.9 440.3h1.2M413.8 403.5h1.2M410.2 328.7h1.2M414.3 331.4h1.2M394.1 442.5h1.2M392.7 458.1h1.2M410.1 341.4h1.2M393.4 436.1h1.2M400.2 394.9h1.2M395.6 411.8h1.2M401.3 340.2h1.2M394.3 430.8h1.2M394.2 385.6h1.2M399.6 426.4h1.2M390.6 409.1h1.2M396.3 410.1h1.2M392.0 432.5h1.2M390.2 452.0h1.2M399.7 390.1h1.2M399.2 399.3h1.2M399.6 394.9h1.2M395.5 446.4h1.2M404.3 328.2h1.2M401.2 341.8h1.2M411.7 351.4h1.2M392.6 457.0h1.2M393.1 418.8h1.2M416.6 329.4h1.2M392.2 447.2h1.2M405.2 366.3h1.2M393.0 464.9h1.2M394.6 415.3h1.2M400.7 392.6h1.2M389.9 461.0h1.2M391.9 467.8h1.2M390.4 440.0h1.2M397.0 427.3h1.2M390.0 417.4h1.2M398.5 406.1h1.2M411.5 343.9h1.2M401.5 388.9h1.2M412.7 334.8h1.2M401.5 355.2h1.2M424.5 334.0h1.2M397.0 419.2h1.2M399.0 398.3h1.2M389.5 435.9h1.2M389.8 449.5h1.2M399.8 368.8h1.2M391.3 450.4h1.2M398.9 365.9h1.2M408.2 328.3h1.2M407.6 334.5h1.2M392.6 475.1h1.2M393.6 440.3h1.2M403.0 350.8h1.2M403.7 353.4h1.2M393.7 442.8h1.2M404.7 392.4h1.2M416.1 327.8h1.2M392.7 435.1h1.2M392.7 460.6h1.2M409.1 339.8h1.2M403.2 362.6h1.2M390.4 461.8h1.2M393.1 468.2h1.2M410.1 353.5h1.2M391.4 468.0h1.2M394.0 427.4h1.2M398.9 362.6h1.2M413.2 334.4h1.2M408.0 350.3h1.2M403.9 370.6h1.2M393.1 472.9h1.2M397.3 407.6h1.2M414.7 326.1h1.2M398.1 374.7h1.2M402.7 378.9h1.2M394.2 406.8h1.2M397.5 434.2h1.2M414.9 332.5h1.2M400.5 358.0h1.2M411.8 327.3h1.2M393.6 448.6h1.2M389.6 435.1h1.2M397.6 374.7h1.2M407.6 330.2h1.2M404.4 384.5h1.2M393.8 422.1h1.2M391.1 414.0h1.2M405.7 382.3h1.2M392.6 475.2h1.2M404.5 387.4h1.2M422.2 325.4h1.2M393.0 471.9h1.2M392.7 395.4h1.2M420.5 345.1h1.2M411.3 351.2h1.2M401.2 352.1h1.2M392.5 475.0h1.2M406.2 380.6h1.2M395.5 419.2h1.2M396.8 375.9h1.2M411.2 367.1h1.2M394.1 410.3h1.2M400.3 383.4h1.2M403.7 379.0h1.2M406.3 371.8h1.2M397.9 368.1h1.2M410.1 348.2h1.2M392.3 409.7h1.2M394.9 419.6h1.2M413.9 327.6h1.2M402.0 395.9h1.2M394.3 452.6h1.2M417.5 327.6h1.2M393.6 476.8h1.2M392.2 436.3h1.2M398.7 371.6h1.2M394.3 406.4h1.2M394.5 458.1h1.2M395.0 437.0h1.2M393.0 473.2h1.2M393.1 429.1h1.2M401.7 373.9h1.2M390.6 414.0h1.2M393.8 441.5h1.2M399.9 364.6h1.2M392.3 433.3h1.2M405.3 383.5h1.2M392.8 462.3h1.2M395.0 428.6h1.2M401.6 347.6h1.2M393.1 431.0h1.2M392.2 430.3h1.2M392.4 445.4h1.2M389.6 447.3h1.2M394.4 431.3h1.2M389.7 425.0h1.2M399.8 353.2h1.2M395.1 433.4h1.2M399.6 382.1h1.2M395.9 443.8h1.2M393.6 437.5h1.2M403.9 337.5h1.2M389.7 454.4h1.2M393.1 475.3h1.2M392.9 469.3h1.2M392.8 466.1h1.2M409.1 356.4h1.2M391.1 460.9h1.2M393.7 448.9h1.2M400.3 372.5h1.2M396.0 386.3h1.2M390.1 452.8h1.2M391.8 460.0h1.2M405.1 327.4h1.2M409.4 363.4h1.2M410.5 351.0h1.2M394.7 433.3h1.2M401.7 358.7h1.2M395.7 452.1h1.2M410.5 352.0h1.2M408.5 361.1h1.2M392.2 459.9h1.2M392.7 409.8h1.2M393.4 436.0h1.2M393.0 464.8h1.2M401.3 347.0h1.2M396.8 424.2h1.2M391.4 414.2h1.2M401.2 346.5h1.2M410.9 334.7h1.2M409.1 359.3h1.2M409.7 375.9h1.2M401.9 383.9h1.2M395.1 380.0h1.2M413.1 332.7h1.2M390.5 408.0h1.2M394.0 440.9h1.2M392.7 476.1h1.2M409.2 331.6h1.2M409.3 354.5h1.2M397.2 385.2h1.2M413.9 332.9h1.2M414.3 325.0h1.2M391.1 424.2h1.2M396.6 384.7h1.2M395.6 453.3h1.2M400.6 374.7h1.2M396.1 412.9h1.2M399.6 422.6h1.2M394.6 392.6h1.2M396.4 410.4h1.2M399.3 358.1h1.2M407.9 361.2h1.2M393.0 466.4h1.2M391.0 413.4h1.2M394.5 437.5h1.2M418.4 335.7h1.2M391.0 410.2h1.2M403.1 409.1h1.2M393.1 402.8h1.2M414.6 330.8h1.2M391.9 400.8h1.2M414.0 335.3h1.2M393.8 452.0h1.2M397.3 418.6h1.2M389.6 433.7h1.2M403.7 333.0h1.2M394.9 450.6h1.2M390.0 434.5h1.2M404.1 325.8h1.2M389.8 432.9h1.2M392.2 402.4h1.2M391.1 427.2h1.2M395.8 414.6h1.2M393.4 403.8h1.2M394.0 440.6h1.2M399.6 369.5h1.2M394.3 472.1h1.2M392.7 446.5h1.2M393.0 468.6h1.2M424.2 343.9h1.2M397.8 380.4h1.2M392.9 404.7h1.2M406.5 363.6h1.2M403.1 391.9h1.2M391.6 420.6h1.2M397.7 389.0h1.2M403.1 361.8h1.2M395.6 432.9h1.2M404.8 373.8h1.2M417.7 375.5h1.2M395.6 434.6h1.2M389.8 421.3h1.2M396.9 414.1h1.2M390.8 450.7h1.2M395.8 404.9h1.2M394.7 432.6h1.2M407.3 327.3h1.2M390.8 447.6h1.2M423.9 337.2h1.2M404.9 342.4h1.2M393.1 459.9h1.2M413.1 333.8h1.2M402.8 330.5h1.2M390.5 436.1h1.2M390.5 443.5h1.2M399.4 397.2h1.2M410.6 349.3h1.2M393.5 475.8h1.2M396.9 445.1h1.2M398.4 430.5h1.2M392.5 475.4h1.2M399.1 359.5h1.2M394.9 443.4h1.2M392.2 454.1h1.2M412.5 331.8h1.2M398.9 372.9h1.2M400.5 395.9h1.2M394.1 462.1h1.2M402.8 383.5h1.2M405.5 352.0h1.2M394.3 386.5h1.2M414.0 327.4h1.2M394.4 420.2h1.2M410.1 399.8h1.2M395.8 441.4h1.2M404.5 377.4h1.2M423.6 327.9h1.2M399.3 359.9h1.2M413.3 356.8h1.2M401.6 386.6h1.2M399.4 370.7h1.2M391.6 407.7h1.2M392.8 451.4h1.2M399.6 376.5h1.2M396.0 450.9h1.2M397.6 385.5h1.2M403.9 367.1h1.2M403.1 338.6h1.2M407.2 364.3h1.2M415.7 331.5h1.2M394.8 407.4h1.2M405.2 325.3h1.2M417.6 344.6h1.2M394.1 442.7h1.2M406.3 359.5h1.2M406.0 339.5h1.2M392.6 400.9h1.2M395.7 437.2h1.2M393.7 473.4h1.2M406.2 373.2h1.2M403.0 332.4h1.2M407.8 368.0h1.2M403.2 358.7h1.2M390.6 407.9h1.2M396.6 376.2h1.2M396.5 428.5h1.2M394.5 439.3h1.2M391.3 460.5h1.2M405.4 396.7h1.2M405.6 331.0h1.2M391.4 450.3h1.2M392.4 397.3h1.2M402.5 368.5h1.2M394.5 382.3h1.2M404.2 351.9h1.2M395.9 419.2h1.2M400.2 377.8h1.2M394.1 454.3h1.2M419.9 331.6h1.2M405.3 381.2h1.2M396.0 407.4h1.2M390.8 457.9h1.2M392.7 406.2h1.2M416.1 342.5h1.2M390.0 422.9h1.2M407.0 368.3h1.2M410.3 382.0h1.2M406.1 371.3h1.2M397.7 409.8h1.2M393.5 404.3h1.2M400.9 365.2h1.2M393.0 452.7h1.2M393.0 469.4h1.2M407.9 355.8h1.2M393.7 476.4h1.2M393.6 467.2h1.2M393.5 449.8h1.2M395.0 405.9h1.2M411.5 336.0h1.2M397.2 398.1h1.2M408.9 330.6h1.2M410.5 339.6h1.2M400.9 405.5h1.2M393.8 442.5h1.2M394.3 427.0h1.2M391.1 445.0h1.2M420.8 326.8h1.2M394.2 430.7h1.2M391.1 466.1h1.2M391.5 463.5h1.2M393.7 434.6h1.2M393.4 465.4h1.2M419.5 364.5h1.2M408.1 335.1h1.2M392.0 472.7h1.2M395.3 433.4h1.2M392.7 431.0h1.2M407.6 365.1h1.2M401.7 346.3h1.2M407.6 371.2h1.2M393.4 472.0h1.2M397.9 405.9h1.2M404.9 379.1h1.2M394.7 388.0h1.2M400.0 365.5h1.2M404.8 369.3h1.2M392.6 431.2h1.2M396.3 389.4h1.2M395.4 421.0h1.2M398.3 426.0h1.2M412.2 355.6h1.2M395.4 424.7h1.2M394.0 469.8h1.2M403.0 358.7h1.2M393.7 462.8h1.2M391.1 424.5h1.2M392.0 406.2h1.2M403.1 397.5h1.2M390.7 413.6h1.2M393.1 441.6h1.2M409.9 350.2h1.2M406.1 331.4h1.2M403.5 333.4h1.2M393.8 401.1h1.2M406.8 333.7h1.2M390.3 458.5h1.2M392.5 470.8h1.2M399.4 362.5h1.2M418.5 329.4h1.2M406.1 325.7h1.2M403.6 390.0h1.2M398.2 389.3h1.2M400.2 393.4h1.2M411.5 326.5h1.2M400.1 437.1h1.2M393.7 453.1h1.2M392.2 432.9h1.2M411.0 366.1h1.2M404.2 331.3h1.2M390.3 419.7h1.2M397.6 395.7h1.2M400.7 355.7h1.2M416.1 368.4h1.2M407.9 356.5h1.2M397.4 437.0h1.2M430.6 326.0h1.2M412.5 342.3h1.2M392.6 466.2h1.2M405.5 360.5h1.2M406.2 369.8h1.2M397.4 403.4h1.2M390.2 426.7h1.2M405.6 370.6h1.2M394.6 441.2h1.2M405.1 366.0h1.2M389.9 428.0h1.2M396.0 455.0h1.2M405.7 392.0h1.2M403.0 407.7h1.2M414.4 339.2h1.2M396.1 408.5h1.2M402.4 348.6h1.2M409.0 329.0h1.2M400.1 393.5h1.2M401.1 382.8h1.2M395.0 447.3h1.2M392.6 439.8h1.2M403.7 363.8h1.2M393.0 473.3h1.2M394.2 432.7h1.2M396.4 402.5h1.2M426.0 329.0h1.2M394.2 424.9h1.2M395.0 441.5h1.2M409.7 343.7h1.2M408.3 354.2h1.2M393.2 415.4h1.2M408.7 337.6h1.2M410.6 330.0h1.2M401.3 351.2h1.2M399.4 388.3h1.2M395.7 439.6h1.2M398.5 385.9h1.2M395.6 427.1h1.2M399.8 358.9h1.2M410.6 327.7h1.2M396.3 392.3h1.2M394.3 390.2h1.2M420.2 332.3h1.2M415.7 326.5h1.2M413.2 338.3h1.2M392.8 416.3h1.2M405.5 363.9h1.2M395.2 417.8h1.2M412.5 376.8h1.2M393.1 391.4h1.2M410.0 378.6h1.2M393.5 476.3h1.2M397.8 415.1h1.2M394.6 381.9h1.2M394.2 384.8h1.2M393.1 436.6h1.2M393.2 412.8h1.2M408.8 362.4h1.2M393.8 470.2h1.2M390.1 458.9h1.2M412.0 326.3h1.2M392.5 464.1h1.2M393.1 390.4h1.2M407.1 354.5h1.2M401.6 345.6h1.2M399.0 403.8h1.2M402.7 398.7h1.2M401.4 341.9h1.2M393.0 416.6h1.2M395.4 381.9h1.2M394.4 409.5h1.2M393.6 446.8h1.2M402.7 362.7h1.2M393.4 470.0h1.2M408.3 365.0h1.2M396.7 402.2h1.2M407.4 336.4h1.2M390.4 446.3h1.2M396.4 416.8h1.2M410.9 347.2h1.2M413.9 349.0h1.2M392.0 431.7h1.2M414.8 333.7h1.2M393.5 456.0h1.2M409.0 327.0h1.2M406.7 345.1h1.2M396.8 422.9h1.2M402.6 330.6h1.2M404.4 335.3h1.2M410.7 328.4h1.2M414.7 334.6h1.2M392.0 451.3h1.2M392.0 449.1h1.2M396.8 449.8h1.2M399.9 355.9h1.2M394.2 446.5h1.2M396.7 406.7h1.2M392.1 418.3h1.2M405.5 352.3h1.2M391.4 467.9h1.2M392.1 426.0h1.2M390.6 412.6h1.2M408.9 390.8h1.2M419.7 326.6h1.2M426.4 325.1h1.2M393.1 465.2h1.2M398.6 394.3h1.2M401.2 411.1h1.2M391.2 459.6h1.2M394.8 425.2h1.2M395.8 433.1h1.2M401.6 373.7h1.2M391.8 412.8h1.2M395.6 427.6h1.2M411.9 326.8h1.2M393.4 467.0h1.2M397.3 369.9h1.2M400.8 413.6h1.2M391.0 437.8h1.2M399.0 376.5h1.2M395.7 453.2h1.2M397.8 384.3h1.2M394.3 450.0h1.2M407.5 325.4h1.2M411.3 340.2h1.2M400.9 351.5h1.2M403.2 387.6h1.2M404.0 404.1h1.2M403.1 379.3h1.2M393.7 466.5h1.2M394.3 471.5h1.2M390.0 416.7h1.2M405.5 343.5h1.2M399.5 390.1h1.2M406.0 338.9h1.2M396.4 400.4h1.2M393.8 413.9h1.2M398.8 416.3h1.2M414.5 331.9h1.2M396.7 375.2h1.2M413.2 377.9h1.2M402.5 339.0h1.2M401.8 386.2h1.2M404.1 340.5h1.2M394.5 473.5h1.2M393.3 445.4h1.2M394.9 420.7h1.2M389.5 434.7h1.2M396.2 417.6h1.2M392.2 473.0h1.2M401.3 350.6h1.2M410.3 398.3h1.2M397.7 378.1h1.2M399.2 361.7h1.2M402.4 332.1h1.2M405.4 372.6h1.2M392.4 463.8h1.2M393.2 462.3h1.2M393.1 443.6h1.2M401.2 377.2h1.2M408.3 384.4h1.2M398.7 399.6h1.2M392.8 457.0h1.2M402.7 333.9h1.2M391.4 460.3h1.2M408.4 351.8h1.2M409.4 399.7h1.2M397.8 402.6h1.2M410.0 356.1h1.2M395.1 434.9h1.2M407.1 369.3h1.2M395.0 401.8h1.2M401.0 377.8h1.2M396.1 418.6h1.2M406.6 366.8h1.2M406.2 337.7h1.2M411.4 343.3h1.2M407.1 330.1h1.2M399.0 370.5h1.2M409.2 345.1h1.2M412.9 360.4h1.2M398.5 384.2h1.2M405.6 350.8h1.2M398.0 381.7h1.2M398.8 378.3h1.2M403.9 326.4h1.2M398.8 392.4h1.2M411.7 326.5h1.2M397.0 382.4h1.2M399.5 397.4h1.2M408.0 342.0h1.2M411.7 340.5h1.2M394.0 441.4h1.2M390.6 441.3h1.2M393.2 447.6h1.2M395.3 421.5h1.2M415.0 334.0h1.2M403.4 376.1h1.2M391.9 425.1h1.2M390.8 462.5h1.2M412.4 330.4h1.2M394.3 439.8h1.2M415.0 325.5h1.2M404.5 374.0h1.2M399.0 376.0h1.2M400.0 399.2h1.2M403.2 354.3h1.2M396.6 417.1h1.2M400.8 419.3h1.2M393.0 451.1h1.2M406.1 362.9h1.2M391.9 471.2h1.2M392.3 467.8h1.2M414.5 331.2h1.2M402.4 389.8h1.2M395.4 394.3h1.2M403.2 364.0h1.2M398.7 377.1h1.2M400.7 356.3h1.2M395.8 386.5h1.2M390.9 401.9h1.2M400.4 367.6h1.2M392.5 457.9h1.2M397.9 409.8h1.2M404.1 371.4h1.2M411.8 335.1h1.2M413.7 337.3h1.2M398.4 408.7h1.2M393.1 470.8h1.2M391.5 412.4h1.2M392.3 462.8h1.2M404.5 357.7h1.2M412.8 337.6h1.2M410.7 325.1h1.2M393.9 448.7h1.2M401.6 343.5h1.2M399.1 391.3h1.2M408.0 353.4h1.2M389.5 441.7h1.2M393.0 415.5h1.2M393.6 474.7h1.2M396.6 440.3h1.2M413.1 328.4h1.2M415.6 337.2h1.2M393.9 410.5h1.2M390.7 430.9h1.2M403.2 327.9h1.2M391.6 418.2h1.2M396.0 433.2h1.2M391.2 412.5h1.2M412.2 330.2h1.2M404.2 368.7h1.2M396.7 380.7h1.2M403.7 364.9h1.2M396.8 422.8h1.2M392.8 444.2h1.2M410.3 340.7h1.2M393.7 448.0h1.2M402.9 331.3h1.2M407.3 339.0h1.2M396.3 420.8h1.2M392.2 420.1h1.2M397.7 392.9h1.2M393.3 452.6h1.2M394.5 439.3h1.2M396.1 394.1h1.2M402.2 380.4h1.2M397.4 399.8h1.2M393.5 466.8h1.2M406.8 341.4h1.2M401.4 392.7h1.2M408.0 335.8h1.2M392.2 448.4h1.2M396.0 414.2h1.2M400.3 396.9h1.2M397.0 408.7h1.2M405.5 356.0h1.2M389.7 442.2h1.2M394.4 454.2h1.2M397.1 416.2h1.2M392.7 391.4h1.2M409.1 352.8h1.2M395.9 406.5h1.2M395.4 411.3h1.2M406.1 408.2h1.2M390.3 436.5h1.2M390.5 426.6h1.2M396.9 379.5h1.2M393.8 400.5h1.2M395.5 429.0h1.2M417.3 331.3h1.2M391.7 411.1h1.2M391.7 443.6h1.2M393.3 475.8h1.2M390.3 428.8h1.2M402.8 339.8h1.2M395.5 420.7h1.2M392.4 458.0h1.2M391.9 400.3h1.2M391.3 453.8h1.2M425.5 358.4h1.2M400.8 360.7h1.2M391.4 449.3h1.2M393.7 421.4h1.2M390.9 438.7h1.2M403.5 357.8h1.2M395.8 419.1h1.2M404.2 360.6h1.2M393.6 471.9h1.2M403.4 337.8h1.2M402.4 336.7h1.2M396.2 386.6h1.2M402.8 347.2h1.2M420.7 348.2h1.2M412.8 328.7h1.2M394.0 449.4h1.2M392.2 446.5h1.2M397.1 384.9h1.2M397.2 394.8h1.2M403.1 326.7h1.2M390.2 415.2h1.2M408.6 378.4h1.2M397.0 375.7h1.2M393.8 391.3h1.2M389.9 450.8h1.2M407.0 325.7h1.2M393.7 417.8h1.2M398.3 439.8h1.2M390.8 465.5h1.2M401.0 394.0h1.2M391.6 443.8h1.2M394.8 434.0h1.2M397.7 370.7h1.2M407.0 368.4h1.2M409.3 335.8h1.2M413.6 337.8h1.2M395.2 424.5h1.2M400.7 365.3h1.2M394.6 465.7h1.2M392.6 470.7h1.2M395.1 438.3h1.2M402.9 382.2h1.2M394.0 450.9h1.2M401.1 420.3h1.2M403.6 376.9h1.2M404.5 371.1h1.2M402.4 376.2h1.2M408.2 336.3h1.2M397.7 375.6h1.2M409.3 372.4h1.2M393.5 434.3h1.2M401.0 425.8h1.2M396.9 388.8h1.2M397.4 405.2h1.2M392.7 464.7h1.2M410.6 345.0h1.2M390.0 426.2h1.2M390.2 453.5h1.2M427.3 366.3h1.2M406.9 349.4h1.2M407.0 358.3h1.2M410.5 331.3h1.2M393.0 464.5h1.2M395.8 425.4h1.2M402.6 389.8h1.2M393.8 430.8h1.2M391.7 461.7h1.2M394.0 422.2h1.2M392.7 457.0h1.2M390.1 436.6h1.2M393.5 470.3h1.2M391.5 468.1h1.2M391.9 421.7h1.2M404.7 369.0h1.2M400.3 349.4h1.2M399.5 381.6h1.2M410.1 357.0h1.2M398.1 398.8h1.2M396.5 423.4h1.2M418.8 325.3h1.2M398.2 365.9h1.2M391.3 406.6h1.2M412.2 338.5h1.2M394.7 390.2h1.2M398.2 412.2h1.2M401.3 361.0h1.2M399.4 390.9h1.2M428.3 333.7h1.2M400.7 362.3h1.2M393.6 435.8h1.2M412.5 366.9h1.2M408.2 365.7h1.2M396.5 401.4h1.2M392.5 456.3h1.2M410.3 354.8h1.2M400.9 395.7h1.2M400.1 385.2h1.2M416.4 350.0h1.2M392.2 471.0h1.2M393.6 470.4h1.2M390.4 427.9h1.2M392.2 440.2h1.2M421.4 351.8h1.2M406.0 341.8h1.2M405.3 329.3h1.2M390.7 429.0h1.2M393.6 469.1h1.2M394.4 442.6h1.2M392.8 408.6h1.2M412.5 367.3h1.2M393.7 459.6h1.2M392.2 435.1h1.2M390.2 454.5h1.2M391.6 452.8h1.2M394.6 455.8h1.2M395.6 429.1h1.2M403.2 400.1h1.2M421.8 330.6h1.2M403.7 365.0h1.2M404.6 364.6h1.2M398.9 391.5h1.2M402.8 373.7h1.2M402.1 365.3h1.2M410.9 333.4h1.2M400.3 356.2h1.2M413.6 340.0h1.2M399.1 369.6h1.2M404.7 343.8h1.2M391.1 458.4h1.2M418.8 375.3h1.2M403.9 382.3h1.2M402.6 380.5h1.2M410.0 342.7h1.2M392.1 418.0h1.2M396.3 394.6h1.2M393.6 440.4h1.2M418.5 335.9h1.2M410.2 337.1h1.2M391.4 410.1h1.2M407.9 386.9h1.2M396.3 423.4h1.2M394.2 473.3h1.2M396.2 411.5h1.2M394.7 436.6h1.2M396.2 419.6h1.2M399.5 360.1h1.2M405.0 340.0h1.2M413.8 334.3h1.2M410.8 333.4h1.2M403.1 354.8h1.2M390.0 418.1h1.2M403.6 377.5h1.2M394.0 453.8h1.2M401.2 407.3h1.2M392.0 462.9h1.2M394.4 446.2h1.2M415.4 327.7h1.2M412.2 364.5h1.2M409.2 362.3h1.2M400.0 351.8h1.2M403.8 376.5h1.2M402.4 377.8h1.2M390.8 459.8h1.2M403.2 372.5h1.2M395.8 406.9h1.2M394.1 448.9h1.2M401.3 361.3h1.2M391.6 410.0h1.2M394.0 448.3h1.2M393.9 468.2h1.2M397.6 388.4h1.2M405.8 332.9h1.2M394.9 439.2h1.2M402.7 374.4h1.2M402.4 389.2h1.2M393.0 438.8h1.2M416.9 333.7h1.2M406.4 370.5h1.2M408.6 329.4h1.2M393.4 445.6h1.2M395.1 407.8h1.2M395.9 391.3h1.2M391.0 410.3h1.2M392.3 442.2h1.2M402.8 336.9h1.2M393.5 390.3h1.2M396.8 379.2h1.2M393.2 474.2h1.2M420.5 326.1h1.2M411.8 328.9h1.2M409.0 327.8h1.2M391.2 414.7h1.2M405.8 376.6h1.2M393.8 449.6h1.2M406.1 333.8h1.2M391.3 411.5h1.2M422.9 325.1h1.2M393.5 430.0h1.2M406.3 370.1h1.2M398.0 391.1h1.2M423.8 365.0h1.2M400.3 393.3h1.2M401.6 390.6h1.2M397.2 395.2h1.2M403.8 369.1h1.2M393.3 431.7h1.2M390.0 433.4h1.2M396.1 446.8h1.2M391.2 458.8h1.2M413.0 342.6h1.2M392.9 470.4h1.2M391.0 429.7h1.2M394.9 415.5h1.2M400.3 391.6h1.2M397.0 371.1h1.2M391.9 467.7h1.2M412.2 334.3h1.2M394.3 448.3h1.2M389.9 456.9h1.2M392.8 403.2h1.2M408.1 326.5h1.2M398.6 403.5h1.2M396.6 406.4h1.2M402.2 371.2h1.2M408.6 342.6h1.2M404.3 388.5h1.2M416.3 365.2h1.2M401.9 342.1h1.2M391.5 406.8h1.2M391.0 409.7h1.2M390.7 463.4h1.2M395.4 385.7h1.2M394.2 468.0h1.2M393.2 465.7h1.2M403.9 336.6h1.2M427.2 351.9h1.2M400.9 386.8h1.2M393.8 448.7h1.2M391.1 465.0h1.2M404.3 389.8h1.2M394.1 388.4h1.2M408.5 353.4h1.2M403.3 379.9h1.2M403.5 377.7h1.2M404.3 370.0h1.2M400.8 391.5h1.2M410.1 346.5h1.2M406.5 326.9h1.2M410.9 349.9h1.2M406.5 373.4h1.2M397.8 380.1h1.2M403.6 327.1h1.2M414.9 332.4h1.2M398.2 403.4h1.2M396.9 411.1h1.2M393.0 453.0h1.2M396.2 413.6h1.2M415.5 326.0h1.2M403.1 374.3h1.2M416.7 325.6h1.2M389.6 432.9h1.2M407.1 340.1h1.2M392.6 469.4h1.2M414.2 357.4h1.2M412.2 340.4h1.2M391.8 464.5h1.2M403.1 364.9h1.2M412.2 327.9h1.2M404.2 388.0h1.2M407.9 348.9h1.2M412.2 343.0h1.2M394.6 440.5h1.2M394.5 447.0h1.2M406.5 354.7h1.2M410.2 365.4h1.2M405.4 376.1h1.2M394.2 412.0h1.2M416.1 343.2h1.2M390.2 444.0h1.2M393.5 391.6h1.2M390.3 451.8h1.2M396.5 403.7h1.2M399.3 364.5h1.2M416.6 328.6h1.2M403.8 364.7h1.2M405.8 408.5h1.2M413.9 359.6h1.2M403.1 384.5h1.2M393.3 441.1h1.2M401.2 371.1h1.2M409.0 369.2h1.2M395.5 440.6h1.2M393.6 421.5h1.2M404.0 348.8h1.2M408.1 343.4h1.2M395.2 454.7h1.2M397.6 430.9h1.2M392.0 441.9h1.2M410.4 366.7h1.2M393.4 475.6h1.2M398.9 378.8h1.2M392.9 470.2h1.2M401.6 394.5h1.2M402.8 364.5h1.2M399.9 410.1h1.2M392.8 463.6h1.2M406.9 330.9h1.2M401.7 348.5h1.2M393.4 406.3h1.2M404.9 340.9h1.2M391.6 439.7h1.2M400.2 391.4h1.2M426.9 337.8h1.2M409.7 341.2h1.2M400.5 359.6h1.2M392.4 397.4h1.2M389.8 440.0h1.2M401.8 373.3h1.2M396.6 373.6h1.2M400.0 367.0h1.2M410.1 338.8h1.2M401.6 377.8h1.2M401.7 341.1h1.2M409.1 327.3h1.2M411.6 327.7h1.2M397.8 368.6h1.2M397.6 382.9h1.2M405.0 365.6h1.2M398.8 375.8h1.2M393.8 393.8h1.2M402.6 330.2h1.2M394.1 444.5h1.2M399.2 378.0h1.2M395.6 428.6h1.2M394.9 419.1h1.2M391.5 444.2h1.2M403.5 343.3h1.2M390.9 408.5h1.2M399.1 366.5h1.2M396.5 438.1h1.2M402.5 351.8h1.2M392.3 461.7h1.2M394.0 452.5h1.2M390.8 457.5h1.2M396.9 418.2h1.2M416.9 350.4h1.2M391.6 460.2h1.2M402.2 385.9h1.2M404.9 345.5h1.2M397.3 377.2h1.2M397.8 412.2h1.2M402.4 330.7h1.2M418.9 337.3h1.2M393.5 453.8h1.2M416.4 358.6h1.2M411.1 339.5h1.2M404.6 373.8h1.2M411.2 336.5h1.2M405.3 396.7h1.2M404.4 369.8h1.2M391.5 400.9h1.2M407.5 333.3h1.2M406.4 337.4h1.2M393.5 448.4h1.2M402.5 374.8h1.2M404.3 351.7h1.2M391.4 406.9h1.2M405.1 364.6h1.2M406.3 326.7h1.2M390.2 421.1h1.2M395.2 394.0h1.2M406.4 357.6h1.2M403.9 337.0h1.2M400.4 377.4h1.2M395.0 418.5h1.2M408.2 353.3h1.2M391.2 436.8h1.2M398.1 404.6h1.2M406.9 351.7h1.2M393.2 475.2h1.2M392.8 463.3h1.2M399.7 352.3h1.2M400.7 365.5h1.2M405.1 360.4h1.2M405.0 327.9h1.2M410.8 342.8h1.2M394.0 398.4h1.2M413.6 339.3h1.2M401.6 349.5h1.2M390.2 416.7h1.2M423.7 329.6h1.2M393.4 414.5h1.2M399.1 400.0h1.2M392.4 474.1h1.2M390.5 442.0h1.2M391.0 439.9h1.2M417.4 333.1h1.2M402.5 363.3h1.2M417.9 375.0h1.2M397.0 410.8h1.2M407.8 352.0h1.2M400.0 395.5h1.2M393.5 424.0h1.2M415.2 325.9h1.2M395.0 419.3h1.2M391.9 431.4h1.2M391.4 431.1h1.2M392.8 408.1h1.2M399.9 389.9h1.2M394.6 445.1h1.2M403.5 378.1h1.2M392.5 470.9h1.2M397.0 422.8h1.2M414.3 327.7h1.2M399.6 392.1h1.2M401.7 339.6h1.2M390.1 458.9h1.2M392.8 464.0h1.2M416.4 326.4h1.2M404.3 327.2h1.2M393.7 430.1h1.2M392.7 459.2h1.2M398.7 406.3h1.2M390.2 451.8h1.2M410.6 332.2h1.2M390.3 437.5h1.2M393.2 477.0h1.2M390.8 441.5h1.2M392.0 423.3h1.2M394.6 410.5h1.2M409.6 366.1h1.2M397.1 397.7h1.2M392.5 399.2h1.2M412.5 331.2h1.2M391.5 421.5h1.2M390.0 459.1h1.2M393.1 451.1h1.2M402.1 342.3h1.2M398.7 364.6h1.2M397.5 388.7h1.2M401.9 388.5h1.2M409.1 347.3h1.2M391.9 430.3h1.2M408.4 352.9h1.2M395.0 444.2h1.2M395.7 427.2h1.2M393.7 468.4h1.2M407.2 364.2h1.2M394.5 439.2h1.2M397.6 407.2h1.2M403.5 382.8h1.2M403.1 332.0h1.2M393.2 471.2h1.2M391.0 465.1h1.2M396.7 407.0h1.2M398.1 422.3h1.2M395.6 419.8h1.2M403.3 394.8h1.2M422.3 357.7h1.2M390.0 422.1h1.2M396.3 376.8h1.2M394.4 468.9h1.2M400.2 383.0h1.2M393.6 404.6h1.2M395.7 403.5h1.2M397.5 392.7h1.2M403.6 367.0h1.2M391.9 456.2h1.2M395.1 452.7h1.2M393.7 462.1h1.2M405.0 366.6h1.2M394.9 452.0h1.2M390.3 462.5h1.2M402.9 328.5h1.2M393.3 466.4h1.2M412.9 367.1h1.2M394.6 382.4h1.2M394.3 396.8h1.2M396.3 420.9h1.2M406.8 327.9h1.2M411.2 329.4h1.2M397.1 398.9h1.2M418.8 332.7h1.2M401.9 338.4h1.2M405.6 334.3h1.2M412.6 337.8h1.2M399.8 361.0h1.2M403.9 396.9h1.2M416.4 335.9h1.2M404.7 360.5h1.2M392.8 447.8h1.2M412.0 360.7h1.2M390.2 441.9h1.2M401.3 382.4h1.2M401.0 359.0h1.2M404.6 368.0h1.2M414.8 329.8h1.2M409.7 336.9h1.2M397.8 374.1h1.2M392.0 446.4h1.2M392.7 441.8h1.2M416.8 351.1h1.2M389.9 420.0h1.2M400.0 366.0h1.2M390.3 412.2h1.2M393.2 431.5h1.2M394.0 443.9h1.2M391.9 471.3h1.2M395.8 439.0h1.2M392.0 455.1h1.2M393.0 444.4h1.2M403.3 397.9h1.2M393.8 464.8h1.2M410.5 364.6h1.2M401.5 380.3h1.2M411.1 342.7h1.2M398.4 405.6h1.2M391.3 426.0h1.2M393.0 464.2h1.2M393.6 474.6h1.2M398.1 387.4h1.2M397.3 369.4h1.2M411.6 370.2h1.2M410.6 341.3h1.2M398.7 401.3h1.2M422.2 335.0h1.2M413.0 359.3h1.2M394.4 468.2h1.2M404.9 326.7h1.2M403.5 383.7h1.2M392.8 454.2h1.2M405.3 373.9h1.2M390.9 466.5h1.2M390.7 402.1h1.2M395.1 430.0h1.2M392.7 476.6h1.2M397.5 402.8h1.2M397.9 433.9h1.2M393.2 426.5h1.2M392.5 451.6h1.2M410.7 329.5h1.2M396.5 394.2h1.2M394.3 400.1h1.2M400.0 368.1h1.2M393.4 470.4h1.2M392.8 446.6h1.2M401.2 369.6h1.2M405.3 364.9h1.2M401.3 390.7h1.2M393.6 425.3h1.2M396.5 439.2h1.2M398.1 367.9h1.2M392.5 475.4h1.2M392.0 399.9h1.2M403.3 387.2h1.2M392.9 451.2h1.2M414.6 337.2h1.2M408.7 390.9h1.2M390.2 438.2h1.2M406.2 348.4h1.2M393.5 425.5h1.2M396.7 390.3h1.2M409.9 337.6h1.2M392.4 471.4h1.2M407.2 342.2h1.2M393.2 434.7h1.2M394.1 440.9h1.2M396.3 380.1h1.2M393.1 414.4h1.2M429.3 361.5h1.2M403.2 372.9h1.2M415.1 331.3h1.2M392.6 408.2h1.2M393.0 476.7h1.2M393.5 475.6h1.2M402.7 410.4h1.2M417.2 356.2h1.2M395.4 407.6h1.2M393.4 466.6h1.2M411.9 336.1h1.2M391.0 451.8h1.2M404.8 350.5h1.2M398.1 372.4h1.2M404.4 375.6h1.2M406.4 368.3h1.2M404.1 402.2h1.2M393.7 454.7h1.2M392.7 422.7h1.2M406.0 336.7h1.2M415.8 363.4h1.2M413.2 358.6h1.2M394.3 440.6h1.2M395.7 407.5h1.2M396.0 444.3h1.2M394.7 441.5h1.2M414.2 340.0h1.2M396.4 398.8h1.2M404.8 377.5h1.2M390.5 452.2h1.2M391.2 443.3h1.2M401.4 388.6h1.2M402.0 376.9h1.2M407.3 363.4h1.2M406.7 346.1h1.2M393.2 421.1h1.2M402.1 338.1h1.2M394.9 430.0h1.2M394.8 413.6h1.2M403.9 350.1h1.2M393.4 440.8h1.2M392.7 450.9h1.2M391.0 452.9h1.2M399.7 385.5h1.2M390.5 425.9h1.2M401.8 348.3h1.2M402.6 422.4h1.2M394.4 447.0h1.2M405.3 377.1h1.2M401.1 343.9h1.2M397.7 395.9h1.2M409.9 348.4h1.2M393.6 467.2h1.2M401.4 390.3h1.2M393.4 471.5h1.2M404.9 343.8h1.2M401.0 411.9h1.2M391.8 470.2h1.2M404.4 353.8h1.2M397.2 448.7h1.2M393.1 462.1h1.2M401.1 353.2h1.2M404.2 355.5h1.2M392.8 453.7h1.2M392.7 452.2h1.2M391.4 459.0h1.2M394.1 403.7h1.2M398.8 381.4h1.2M409.4 360.2h1.2M397.1 370.4h1.2M393.2 436.5h1.2M400.9 392.8h1.2M391.7 464.0h1.2M409.1 363.3h1.2M395.6 419.9h1.2M393.7 450.0h1.2M414.8 333.6h1.2M394.3 434.5h1.2M397.4 384.2h1.2M394.5 427.4h1.2M398.3 382.0h1.2M393.0 463.3h1.2M391.9 469.3h1.2M397.3 401.7h1.2M395.3 429.6h1.2M390.8 455.5h1.2M417.2 340.8h1.2M397.5 396.4h1.2M391.4 430.6h1.2M408.3 343.7h1.2M395.5 409.2h1.2M390.9 458.5h1.2M398.6 379.0h1.2M406.6 367.2h1.2M406.1 357.8h1.2M395.5 424.5h1.2M398.7 399.5h1.2M404.6 365.3h1.2M393.5 415.7h1.2M402.4 389.9h1.2M394.4 392.3h1.2M413.4 393.1h1.2M406.4 360.6h1.2M393.9 457.6h1.2M405.9 349.5h1.2M402.0 355.9h1.2M391.5 435.8h1.2M402.2 349.9h1.2M406.7 364.0h1.2M400.7 382.5h1.2M398.9 399.9h1.2M393.9 470.7h1.2M395.4 425.4h1.2M404.2 334.6h1.2M404.8 367.0h1.2M393.2 434.4h1.2M400.9 422.8h1.2M404.4 390.7h1.2M412.3 376.5h1.2M392.8 471.9h1.2M398.2 364.9h1.2M410.5 353.9h1.2M396.1 420.8h1.2M391.1 441.8h1.2M406.0 377.1h1.2M428.3 330.0h1.2M397.1 417.8h1.2M390.6 454.3h1.2M393.8 423.2h1.2M401.9 406.5h1.2M397.2 417.8h1.2M399.2 380.2h1.2M394.0 391.9h1.2M416.6 341.5h1.2M413.1 363.6h1.2M392.8 433.7h1.2M401.7 350.7h1.2M392.8 458.0h1.2M405.2 374.2h1.2M402.4 367.4h1.2M396.0 408.3h1.2M413.3 333.2h1.2M413.9 329.7h1.2M391.8 428.3h1.2M393.6 474.7h1.2M407.8 345.1h1.2M390.0 450.1h1.2M406.7 330.3h1.2M390.4 440.8h1.2M406.4 327.6h1.2M403.2 337.7h1.2M423.6 328.0h1.2M399.1 405.3h1.2M393.8 431.2h1.2M392.5 470.0h1.2M393.2 450.4h1.2M394.4 421.9h1.2M400.4 377.1h1.2M390.3 411.4h1.2M399.7 381.7h1.2M402.6 380.7h1.2M407.3 375.0h1.2M417.7 355.4h1.2M398.9 379.4h1.2M406.7 367.3h1.2M395.2 389.8h1.2M395.1 441.8h1.2M414.2 327.4h1.2M401.5 357.3h1.2M395.0 432.8h1.2M398.5 409.6h1.2M405.4 350.9h1.2M411.9 326.9h1.2M402.1 342.1h1.2M405.5 362.9h1.2M403.1 358.4h1.2M389.9 423.6h1.2M393.4 396.0h1.2M391.1 456.7h1.2M404.2 408.8h1.2M393.2 448.7h1.2M391.6 465.2h1.2M411.4 343.2h1.2M393.2 473.9h1.2M421.0 332.8h1.2M392.5 426.8h1.2M392.8 422.3h1.2M414.2 337.6h1.2M390.4 454.6h1.2M411.8 337.0h1.2M397.4 423.6h1.2M393.2 464.2h1.2M402.1 341.6h1.2M411.4 329.8h1.2M392.3 468.6h1.2M395.1 384.9h1.2M393.2 444.6h1.2M394.2 430.6h1.2M391.5 466.0h1.2M392.9 461.6h1.2M399.8 391.9h1.2M409.4 327.5h1.2M390.8 422.8h1.2M392.3 435.4h1.2M395.3 417.2h1.2M396.2 425.9h1.2M404.2 376.7h1.2M389.8 446.1h1.2M393.4 445.9h1.2M402.7 330.2h1.2M394.0 435.0h1.2M389.9 440.6h1.2M400.6 393.8h1.2M403.2 325.5h1.2M391.9 431.8h1.2M401.7 347.2h1.2M402.1 389.0h1.2M399.1 358.0h1.2M395.2 436.7h1.2M392.4 450.5h1.2M421.5 361.0h1.2M385.6 214.9h1.2M392.1 240.1h1.2M342.4 176.7h1.2M378.2 247.3h1.2M365.1 185.8h1.2M392.1 229.2h1.2M373.4 323.2h1.2M392.9 330.0h1.2M349.7 178.8h1.2M402.2 265.5h1.2M400.9 257.3h1.2M394.9 249.4h1.2M395.1 328.4h1.2M395.7 313.2h1.2M350.0 191.6h1.2M370.6 196.0h1.2M374.6 214.6h1.2M397.6 292.9h1.2M380.5 217.3h1.2M400.9 248.5h1.2M397.4 287.9h1.2M395.1 259.6h1.2M372.4 196.1h1.2M374.4 208.9h1.2M387.5 245.1h1.2M402.1 260.2h1.2M390.9 265.3h1.2M373.0 197.3h1.2M403.6 290.0h1.2M398.0 313.2h1.2M351.2 178.2h1.2M399.4 329.9h1.2M393.6 246.9h1.2M400.2 266.1h1.2M396.7 333.4h1.2M399.6 272.7h1.2M382.6 214.0h1.2M378.7 215.8h1.2M395.3 268.0h1.2M398.8 301.3h1.2M368.8 191.7h1.2M338.2 175.7h1.2M397.5 254.2h1.2M400.6 329.9h1.2M403.7 282.6h1.2M386.3 253.1h1.2M366.1 193.4h1.2M399.1 271.2h1.2M397.4 299.1h1.2M401.9 263.0h1.2M393.8 313.4h1.2M340.7 176.7h1.2M389.8 240.6h1.2M376.7 205.6h1.2M401.4 280.5h1.2M372.8 215.4h1.2M357.4 187.0h1.2M378.2 295.9h1.2M398.7 274.2h1.2M358.7 194.9h1.2M398.6 254.8h1.2M359.5 214.8h1.2M387.6 286.2h1.2M354.7 180.0h1.2M330.2 182.3h1.2M393.7 328.3h1.2M348.7 177.6h1.2M359.3 187.0h1.2M321.0 178.8h1.2M387.3 231.5h1.2M392.9 295.1h1.2M318.1 170.3h1.2M389.4 314.6h1.2M396.7 287.7h1.2M398.3 319.0h1.2M395.5 231.3h1.2M390.2 257.2h1.2M397.5 271.8h1.2M377.1 335.7h1.2M393.9 317.3h1.2M375.1 199.5h1.2M392.3 338.7h1.2M367.8 208.7h1.2M397.4 274.8h1.2M397.2 270.8h1.2M400.3 267.2h1.2M388.9 343.6h1.2M364.4 185.9h1.2M398.0 339.3h1.2M368.9 278.9h1.2M393.1 234.7h1.2M403.4 283.1h1.2M383.9 213.2h1.2M389.8 276.6h1.2M382.7 246.4h1.2M378.0 203.6h1.2M385.9 279.5h1.2M400.8 318.9h1.2M355.1 180.1h1.2M388.8 317.4h1.2M391.2 307.6h1.2M395.4 251.5h1.2M403.6 270.7h1.2M350.3 178.5h1.2M403.4 287.2h1.2M392.1 308.8h1.2M366.3 203.2h1.2M393.4 276.3h1.2M402.2 293.8h1.2M342.7 187.9h1.2M388.5 258.5h1.2M383.5 322.8h1.2M396.6 285.7h1.2M403.3 292.1h1.2M400.1 282.8h1.2M402.7 307.8h1.2M392.8 333.7h1.2M393.3 240.6h1.2M390.3 279.2h1.2M398.2 325.2h1.2M398.4 281.8h1.2M386.0 226.0h1.2M397.1 300.7h1.2M361.2 184.0h1.2M384.6 222.2h1.2M345.0 194.7h1.2M402.6 280.3h1.2M399.1 271.1h1.2M356.2 181.1h1.2M359.6 298.0h1.2M387.1 220.1h1.2M400.0 289.2h1.2M381.8 254.1h1.2M395.4 313.1h1.2M388.7 251.5h1.2M397.6 321.4h1.2M391.0 281.1h1.2M380.2 212.0h1.2M373.9 204.8h1.2M391.9 243.2h1.2M402.0 294.6h1.2M382.3 216.6h1.2M401.8 259.7h1.2M396.0 234.5h1.2M401.0 280.4h1.2M393.1 267.7h1.2M362.8 217.8h1.2M397.6 306.2h1.2M396.1 272.3h1.2M393.8 235.1h1.2M395.5 260.1h1.2M338.0 180.4h1.2M401.9 275.3h1.2M397.7 294.8h1.2M377.5 219.5h1.2M399.2 276.3h1.2M388.5 319.6h1.2M388.6 331.1h1.2M395.9 237.8h1.2M384.6 309.4h1.2M377.3 210.6h1.2M374.4 240.2h1.2M401.1 310.2h1.2M396.4 242.6h1.2M388.8 219.4h1.2M395.5 286.9h1.2M388.8 304.0h1.2M400.6 245.5h1.2M396.2 299.6h1.2M398.6 272.6h1.2M392.0 314.7h1.2M377.8 310.5h1.2M396.6 309.8h1.2M402.0 281.1h1.2M396.2 329.9h1.2M400.6 296.9h1.2M355.4 222.4h1.2M399.9 316.8h1.2M403.4 290.9h1.2M388.4 247.2h1.2M397.3 341.5h1.2M379.8 332.1h1.2M388.8 293.6h1.2M335.8 180.9h1.2M398.5 272.5h1.2M375.8 205.3h1.2M374.3 204.7h1.2M399.0 255.9h1.2M322.9 170.5h1.2M375.2 204.6h1.2M381.8 221.9h1.2M384.9 279.5h1.2M335.6 171.6h1.2M400.8 311.6h1.2M398.2 304.8h1.2M392.3 228.3h1.2M399.8 298.4h1.2M390.2 237.4h1.2M403.4 274.9h1.2M399.3 296.1h1.2M417.7 314.5h1.2M419.4 248.8h1.2M412.1 201.4h1.2M415.7 329.6h1.2M422.1 199.6h1.2M418.7 240.1h1.2M425.5 261.5h1.2M409.1 193.2h1.2M417.9 324.3h1.2M419.5 219.1h1.2M415.1 206.7h1.2M416.8 307.4h1.2M416.5 209.4h1.2M416.9 245.1h1.2M417.3 293.9h1.2M414.7 250.5h1.2M423.7 232.5h1.2M418.4 235.3h1.2M417.2 314.8h1.2M418.4 306.7h1.2M426.2 302.2h1.2M425.0 290.7h1.2M418.2 245.2h1.2M411.9 194.5h1.2M420.7 300.6h1.2M420.4 210.8h1.2M414.7 217.9h1.2M416.8 270.6h1.2M416.5 239.8h1.2M426.9 255.8h1.2M417.1 214.1h1.2M414.1 207.2h1.2M424.1 246.5h1.2M418.1 325.5h1.2M424.1 233.2h1.2M414.1 204.8h1.2M434.3 256.7h1.2M417.3 322.1h1.2M424.9 311.0h1.2M420.4 237.3h1.2M423.0 298.4h1.2M429.6 293.5h1.2M417.9 332.2h1.2M414.7 208.7h1.2M409.7 199.3h1.2M428.8 268.3h1.2M408.8 192.5h1.2M416.4 270.1h1.2M416.3 218.0h1.2M417.7 296.0h1.2M418.1 222.8h1.2M414.1 200.0h1.2M419.6 324.9h1.2M418.7 305.6h1.2M422.7 311.5h1.2M415.6 226.9h1.2M421.7 287.5h1.2M422.0 264.2h1.2M411.1 198.6h1.2M421.2 272.0h1.2M420.5 328.3h1.2M416.4 231.7h1.2M421.6 213.9h1.2M417.9 225.9h1.2M418.6 313.4h1.2M416.8 226.6h1.2M418.2 303.6h1.2M418.2 226.4h1.2M414.8 222.8h1.2M419.4 332.1h1.2M418.2 252.7h1.2M415.5 231.6h1.2M418.0 294.1h1.2M423.0 322.6h1.2M432.9 227.6h1.2M426.3 329.0h1.2M419.3 250.6h1.2M417.5 271.0h1.2M420.9 217.2h1.2M419.1 220.5h1.2M417.2 214.5h1.2M420.8 312.0h1.2M418.1 257.0h1.2M417.7 237.0h1.2M407.7 192.3h1.2M417.4 198.4h1.2M422.1 210.1h1.2M421.8 274.4h1.2M418.7 257.5h1.2M433.6 244.3h1.2M416.6 322.3h1.2M424.3 285.3h1.2M416.1 228.4h1.2M415.6 323.7h1.2M425.9 208.5h1.2M409.5 193.8h1.2M418.4 251.8h1.2M420.8 256.8h1.2M412.6 203.2h1.2M425.8 281.8h1.2M408.7 194.6h1.2M414.6 233.7h1.2M419.8 320.8h1.2M427.3 301.3h1.2M420.3 221.3h1.2M427.0 282.4h1.2M423.9 247.4h1.2M428.0 285.5h1.2M420.2 326.3h1.2M419.9 245.4h1.2M414.9 231.4h1.2M418.9 304.7h1.2M419.4 261.4h1.2M418.3 232.1h1.2M412.2 203.9h1.2M421.6 288.9h1.2M421.5 235.7h1.2M412.9 212.7h1.2M420.8 323.3h1.2M417.2 205.8h1.2M417.2 331.8h1.2M420.3 251.1h1.2M415.4 248.0h1.2M415.5 232.2h1.2M421.3 316.2h1.2M416.7 315.9h1.2M416.5 320.8h1.2M416.2 321.2h1.2M422.7 300.8h1.2M416.1 319.0h1.2M417.9 322.7h1.2M409.9 196.2h1.2M420.5 301.3h1.2M410.0 196.1h1.2M415.4 206.3h1.2M419.1 268.8h1.2M409.9 199.2h1.2M418.1 319.4h1.2M423.0 254.0h1.2M419.1 277.3h1.2M413.6 226.0h1.2M415.6 329.8h1.2M418.3 318.8h1.2M417.6 260.5h1.2M412.9 197.3h1.2M416.6 319.4h1.2M416.5 262.9h1.2M421.0 314.2h1.2M422.6 292.7h1.2M416.8 251.3h1.2M417.2 257.1h1.2M422.9 331.0h1.2M431.3 278.8h1.2M420.6 316.7h1.2M417.2 326.9h1.2M434.0 296.0h1.2M422.3 212.1h1.2M417.5 231.1h1.2M413.1 206.5h1.2M417.1 332.6h1.2M414.2 234.6h1.2M418.4 254.0h1.2M422.0 272.2h1.2M425.9 301.7h1.2M410.4 199.3h1.2M413.7 206.0h1.2M431.2 307.8h1.2M427.2 295.2h1.2M426.8 242.5h1.2M428.1 245.2h1.2M419.9 307.9h1.2M420.9 251.9h1.2M418.4 311.0h1.2M414.7 238.7h1.2M418.6 240.1h1.2M418.3 249.6h1.2M429.9 240.2h1.2M418.9 264.5h1.2M425.6 290.1h1.2M419.6 293.2h1.2M419.7 307.3h1.2M419.2 286.9h1.2M415.7 227.3h1.2M420.4 288.8h1.2M415.7 254.9h1.2M424.9 208.1h1.2M411.5 206.0h1.2M419.6 323.7h1.2M421.5 288.5h1.2M418.8 208.9h1.2M423.0 231.5h1.2M416.1 316.4h1.2M413.5 206.6h1.2M417.8 216.9h1.2M417.4 226.5h1.2M416.3 221.2h1.2M431.0 314.9h1.2M418.4 314.7h1.2M412.7 206.9h1.2M419.6 247.4h1.2M420.7 288.4h1.2M409.7 195.5h1.2M413.6 227.1h1.2M410.7 194.3h1.2M420.9 240.5h1.2M417.9 236.6h1.2M417.1 322.3h1.2M417.8 298.0h1.2M417.0 213.0h1.2M424.4 286.2h1.2M430.6 225.3h1.2M418.1 267.2h1.2M423.9 226.0h1.2M417.9 236.0h1.2M412.9 197.6h1.2M429.7 284.8h1.2M425.5 251.5h1.2M427.5 277.4h1.2M418.5 316.2h1.2M420.9 323.7h1.2M416.8 245.8h1.2M420.9 283.9h1.2M425.4 290.7h1.2M429.2 300.3h1.2M416.9 252.3h1.2M414.6 239.4h1.2M422.7 242.2h1.2M417.8 330.3h1.2M417.1 329.4h1.2M417.0 266.0h1.2M416.1 217.3h1.2M423.2 251.2h1.2M418.0 260.2h1.2M416.3 331.8h1.2M412.5 201.3h1.2M420.2 275.8h1.2M420.0 258.0h1.2M416.2 264.1h1.2M416.1 211.8h1.2M435.1 253.4h1.2M421.2 255.5h1.2M415.9 236.6h1.2M423.5 216.1h1.2M416.9 248.9h1.2M431.8 217.9h1.2M420.3 262.5h1.2M426.9 280.2h1.2M422.8 288.2h1.2M421.8 236.5h1.2M415.8 326.5h1.2M417.9 331.4h1.2M421.8 287.3h1.2M415.3 259.5h1.2M432.4 290.8h1.2M420.1 243.0h1.2M417.7 319.6h1.2M422.1 306.6h1.2M417.2 317.7h1.2M423.7 202.0h1.2M419.7 302.5h1.2M420.0 227.0h1.2M420.0 266.0h1.2M415.8 224.8h1.2M415.3 330.5h1.2M430.3 282.8h1.2M421.2 296.3h1.2M418.4 290.9h1.2M415.9 207.0h1.2M430.2 293.4h1.2M420.4 303.6h1.2M417.7 313.0h1.2M432.6 295.9h1.2M429.7 307.2h1.2M413.7 200.5h1.2M413.7 210.2h1.2M424.2 216.7h1.2M411.8 200.0h1.2M422.4 245.8h1.2M423.1 274.4h1.2M409.2 197.8h1.2M413.6 197.7h1.2M417.4 201.6h1.2M412.0 202.7h1.2M422.5 266.1h1.2M414.5 199.1h1.2M419.5 245.2h1.2M412.4 199.9h1.2M417.1 274.6h1.2M414.5 215.3h1.2M417.2 254.6h1.2M417.6 289.0h1.2M425.5 301.8h1.2M422.4 275.5h1.2M420.7 303.4h1.2M412.9 205.2h1.2M417.9 221.5h1.2M416.9 257.3h1.2M429.5 260.8h1.2M415.3 214.2h1.2M426.3 307.2h1.2M418.7 262.7h1.2M418.5 282.2h1.2M417.8 301.9h1.2M416.8 333.6h1.2M416.2 208.0h1.2M421.8 305.6h1.2M419.5 296.3h1.2M421.8 315.2h1.2M419.3 311.7h1.2M421.1 263.1h1.2M427.3 317.5h1.2M419.2 207.1h1.2M417.7 219.8h1.2M407.7 193.1h1.2M419.9 271.5h1.2M421.5 260.3h1.2M422.3 236.2h1.2M421.2 258.5h1.2M421.3 236.8h1.2M417.1 305.9h1.2M426.2 283.2h1.2M423.9 246.7h1.2M414.1 224.7h1.2M419.3 226.9h1.2M421.2 257.6h1.2M416.6 257.6h1.2M413.8 221.4h1.2M416.1 254.6h1.2M417.9 282.5h1.2M421.5 202.3h1.2M414.3 226.2h1.2M431.5 272.4h1.2M413.2 223.8h1.2M423.8 316.0h1.2M430.1 245.1h1.2M415.3 236.2h1.2M422.1 313.9h1.2M409.1 195.0h1.2M420.8 228.5h1.2M418.0 212.3h1.2M419.6 295.2h1.2M422.5 320.1h1.2M422.6 287.2h1.2M415.5 233.8h1.2M419.7 308.1h1.2M422.3 247.3h1.2M422.0 256.1h1.2M412.7 216.9h1.2M413.9 223.9h1.2M422.7 296.4h1.2M419.0 308.2h1.2M430.5 291.0h1.2M423.3 283.5h1.2M418.7 237.0h1.2M417.9 303.8h1.2M418.1 226.6h1.2M411.7 201.8h1.2M417.9 290.6h1.2M420.8 209.4h1.2M420.6 303.7h1.2M418.5 328.7h1.2M421.4 287.2h1.2M427.4 232.8h1.2M415.9 332.8h1.2M419.5 286.8h1.2M426.7 227.1h1.2M416.9 207.7h1.2M411.3 192.4h1.2M414.6 209.6h1.2M410.6 202.7h1.2M415.9 319.9h1.2M419.7 275.4h1.2M422.0 227.2h1.2M423.6 294.1h1.2M414.3 244.3h1.2M423.7 297.7h1.2M418.9 314.1h1.2M427.7 303.3h1.2M425.9 215.2h1.2M420.3 236.6h1.2M414.7 223.4h1.2M417.5 285.8h1.2M422.8 307.6h1.2M425.8 284.5h1.2M427.5 306.8h1.2M416.3 233.3h1.2M421.3 299.7h1.2M416.5 326.1h1.2M419.2 215.9h1.2M416.4 203.9h1.2M421.0 321.7h1.2M428.2 281.7h1.2M417.2 324.2h1.2M423.6 293.6h1.2M425.9 272.9h1.2M412.3 200.4h1.2M422.1 236.3h1.2M423.4 307.7h1.2M419.5 295.3h1.2M422.2 306.4h1.2M410.6 196.6h1.2M416.7 332.9h1.2M421.2 287.5h1.2M414.2 202.5h1.2M423.7 222.0h1.2M417.6 280.4h1.2M426.4 297.7h1.2M424.6 291.6h1.2M422.0 322.8h1.2M417.8 297.5h1.2M420.1 218.1h1.2M427.8 283.8h1.2M416.4 318.3h1.2M421.0 235.5h1.2M408.2 192.2h1.2M419.1 299.1h1.2M414.4 195.9h1.2M419.5 239.6h1.2M414.4 211.3h1.2M416.2 249.8h1.2M423.0 232.7h1.2M419.6 286.7h1.2M418.6 292.8h1.2M417.8 317.2h1.2M413.4 206.9h1.2M418.8 278.0h1.2M427.8 292.4h1.2M422.0 302.2h1.2M424.0 245.9h1.2M421.1 301.3h1.2M413.9 213.3h1.2M418.1 271.0h1.2M416.8 320.0h1.2M411.5 194.2h1.2M425.3 261.1h1.2M429.0 320.4h1.2M425.8 290.8h1.2M422.5 285.0h1.2M420.1 226.0h1.2M424.0 308.4h1.2M416.6 253.8h1.2M424.1 297.8h1.2M421.2 314.2h1.2M414.1 199.6h1.2M427.4 245.7h1.2M425.2 253.9h1.2M413.0 215.0h1.2M418.8 333.5h1.2M417.5 312.6h1.2M414.7 237.2h1.2M422.7 313.7h1.2M417.1 264.0h1.2M410.6 197.5h1.2M415.9 198.9h1.2M435.3 277.4h1.2M421.1 255.5h1.2M414.4 230.4h1.2M428.4 312.9h1.2M423.3 252.8h1.2M417.1 328.4h1.2M421.6 328.7h1.2M425.2 296.1h1.2M422.3 284.5h1.2M423.9 268.7h1.2M430.6 305.6h1.2M416.4 223.5h1.2M416.4 216.6h1.2M426.6 242.7h1.2M425.1 286.6h1.2M416.8 259.3h1.2M417.7 258.7h1.2M416.3 263.2h1.2M418.2 265.9h1.2M423.3 261.1h1.2M417.4 206.9h1.2M417.3 313.0h1.2M423.3 333.6h1.2M417.2 241.2h1.2M417.8 304.7h1.2M426.8 319.8h1.2M423.0 245.0h1.2M431.6 285.4h1.2M422.5 258.5h1.2M415.7 258.2h1.2M433.7 293.9h1.2M420.6 269.7h1.2M422.4 264.6h1.2M424.6 316.1h1.2M418.0 252.1h1.2M434.0 304.7h1.2M416.5 322.4h1.2M429.1 302.2h1.2M432.5 265.8h1.2M421.8 262.5h1.2M419.8 332.3h1.2M420.5 295.1h1.2M417.0 228.7h1.2M407.2 193.2h1.2M416.7 246.9h1.2M416.3 239.9h1.2M414.6 334.5h1.2M416.1 233.9h1.2M432.6 267.8h1.2M420.4 302.4h1.2M410.4 195.5h1.2M417.4 281.2h1.2M417.9 263.9h1.2M417.0 251.8h1.2M431.9 297.6h1.2M417.4 215.4h1.2M411.2 195.6h1.2M420.5 238.3h1.2M424.3 320.9h1.2M421.6 256.2h1.2M418.4 301.8h1.2M422.2 297.8h1.2M438.1 286.1h1.2M421.9 317.9h1.2M422.7 278.5h1.2M415.8 331.7h1.2M419.3 305.8h1.2M416.2 270.4h1.2M440.1 259.5h1.2M413.2 207.3h1.2M429.3 304.1h1.2M421.5 313.5h1.2M429.2 287.1h1.2M417.0 261.2h1.2M424.6 321.5h1.2M412.6 196.9h1.2M418.3 242.5h1.2M409.9 197.3h1.2M417.2 326.0h1.2M421.7 295.5h1.2M419.1 266.3h1.2M418.5 304.9h1.2M414.9 241.0h1.2M422.8 325.2h1.2M418.2 331.9h1.2M419.6 296.0h1.2M425.0 302.6h1.2M423.0 256.5h1.2M414.1 210.1h1.2M411.7 201.5h1.2M420.6 316.5h1.2M421.2 315.9h1.2M425.0 314.7h1.2M439.2 292.2h1.2M425.0 220.1h1.2M421.1 245.9h1.2M416.9 248.3h1.2M420.7 269.1h1.2M414.8 245.6h1.2M422.1 261.8h1.2M409.0 194.0h1.2M414.8 214.2h1.2M418.4 246.5h1.2M429.5 309.3h1.2M427.7 216.5h1.2M419.4 258.9h1.2M421.1 216.6h1.2M417.4 220.3h1.2M420.1 254.3h1.2M420.9 253.8h1.2M415.9 322.0h1.2M418.2 286.2h1.2M416.9 274.3h1.2M426.6 257.9h1.2M420.2 322.7h1.2M408.5 196.1h1.2M416.1 255.3h1.2M414.5 196.7h1.2M417.7 224.4h1.2M414.4 202.5h1.2M425.0 242.7h1.2M422.1 244.7h1.2M422.3 312.6h1.2M429.1 282.6h1.2M419.9 276.8h1.2M421.3 232.7h1.2M421.3 284.4h1.2M430.3 269.4h1.2M417.1 319.2h1.2M413.6 197.4h1.2M422.4 267.4h1.2M416.4 247.6h1.2M415.8 238.9h1.2M419.5 297.2h1.2M418.4 276.5h1.2M417.5 209.5h1.2M421.0 239.5h1.2M418.1 287.1h1.2M424.4 306.5h1.2M415.8 234.7h1.2M425.8 300.8h1.2M423.7 304.6h1.2M416.7 332.1h1.2M419.7 310.1h1.2M427.5 299.6h1.2M422.6 307.5h1.2M418.1 270.5h1.2M427.8 310.7h1.2M422.4 270.8h1.2M419.3 289.1h1.2M412.8 201.8h1.2M419.3 311.9h1.2M420.4 326.5h1.2M415.0 248.3h1.2M416.4 264.2h1.2M416.9 242.9h1.2M424.5 310.3h1.2M412.6 203.9h1.2M419.7 304.3h1.2M418.3 218.5h1.2M419.0 241.2h1.2M420.3 258.9h1.2M413.3 198.4h1.2M409.7 195.5h1.2M428.3 333.5h1.2M424.1 323.3h1.2M424.3 330.2h1.2M421.7 253.8h1.2M424.2 297.1h1.2M417.4 252.5h1.2M417.7 282.7h1.2M419.0 247.0h1.2M420.6 236.0h1.2M423.8 261.2h1.2M423.4 230.8h1.2M419.8 213.2h1.2M417.4 307.0h1.2M420.1 309.0h1.2M419.8 298.9h1.2M420.6 290.0h1.2M429.7 276.6h1.2M419.0 280.8h1.2M418.2 332.2h1.2M419.2 290.5h1.2M424.2 308.1h1.2M418.5 207.0h1.2M415.4 229.0h1.2M426.5 225.7h1.2M424.9 294.7h1.2M420.4 297.4h1.2M419.2 228.6h1.2M417.0 220.5h1.2M416.4 195.7h1.2M410.7 201.3h1.2M422.3 258.9h1.2M419.1 281.3h1.2M419.5 270.5h1.2M426.1 252.5h1.2M417.3 224.2h1.2M416.5 222.3h1.2M412.5 198.5h1.2M416.1 233.9h1.2M423.6 249.7h1.2M418.5 324.5h1.2M421.1 203.0h1.2M416.9 277.9h1.2M416.9 278.8h1.2M419.2 214.0h1.2M428.6 249.7h1.2M421.1 324.0h1.2M414.0 206.0h1.2M420.3 257.5h1.2M434.1 241.2h1.2M426.3 298.8h1.2M415.4 201.9h1.2M427.4 293.2h1.2M424.7 263.3h1.2M425.6 278.7h1.2M417.1 242.1h1.2M417.7 219.6h1.2M410.1 198.7h1.2M421.9 205.9h1.2M423.1 327.4h1.2M418.5 287.9h1.2M419.8 314.4h1.2M431.8 253.7h1.2M407.2 192.2h1.2M422.7 245.8h1.2M428.4 291.2h1.2M422.8 328.3h1.2M407.3 192.2h1.2M419.0 265.9h1.2M428.1 258.0h1.2M419.6 291.8h1.2M417.2 261.5h1.2M418.2 308.7h1.2M424.4 314.9h1.2M413.1 217.7h1.2M424.1 257.1h1.2M421.3 230.6h1.2M417.2 303.5h1.2M423.8 265.1h1.2M420.8 310.6h1.2M415.3 245.5h1.2M419.6 250.7h1.2M408.0 194.0h1.2M414.5 225.9h1.2M449.8 275.5h1.2M426.7 305.2h1.2M423.4 228.6h1.2M418.7 325.3h1.2M413.0 194.6h1.2M417.3 309.3h1.2M418.5 234.0h1.2M420.1 206.5h1.2M423.3 298.6h1.2M409.1 196.3h1.2M423.7 321.5h1.2M416.1 321.1h1.2M419.6 261.7h1.2M416.9 274.2h1.2M423.8 324.9h1.2M414.4 211.4h1.2M423.4 293.1h1.2M421.4 248.4h1.2M415.9 213.0h1.2M416.8 201.9h1.2M414.6 218.7h1.2M423.4 293.8h1.2M417.2 218.5h1.2M425.7 311.5h1.2M418.3 206.0h1.2M419.0 286.3h1.2M421.2 271.3h1.2M422.5 239.6h1.2M416.0 333.0h1.2M421.7 307.8h1.2M419.2 318.7h1.2M419.3 297.1h1.2M422.4 251.3h1.2M415.8 264.8h1.2M417.6 262.8h1.2M412.4 200.4h1.2M419.8 233.2h1.2M426.7 240.7h1.2M418.5 292.0h1.2M414.6 244.1h1.2M415.7 224.9h1.2M413.5 204.0h1.2M413.0 197.8h1.2M417.9 324.5h1.2M429.1 299.0h1.2M427.6 304.1h1.2M424.7 302.4h1.2M416.2 237.0h1.2M419.0 266.5h1.2M429.5 302.4h1.2M418.7 246.9h1.2M419.5 232.8h1.2M421.5 261.3h1.2M425.9 315.0h1.2M419.2 255.1h1.2M412.0 204.0h1.2M421.2 286.8h1.2M416.4 319.7h1.2M423.9 327.3h1.2M413.5 195.8h1.2M420.2 244.8h1.2M428.9 231.3h1.2M413.7 202.4h1.2M417.2 324.3h1.2M426.4 284.5h1.2M426.1 277.4h1.2M415.5 334.4h1.2M421.4 286.8h1.2M418.7 288.5h1.2M419.1 324.2h1.2M414.2 241.9h1.2M418.0 264.3h1.2M425.6 271.5h1.2M411.9 207.0h1.2M423.1 235.2h1.2M419.0 267.3h1.2M418.0 314.7h1.2M419.6 213.1h1.2M421.7 311.9h1.2M420.7 216.7h1.2M415.3 329.1h1.2M428.5 256.5h1.2M428.8 279.5h1.2M425.5 310.7h1.2M422.8 305.7h1.2M420.8 285.2h1.2M424.1 331.8h1.2M423.5 293.8h1.2M420.7 309.3h1.2M415.8 205.0h1.2M421.6 291.3h1.2M414.8 217.3h1.2M410.6 201.1h1.2M428.8 280.1h1.2M421.4 326.3h1.2M422.6 326.8h1.2M421.0 334.6h1.2M416.6 215.5h1.2M418.8 226.8h1.2M416.3 223.1h1.2M429.7 260.9h1.2M416.7 212.9h1.2M415.8 251.2h1.2M423.9 236.4h1.2M427.9 234.5h1.2M423.8 227.8h1.2M417.7 254.3h1.2M420.7 332.6h1.2M414.6 203.8h1.2M424.0 274.5h1.2M421.4 276.1h1.2M416.5 223.2h1.2M417.9 332.5h1.2M415.7 208.0h1.2M425.5 299.5h1.2M424.5 244.0h1.2M426.1 328.7h1.2M423.4 325.1h1.2M418.4 218.3h1.2M416.9 333.0h1.2M415.5 253.1h1.2M419.6 312.6h1.2M421.4 202.2h1.2M417.1 244.9h1.2M421.4 270.5h1.2M408.4 192.1h1.2M429.4 244.0h1.2M421.5 294.6h1.2M412.2 212.3h1.2M430.8 290.9h1.2M415.9 211.5h1.2M421.5 301.2h1.2M419.3 255.9h1.2M414.6 231.4h1.2M417.2 320.1h1.2M437.0 269.7h1.2M412.8 193.1h1.2M415.4 324.2h1.2M425.0 288.3h1.2M416.8 321.8h1.2M423.3 327.2h1.2M422.2 306.7h1.2M414.1 195.6h1.2M417.7 212.5h1.2M417.1 229.9h1.2M421.9 282.5h1.2M415.0 230.2h1.2M430.5 267.2h1.2M415.8 196.2h1.2M420.7 290.5h1.2M423.9 321.3h1.2M421.8 287.3h1.2M415.3 194.6h1.2M420.0 323.4h1.2M414.4 227.5h1.2M425.7 260.0h1.2M423.7 231.0h1.2M412.1 197.3h1.2M417.9 201.1h1.2M417.2 328.6h1.2M415.7 202.0h1.2M420.1 321.4h1.2M420.8 300.9h1.2M422.4 315.1h1.2M417.7 253.1h1.2M413.6 195.1h1.2M411.3 202.6h1.2M418.2 279.3h1.2M416.0 332.4h1.2M421.7 278.2h1.2M427.2 311.1h1.2M419.8 311.8h1.2M415.9 320.6h1.2M423.5 281.3h1.2M428.4 287.7h1.2M421.7 251.7h1.2M416.7 219.4h1.2M419.3 320.0h1.2M421.1 304.8h1.2M416.2 271.6h1.2M421.0 332.3h1.2M415.4 210.4h1.2M417.0 273.1h1.2M415.8 259.5h1.2M420.8 282.8h1.2M410.4 195.7h1.2M418.0 229.3h1.2M427.6 264.5h1.2M423.5 284.2h1.2M420.4 328.9h1.2M422.5 292.3h1.2M426.9 308.0h1.2M418.0 277.9h1.2M417.7 329.0h1.2M414.1 230.6h1.2M419.6 309.6h1.2M419.5 326.5h1.2M420.6 252.3h1.2M415.9 318.0h1.2M417.1 324.6h1.2M418.2 298.7h1.2M416.0 245.6h1.2M416.9 244.2h1.2M421.1 296.7h1.2M421.7 308.7h1.2M419.4 313.7h1.2M414.0 214.9h1.2M411.1 196.0h1.2M428.4 283.8h1.2M422.6 291.4h1.2M418.2 245.4h1.2M419.1 303.8h1.2M417.7 294.2h1.2M419.5 201.6h1.2M421.5 262.2h1.2M417.2 234.4h1.2M419.5 323.8h1.2M422.4 292.3h1.2M417.8 303.3h1.2M416.3 271.5h1.2M415.2 203.5h1.2M415.6 242.6h1.2M432.8 267.8h1.2M421.2 241.7h1.2M424.6 269.5h1.2M414.7 215.5h1.2M412.5 200.5h1.2M422.5 330.1h1.2M420.0 205.1h1.2M423.4 305.3h1.2M418.2 327.5h1.2M414.0 238.0h1.2M409.9 195.9h1.2M428.5 308.7h1.2M416.9 248.8h1.2M418.1 263.1h1.2M427.5 282.8h1.2M419.0 240.4h1.2M414.3 239.7h1.2M429.3 254.0h1.2M429.3 283.5h1.2M421.9 254.8h1.2M416.0 334.1h1.2M417.9 332.9h1.2M425.6 296.2h1.2M426.9 296.3h1.2M412.3 213.7h1.2M429.3 284.5h1.2M424.7 294.5h1.2M420.8 255.6h1.2M421.5 313.4h1.2M420.7 325.9h1.2M420.2 240.1h1.2M414.2 241.1h1.2M414.0 213.2h1.2M413.4 200.8h1.2M416.5 261.2h1.2M415.9 256.3h1.2M424.6 333.0h1.2M419.2 295.3h1.2M421.6 201.4h1.2M420.8 256.8h1.2M424.9 272.4h1.2M414.4 194.5h1.2M421.8 296.8h1.2M411.8 200.2h1.2M417.1 213.8h1.2M417.6 258.4h1.2M408.2 194.9h1.2M422.9 242.9h1.2M417.3 247.8h1.2M417.5 288.8h1.2M414.7 238.7h1.2M418.9 244.1h1.2M409.6 199.5h1.2M419.4 318.3h1.2M416.9 232.3h1.2M412.5 197.5h1.2M422.9 204.7h1.2M421.0 260.6h1.2M416.9 327.2h1.2M420.7 212.4h1.2M418.6 217.7h1.2M419.3 249.6h1.2M419.4 332.9h1.2M414.9 334.7h1.2M418.5 304.6h1.2M424.2 257.4h1.2M420.2 334.4h1.2M418.4 235.2h1.2M426.7 299.9h1.2M422.5 299.9h1.2M417.2 265.3h1.2M423.4 332.7h1.2M420.5 207.2h1.2M418.0 216.1h1.2M425.8 265.6h1.2M415.7 259.5h1.2M417.4 331.0h1.2M417.2 334.8h1.2M425.7 301.6h1.2M419.6 313.0h1.2M419.7 241.2h1.2M408.9 192.2h1.2M421.5 307.4h1.2M417.1 204.6h1.2M422.4 226.1h1.2M417.6 287.5h1.2M422.9 312.0h1.2M419.5 211.7h1.2M419.6 229.9h1.2M427.4 318.2h1.2M417.4 329.6h1.2M418.9 303.5h1.2M418.6 296.9h1.2M415.3 212.8h1.2M424.5 296.0h1.2M419.8 276.1h1.2M420.5 273.7h1.2M423.5 287.9h1.2M416.7 213.4h1.2M419.1 259.4h1.2M417.5 252.2h1.2M408.9 193.0h1.2M414.6 232.8h1.2M413.0 222.7h1.2M423.0 246.9h1.2M418.5 235.2h1.2M431.1 250.6h1.2M411.9 207.0h1.2M420.3 310.9h1.2M417.3 306.1h1.2M418.9 284.6h1.2M420.7 254.6h1.2M418.5 220.7h1.2M410.5 203.0h1.2M407.3 193.2h1.2M418.3 268.4h1.2M427.9 259.2h1.2M420.7 250.3h1.2M414.9 242.7h1.2M417.9 271.8h1.2M418.7 232.0h1.2M416.6 224.0h1.2M414.6 214.9h1.2M429.4 260.8h1.2M407.7 193.9h1.2M422.3 285.1h1.2M417.8 252.6h1.2M422.5 296.9h1.2M426.9 312.8h1.2M410.7 196.1h1.2M417.9 260.0h1.2M416.5 252.4h1.2M425.9 273.3h1.2M419.6 281.9h1.2M408.8 196.6h1.2M429.1 263.9h1.2M420.5 282.8h1.2M420.4 245.0h1.2M409.2 196.2h1.2M418.6 310.2h1.2M422.4 238.7h1.2M418.7 216.2h1.2M408.8 193.9h1.2M425.0 290.3h1.2M427.6 222.6h1.2M413.6 222.5h1.2M430.8 278.0h1.2M415.9 317.8h1.2M429.5 263.3h1.2M421.4 274.6h1.2M424.3 264.1h1.2M420.3 243.3h1.2M419.6 333.6h1.2M412.7 218.3h1.2M419.3 242.4h1.2M413.3 223.4h1.2M418.4 311.7h1.2M419.0 283.0h1.2M426.3 222.3h1.2M425.2 309.5h1.2M420.5 266.6h1.2M420.1 215.7h1.2M421.4 266.2h1.2M421.6 301.6h1.2M425.4 245.9h1.2M418.2 288.3h1.2M419.5 312.7h1.2M419.3 323.6h1.2M418.5 295.5h1.2M423.9 227.3h1.2M427.5 240.0h1.2M413.4 218.2h1.2M418.4 303.3h1.2M424.9 280.7h1.2M419.1 334.0h1.2M416.1 324.1h1.2M417.6 284.5h1.2M417.3 227.5h1.2M425.4 317.1h1.2M419.9 303.1h1.2M425.5 274.6h1.2M409.2 192.5h1.2M421.1 295.2h1.2M415.6 249.2h1.2M416.6 323.3h1.2M420.1 309.8h1.2M423.8 296.5h1.2M410.4 196.9h1.2M420.0 264.0h1.2M418.9 287.2h1.2M419.3 263.6h1.2M412.8 214.7h1.2M423.3 318.4h1.2M427.9 265.2h1.2M407.6 193.8h1.2M433.9 235.2h1.2M422.8 275.9h1.2M417.1 306.4h1.2M424.2 285.5h1.2M419.2 230.1h1.2M418.8 224.6h1.2M418.1 329.5h1.2M419.8 258.0h1.2M420.6 225.9h1.2M418.1 234.5h1.2M412.1 205.5h1.2M417.3 215.7h1.2M416.9 316.4h1.2M417.4 207.5h1.2M412.4 192.7h1.2M419.9 265.6h1.2M419.4 307.2h1.2M418.4 304.6h1.2M415.8 200.6h1.2M409.7 197.4h1.2M417.8 297.8h1.2M410.7 202.5h1.2M430.3 273.0h1.2M430.1 264.2h1.2M422.6 234.4h1.2M428.7 291.9h1.2M423.4 227.7h1.2M422.9 285.6h1.2M427.2 284.5h1.2M428.7 249.3h1.2M419.0 304.5h1.2M419.4 276.2h1.2M418.2 320.9h1.2M420.2 244.1h1.2M414.6 239.3h1.2M420.7 242.6h1.2M414.9 236.3h1.2M414.3 239.2h1.2M418.6 320.4h1.2M424.2 270.9h1.2M422.4 256.6h1.2M416.6 223.0h1.2M422.9 326.9h1.2M428.6 252.4h1.2M421.7 310.4h1.2M415.0 333.2h1.2M426.1 270.0h1.2M415.8 325.7h1.2M409.9 193.4h1.2M417.0 217.7h1.2M417.2 234.5h1.2M427.4 291.5h1.2M421.9 298.4h1.2M425.2 304.9h1.2M419.3 312.0h1.2M419.8 309.1h1.2M419.1 225.5h1.2M417.5 260.1h1.2M416.7 239.5h1.2M418.9 262.1h1.2M415.9 229.7h1.2M426.5 305.3h1.2M417.3 258.9h1.2M421.6 302.3h1.2M411.5 206.3h1.2M420.4 275.2h1.2M412.8 206.5h1.2M413.1 214.1h1.2M419.4 219.6h1.2M418.2 303.2h1.2M419.6 289.0h1.2M423.4 284.0h1.2M415.2 216.9h1.2M412.9 208.4h1.2M420.0 243.9h1.2M417.3 198.5h1.2M421.0 310.5h1.2M416.4 312.8h1.2M414.7 226.6h1.2M412.0 194.7h1.2M424.7 267.9h1.2M418.6 322.9h1.2M419.0 254.2h1.2M418.3 213.8h1.2M415.9 232.3h1.2M418.7 281.5h1.2M417.2 332.2h1.2M424.2 323.7h1.2M417.0 222.2h1.2M429.0 301.6h1.2M421.9 286.3h1.2M417.8 218.4h1.2M431.6 317.0h1.2M421.9 238.7h1.2M421.1 279.9h1.2M421.9 307.3h1.2M417.8 284.9h1.2M418.0 294.3h1.2M417.2 219.8h1.2M418.7 220.4h1.2M425.7 287.6h1.2M416.8 267.8h1.2M417.4 210.5h1.2M416.7 213.7h1.2M421.2 279.8h1.2M418.3 202.6h1.2M415.5 329.6h1.2M421.3 317.5h1.2M421.9 259.1h1.2M417.3 295.8h1.2M418.0 283.6h1.2M426.4 309.0h1.2M419.2 312.7h1.2M418.3 279.1h1.2M413.6 212.9h1.2M418.3 275.8h1.2M418.2 197.3h1.2M417.7 298.9h1.2M418.0 330.9h1.2M420.7 281.2h1.2M423.4 221.6h1.2M419.7 215.5h1.2M417.3 221.5h1.2M414.0 195.0h1.2M425.6 251.0h1.2M418.2 311.9h1.2M415.4 201.0h1.2M423.4 318.6h1.2M416.4 227.1h1.2M419.2 250.3h1.2M418.4 246.1h1.2M422.3 311.1h1.2M428.8 297.6h1.2M425.0 225.0h1.2M423.4 266.1h1.2M417.3 277.2h1.2M417.6 313.7h1.2M418.7 289.6h1.2M424.5 249.8h1.2M415.8 236.8h1.2M426.6 248.3h1.2M430.1 296.9h1.2M423.8 216.2h1.2M415.7 258.3h1.2M416.2 223.4h1.2M420.7 308.2h1.2M422.1 239.9h1.2M417.2 259.7h1.2M426.7 325.1h1.2M420.4 247.5h1.2M418.3 253.8h1.2M418.6 321.8h1.2M421.1 285.3h1.2M419.2 326.0h1.2M429.2 282.5h1.2M421.2 280.7h1.2M427.7 274.8h1.2M410.0 200.1h1.2M422.7 308.5h1.2M415.9 232.9h1.2M416.0 319.7h1.2M431.5 296.0h1.2M436.6 281.6h1.2M418.6 283.8h1.2M418.3 317.8h1.2M412.1 195.5h1.2M419.6 220.0h1.2M415.6 226.8h1.2M419.2 317.6h1.2M421.7 243.3h1.2M418.9 290.0h1.2M420.3 313.5h1.2M421.1 218.7h1.2M425.2 264.8h1.2M421.8 208.0h1.2M416.4 333.5h1.2M432.9 291.6h1.2M418.2 250.9h1.2M420.7 264.7h1.2M426.8 305.3h1.2M417.7 312.2h1.2M417.7 290.6h1.2M422.7 215.2h1.2M414.1 236.7h1.2M419.3 311.7h1.2M418.9 255.8h1.2M419.1 207.3h1.2M422.6 309.3h1.2M421.5 309.5h1.2M422.6 255.2h1.2M423.7 325.8h1.2M414.3 229.7h1.2M420.3 245.5h1.2M415.1 328.1h1.2M425.6 285.5h1.2M424.4 220.8h1.2M420.3 294.5h1.2M415.5 325.1h1.2M417.6 297.3h1.2M427.6 275.4h1.2M428.5 224.2h1.2M413.9 224.1h1.2M429.9 284.0h1.2M425.4 287.1h1.2M416.2 228.9h1.2M421.7 261.9h1.2M407.7 194.0h1.2M425.9 272.3h1.2M420.1 324.6h1.2M409.1 195.0h1.2M423.6 295.2h1.2M418.5 273.2h1.2M416.7 209.0h1.2M419.1 270.8h1.2M416.0 260.9h1.2M424.7 281.2h1.2M421.9 241.0h1.2M418.4 286.4h1.2M429.9 295.5h1.2M413.9 209.3h1.2M421.5 329.5h1.2M417.2 312.5h1.2M409.8 195.2h1.2M424.4 274.4h1.2M423.3 298.3h1.2M421.0 284.1h1.2M418.6 236.2h1.2M427.4 248.8h1.2M416.7 310.5h1.2M422.2 301.7h1.2M420.7 269.4h1.2M422.5 227.7h1.2M411.8 194.6h1.2M414.0 218.0h1.2M421.5 322.6h1.2M413.7 210.5h1.2M414.9 222.9h1.2M417.5 248.0h1.2M421.8 236.1h1.2M420.2 280.9h1.2M421.6 275.9h1.2M424.5 280.0h1.2M421.8 312.2h1.2M413.0 200.9h1.2M429.3 298.1h1.2M414.3 226.7h1.2M415.2 211.6h1.2M416.2 250.0h1.2M424.6 315.9h1.2M411.6 199.6h1.2M420.8 238.8h1.2M420.0 264.9h1.2M417.7 271.1h1.2M417.5 331.5h1.2M427.8 302.6h1.2M410.4 201.2h1.2M413.9 216.2h1.2M424.2 317.7h1.2M412.7 194.5h1.2M415.8 225.0h1.2M421.1 263.2h1.2M419.9 313.1h1.2M418.6 323.3h1.2M425.2 274.0h1.2M418.2 315.3h1.2M414.3 216.8h1.2M416.5 243.8h1.2M420.4 291.1h1.2M418.4 300.1h1.2M412.6 200.1h1.2M411.9 198.5h1.2M423.5 302.6h1.2M416.3 217.9h1.2M418.7 317.3h1.2M413.2 206.5h1.2M415.0 213.8h1.2M409.0 193.4h1.2M421.4 276.6h1.2M417.2 217.0h1.2M420.6 295.1h1.2M421.6 291.7h1.2M416.7 213.8h1.2M418.4 323.9h1.2M417.8 331.0h1.2M426.7 334.2h1.2M420.1 262.2h1.2M419.6 306.1h1.2M422.4 276.4h1.2M416.9 326.7h1.2M406.8 192.4h1.2M420.3 301.6h1.2M423.2 317.3h1.2M417.5 228.1h1.2M415.6 213.6h1.2M423.4 216.0h1.2M417.1 280.4h1.2M428.9 291.9h1.2M417.2 312.7h1.2M414.8 222.2h1.2M418.0 305.2h1.2M429.8 280.9h1.2M416.9 285.0h1.2M425.2 274.0h1.2M422.1 315.4h1.2M417.9 304.4h1.2M418.6 308.6h1.2M418.1 254.3h1.2M430.7 245.5h1.2M421.6 326.4h1.2M423.1 301.1h1.2M417.8 230.3h1.2M419.6 217.6h1.2M420.5 326.2h1.2M416.8 280.5h1.2M410.7 195.7h1.2M416.3 228.7h1.2M426.9 225.4h1.2M411.8 206.8h1.2M432.3 275.0h1.2M413.4 211.2h1.2M414.3 238.3h1.2M429.7 259.2h1.2M416.2 214.1h1.2M409.7 199.3h1.2M415.2 234.7h1.2M431.0 289.5h1.2M418.2 290.4h1.2M420.4 287.8h1.2M409.3 194.6h1.2M422.0 290.4h1.2M421.9 252.1h1.2M421.8 326.2h1.2M422.4 309.6h1.2M413.6 203.3h1.2M414.7 334.3h1.2M416.5 322.5h1.2M411.9 197.3h1.2M414.1 219.0h1.2M425.4 249.7h1.2M424.1 296.7h1.2M414.8 331.4h1.2M415.7 228.8h1.2M418.5 216.2h1.2M419.4 204.7h1.2M421.7 311.5h1.2M426.8 268.8h1.2M420.6 258.3h1.2M409.5 198.4h1.2M417.5 320.4h1.2M424.0 271.6h1.2M415.1 232.2h1.2M420.7 310.9h1.2M414.0 206.4h1.2M410.5 194.4h1.2M420.0 290.8h1.2M423.0 330.9h1.2M422.5 308.7h1.2M423.4 254.2h1.2M430.2 281.0h1.2M417.8 313.9h1.2M422.4 259.7h1.2M417.1 311.3h1.2M417.6 234.9h1.2M414.5 225.3h1.2M426.5 318.6h1.2M425.1 293.5h1.2M428.0 291.3h1.2M410.0 200.0h1.2M422.2 234.5h1.2M419.6 314.9h1.2M414.7 209.4h1.2M414.8 217.3h1.2M419.2 331.4h1.2M422.0 325.0h1.2M420.0 276.6h1.2M417.8 254.9h1.2M419.9 273.5h1.2M421.8 286.2h1.2M413.0 209.9h1.2M413.0 203.9h1.2M421.6 256.1h1.2M426.0 269.6h1.2M270.7 191.6h1.2M202.4 163.0h1.2M189.4 158.0h1.2M185.4 155.0h1.2M142.4 141.0h1.2M125.4 146.0h1.2M111.4 145.0h1.2M104.4 144.5h1.2M356.4 262.0h1.2M364.4 296.0h1.2M371.4 305.0h1.2M351.4 300.0h1.2M369.4 330.0h1.2M379.4 350.0h1.2M361.4 282.0h1.2" stroke="#ff8080" stroke-width="1.2" fill="none"/></g>
<g><circle cx="151.6" cy="133.5" r="4.75" fill="#f8f800" stroke="#000" stroke-width="1.55"/><path d="M150.0 129.5v8M153.2 129.5v8" stroke="#000" stroke-width="1.8" fill="none"/><circle cx="176.7" cy="133.2" r="4.75" fill="#f8f800" stroke="#000" stroke-width="1.55"/><path d="M176.7 128.3V147.6M172.7 128.3h8M172.7 147.6h8" stroke="#000" stroke-width="1.45" fill="none"/><path d="M176.7 129.2v8" stroke="#000" stroke-width="1.7" fill="none"/><circle cx="202.1" cy="134.7" r="4.75" fill="#f8f800" stroke="#000" stroke-width="1.55"/><path d="M202.1 127.5V148.6M198.1 127.5h8M198.1 148.6h8" stroke="#000" stroke-width="1.45" fill="none"/><path d="M202.1 130.7v8" stroke="#000" stroke-width="1.7" fill="none"/><circle cx="227.7" cy="140.1" r="4.75" fill="#f8f800" stroke="#000" stroke-width="1.55"/><path d="M227.7 125.4V150.1M223.7 125.4h8M223.7 150.1h8" stroke="#000" stroke-width="1.45" fill="none"/><path d="M227.7 136.1v8" stroke="#000" stroke-width="1.7" fill="none"/><circle cx="253.0" cy="143.0" r="4.75" fill="#f8f800" stroke="#000" stroke-width="1.55"/><path d="M253.0 129.1V150.8M249.0 129.1h8M249.0 150.8h8" stroke="#000" stroke-width="1.45" fill="none"/><path d="M253.0 139.0v8" stroke="#000" stroke-width="1.7" fill="none"/><circle cx="278.1" cy="143.5" r="4.75" fill="#f8f800" stroke="#000" stroke-width="1.55"/><path d="M278.1 131.4V151.5M274.1 131.4h8M274.1 151.5h8" stroke="#000" stroke-width="1.45" fill="none"/><path d="M278.1 139.5v8" stroke="#000" stroke-width="1.7" fill="none"/><circle cx="303.6" cy="147.3" r="4.75" fill="#f8f800" stroke="#000" stroke-width="1.55"/><path d="M303.6 136.7V154.1M299.6 136.7h8M299.6 154.1h8" stroke="#000" stroke-width="1.45" fill="none"/><path d="M303.6 143.3v8" stroke="#000" stroke-width="1.7" fill="none"/><circle cx="329.0" cy="155.5" r="4.75" fill="#f8f800" stroke="#000" stroke-width="1.55"/><path d="M329.0 144.1V163.2M325.0 144.1h8M325.0 163.2h8" stroke="#000" stroke-width="1.45" fill="none"/><path d="M329.0 151.5v8" stroke="#000" stroke-width="1.7" fill="none"/><circle cx="354.7" cy="165.4" r="4.75" fill="#f8f800" stroke="#000" stroke-width="1.55"/><path d="M354.7 154.1V173.7M350.7 154.1h8M350.7 173.7h8" stroke="#000" stroke-width="1.45" fill="none"/><path d="M354.7 161.4v8" stroke="#000" stroke-width="1.7" fill="none"/><circle cx="379.6" cy="189.3" r="4.75" fill="#f8f800" stroke="#000" stroke-width="1.55"/><path d="M379.6 174.1V211.4M375.6 174.1h8M375.6 211.4h8" stroke="#000" stroke-width="1.45" fill="none"/><path d="M379.6 185.3v8" stroke="#000" stroke-width="1.7" fill="none"/><circle cx="405.2" cy="249.9" r="4.75" fill="#f8f800" stroke="#000" stroke-width="1.55"/><path d="M405.2 205.8V366.4M401.2 205.8h8M401.2 366.4h8" stroke="#000" stroke-width="1.45" fill="none"/><path d="M405.2 245.9v8" stroke="#000" stroke-width="1.7" fill="none"/><circle cx="430.5" cy="288.7" r="4.75" fill="#f8f800" stroke="#000" stroke-width="1.55"/><path d="M430.5 233.9V342.1M426.5 233.9h8M426.5 342.1h8" stroke="#000" stroke-width="1.45" fill="none"/><path d="M430.5 284.7v8" stroke="#000" stroke-width="1.7" fill="none"/></g>
<g clip-path="url(#c)" fill="none">
<path d="M160.0 95.9L160.9 95.9L161.9 96.0L162.9 96.1L163.9 96.2L164.8 96.3L165.8 96.3L166.8 96.4L167.8 96.5L168.7 96.6L169.7 96.7L170.7 96.8L171.7 96.8L172.6 96.9L173.6 97.0L174.6 97.1L175.6 97.2L176.6 97.3L177.5 97.4L178.5 97.4L179.5 97.5L180.5 97.6L181.4 97.7L182.4 97.8L183.4 97.9L184.4 98.0L185.3 98.1L186.3 98.2L187.3 98.3L188.3 98.3L189.2 98.4L190.2 98.5L191.2 98.6L192.2 98.7L193.1 98.8L194.1 98.9L195.1 99.0L196.1 99.1L197.0 99.2L198.0 99.3L199.0 99.4L200.0 99.5L200.9 99.6L201.9 99.7L202.9 99.8L203.9 99.9L204.8 100.0L205.8 100.1L206.8 100.2L207.8 100.3L208.7 100.4L209.7 100.5L210.7 100.6L211.7 100.7L212.6 100.8L213.6 100.9L214.6 101.0L215.6 101.1L216.5 101.2L217.5 101.3L218.5 101.5L219.5 101.6L220.4 101.7L221.4 101.8L222.4 101.9L223.4 102.0L224.3 102.1L225.3 102.2L226.3 102.3L227.3 102.5L228.2 102.6L229.2 102.7L230.2 102.8L231.2 102.9L232.1 103.0L233.1 103.1L234.1 103.3L235.1 103.4L236.0 103.5L237.0 103.6L238.0 103.7L239.0 103.9L239.9 104.0L240.9 104.1L241.9 104.2L242.9 104.4L243.8 104.5L244.8 104.6L245.8 104.7L246.8 104.9L247.7 105.0L248.7 105.1L249.7 105.3L250.7 105.4L251.6 105.5L252.6 105.6L253.6 105.8L254.6 105.9L255.5 106.0L256.5 106.2L257.5 106.3L258.5 106.5L259.4 106.6L260.4 106.7L261.4 106.9L262.4 107.0L263.3 107.2L264.3 107.3L265.3 107.4L266.3 107.6L267.2 107.7L268.2 107.9L269.2 108.0L270.2 108.2L271.1 108.3L272.1 108.5L273.1 108.6L274.1 108.8L275.0 108.9L276.0 109.1L277.0 109.2L278.0 109.4L278.9 109.5L279.9 109.7L280.9 109.9L281.9 110.0L282.8 110.2L283.8 110.3L284.8 110.5L285.8 110.7L286.7 110.8L287.7 111.0L288.7 111.2L289.7 111.3L290.7 111.5L291.6 111.7L292.6 111.8L293.6 112.0L294.6 112.2L295.5 112.4L296.5 112.5L297.5 112.7L298.5 112.9L299.4 113.1L300.4 113.3L301.4 113.4L302.4 113.6L303.3 113.8L304.3 114.0L305.3 114.2L306.3 114.4L307.2 114.6L308.2 114.8L309.2 114.9L310.2 115.1L311.1 115.3L312.1 115.5L313.1 115.7L314.1 115.9L315.0 116.1L316.0 116.3L317.0 116.5L318.0 116.8L318.9 117.0L319.9 117.2L320.9 117.4L321.9 117.6L322.8 117.8L323.8 118.0L324.8 118.2L325.8 118.5L326.7 118.7L327.7 118.9L328.7 119.1L329.7 119.4L330.6 119.6L331.6 119.8L332.6 120.1L333.6 120.3L334.5 120.5L335.5 120.8L336.5 121.0L337.5 121.2L338.4 121.5L339.4 121.7L340.4 122.0L341.4 122.2L342.3 122.5L343.3 122.7L344.3 123.0L345.3 123.2L346.2 123.5L347.2 123.8L348.2 124.0L349.2 124.3L350.1 124.6L351.1 124.8L352.1 125.1L353.1 125.4L354.0 125.7L355.0 126.0L356.0 126.2L357.0 126.5L357.9 126.8L358.9 127.1L359.9 127.4L360.9 127.7L361.8 128.0L362.8 128.3L363.8 128.6L364.8 128.9L365.7 129.2L366.7 129.5L367.7 129.8L368.7 130.2L369.6 130.5L370.6 130.8L371.6 131.1L372.6 131.5L373.5 131.8L374.5 132.1L375.5 132.5L376.5 132.8L377.4 133.2L378.4 133.5L379.4 133.9L380.4 134.2L381.3 134.6L382.3 135.0L383.3 135.3L384.3 135.7L385.2 136.1L386.2 136.5L387.2 136.8L388.2 137.2L389.1 137.6L390.1 138.0L391.1 138.4L392.1 138.8L393.0 139.2L394.0 139.6L395.0 140.1L396.0 140.5L396.9 140.9L397.9 141.3L398.9 141.8L399.9 142.2L400.8 142.7L401.8 143.1L402.8 143.6L403.8 144.0L404.8 144.5L405.7 145.0L406.7 145.4L407.7 145.9L408.7 146.4L409.6 146.9L410.6 147.4L411.6 147.9L412.6 148.4L413.5 148.9L414.5 149.4L415.5 150.0L416.5 150.5L417.4 151.0L418.4 151.6L419.4 152.1L420.4 152.7L421.3 153.3L422.3 153.8L423.3 154.4L424.3 155.0L425.2 155.6L426.2 156.2L427.2 156.8L428.2 157.5L429.1 158.1L430.1 158.7L431.1 159.4L432.1 160.0L433.0 160.7L434.0 161.4L435.0 162.0L436.0 162.7L436.9 163.4L437.9 164.2L438.9 164.9L439.9 165.6L440.8 166.3L441.8 167.1L442.8 167.9L443.8 168.6L444.7 169.4L445.7 170.2L446.7 171.0L447.7 171.8L448.6 172.7L449.6 173.5L450.6 174.4L451.6 175.3L452.5 176.1L453.5 177.0L454.5 178.0L455.5 178.9L456.4 179.8L457.4 180.8L458.4 181.8L459.4 182.7L460.3 183.8L461.3 184.8L462.3 185.8L463.3 186.9L464.2 188.0L465.2 189.0L466.2 190.2L467.2 191.3L468.1 192.4L469.1 193.6L470.1 194.8L471.1 196.0L472.0 197.3L473.0 198.5L474.0 199.8L475.0 201.1L475.9 202.5L476.9 203.8L477.9 205.2L478.9 206.6L479.8 208.1L480.8 209.6L481.8 211.1L482.8 212.6L483.7 214.2L484.7 215.8L485.7 217.4L486.7 219.1L487.6 220.8L488.6 222.5L489.6 224.3L490.6 226.1L491.5 228.0L492.5 229.9L493.5 231.8L494.5 233.8L495.4 235.9L496.4 237.9L497.4 240.1L498.4 242.3L499.3 244.5L500.3 246.8L501.3 249.2L502.3 251.6L503.2 254.1L504.2 256.6L505.2 259.3L506.2 262.0L507.1 264.7L508.1 267.6L509.1 270.5L510.1 273.5L511.0 276.6L512.0 279.8L513.0 283.1L514.0 286.5L514.9 289.9L515.9 293.5L516.9 297.3L517.9 301.1L518.9 305.0L519.8 309.1L520.8 313.4L521.8 317.8L522.8 322.3L523.7 327.0L524.7 331.9L525.7 336.9L526.7 342.2L527.6 347.6L528.6 353.3L529.6 359.2L530.6 365.3L531.5 371.7L532.5 378.4L533.5 385.4L534.5 392.6L535.4 400.3L536.4 408.2L537.4 416.6L538.4 425.4L539.3 434.6L540.3 444.3L541.3 454.5L542.3 465.2L543.2 476.6L544.2 488.7" stroke="#000" stroke-width="1.7" stroke-dasharray="0.1 4.6" stroke-linecap="round"/>
<path d="M160.0 87.6L160.8 87.7L161.6 87.8L162.4 87.9L163.2 88.0L164.0 88.1L164.8 88.2L165.6 88.3L166.4 88.4L167.2 88.5L168.0 88.6L168.8 88.7L169.6 88.8L170.4 88.9L171.2 89.0L172.1 89.1L172.9 89.2L173.7 89.3L174.5 89.4L175.3 89.5L176.1 89.6L176.9 89.7L177.7 89.8L178.5 89.9L179.3 90.0L180.1 90.1L180.9 90.2L181.7 90.4L182.5 90.5L183.3 90.6L184.1 90.7L184.9 90.8L185.8 90.9L186.6 91.0L187.4 91.1L188.2 91.2L189.0 91.4L189.8 91.5L190.6 91.6L191.4 91.7L192.2 91.8L193.0 91.9L193.8 92.1L194.6 92.2L195.4 92.3L196.2 92.4L197.0 92.5L197.8 92.7L198.6 92.8L199.4 92.9L200.3 93.0L201.1 93.1L201.9 93.3L202.7 93.4L203.5 93.5L204.3 93.6L205.1 93.8L205.9 93.9L206.7 94.0L207.5 94.2L208.3 94.3L209.1 94.4L209.9 94.6L210.7 94.7L211.5 94.8L212.3 94.9L213.1 95.1L213.9 95.2L214.8 95.4L215.6 95.5L216.4 95.6L217.2 95.8L218.0 95.9L218.8 96.0L219.6 96.2L220.4 96.3L221.2 96.5L222.0 96.6L222.8 96.7L223.6 96.9L224.4 97.0L225.2 97.2L226.0 97.3L226.8 97.5L227.6 97.6L228.4 97.8L229.3 97.9L230.1 98.1L230.9 98.2L231.7 98.4L232.5 98.5L233.3 98.7L234.1 98.8L234.9 99.0L235.7 99.2L236.5 99.3L237.3 99.5L238.1 99.6L238.9 99.8L239.7 100.0L240.5 100.1L241.3 100.3L242.1 100.4L242.9 100.6L243.8 100.8L244.6 100.9L245.4 101.1L246.2 101.3L247.0 101.5L247.8 101.6L248.6 101.8L249.4 102.0L250.2 102.2L251.0 102.3L251.8 102.5L252.6 102.7L253.4 102.9L254.2 103.0L255.0 103.2L255.8 103.4L256.6 103.6L257.5 103.8L258.3 104.0L259.1 104.2L259.9 104.3L260.7 104.5L261.5 104.7L262.3 104.9L263.1 105.1L263.9 105.3L264.7 105.5L265.5 105.7L266.3 105.9L267.1 106.1L267.9 106.3L268.7 106.5L269.5 106.7L270.3 106.9L271.1 107.1L272.0 107.3L272.8 107.5L273.6 107.8L274.4 108.0L275.2 108.2L276.0 108.4L276.8 108.6L277.6 108.8L278.4 109.1L279.2 109.3L280.0 109.5L280.8 109.7L281.6 110.0L282.4 110.2L283.2 110.4L284.0 110.7L284.8 110.9L285.6 111.1L286.5 111.4L287.3 111.6L288.1 111.8L288.9 112.1L289.7 112.3L290.5 112.6L291.3 112.8L292.1 113.1L292.9 113.3L293.7 113.6L294.5 113.8L295.3 114.1L296.1 114.4L296.9 114.6L297.7 114.9L298.5 115.1L299.3 115.4L300.1 115.7L301.0 116.0L301.8 116.2L302.6 116.5L303.4 116.8L304.2 117.1L305.0 117.4L305.8 117.6L306.6 117.9L307.4 118.2L308.2 118.5L309.0 118.8L309.8 119.1L310.6 119.4L311.4 119.7L312.2 120.0L313.0 120.3L313.8 120.6L314.6 120.9L315.5 121.2L316.3 121.6L317.1 121.9L317.9 122.2L318.7 122.5L319.5 122.9L320.3 123.2L321.1 123.5L321.9 123.9L322.7 124.2L323.5 124.6L324.3 124.9L325.1 125.2L325.9 125.6L326.7 126.0L327.5 126.3L328.3 126.7L329.1 127.0L330.0 127.4L330.8 127.8L331.6 128.2L332.4 128.5L333.2 128.9L334.0 129.3L334.8 129.7L335.6 130.1L336.4 130.5L337.2 130.9L338.0 131.3L338.8 131.7L339.6 132.1L340.4 132.5L341.2 132.9L342.0 133.4L342.8 133.8L343.7 134.2L344.5 134.7L345.3 135.1L346.1 135.6L346.9 136.0L347.7 136.5L348.5 136.9L349.3 137.4L350.1 137.9L350.9 138.3L351.7 138.8L352.5 139.3L353.3 139.8L354.1 140.3L354.9 140.8L355.7 141.3L356.5 141.8L357.3 142.3L358.2 142.8L359.0 143.4L359.8 143.9L360.6 144.4L361.4 145.0L362.2 145.5L363.0 146.1L363.8 146.6L364.6 147.2L365.4 147.8L366.2 148.4L367.0 149.0L367.8 149.5L368.6 150.2L369.4 150.8L370.2 151.4L371.0 152.0L371.8 152.6L372.7 153.3L373.5 153.9L374.3 154.6L375.1 155.2L375.9 155.9L376.7 156.6L377.5 157.3L378.3 158.0L379.1 158.7L379.9 159.4L380.7 160.1L381.5 160.9L382.3 161.6L383.1 162.3L383.9 163.1L384.7 163.9L385.5 164.7L386.3 165.5L387.2 166.3L388.0 167.1L388.8 167.9L389.6 168.7L390.4 169.6L391.2 170.4L392.0 171.3L392.8 172.2L393.6 173.1L394.4 174.0L395.2 174.9L396.0 175.9L396.8 176.8L397.6 177.8L398.4 178.8L399.2 179.8L400.0 180.8L400.8 181.8L401.7 182.8L402.5 183.9L403.3 185.0L404.1 186.0L404.9 187.1L405.7 188.3L406.5 189.4L407.3 190.6L408.1 191.8L408.9 193.0L409.7 194.2L410.5 195.4L411.3 196.7L412.1 197.9L412.9 199.3L413.7 200.6L414.5 201.9L415.4 203.3L416.2 204.7L417.0 206.1L417.8 207.6L418.6 209.0L419.4 210.5L420.2 212.1L421.0 213.6L421.8 215.2L422.6 216.8L423.4 218.5L424.2 220.2L425.0 221.9L425.8 223.6L426.6 225.4L427.4 227.2L428.2 229.1L429.0 231.0L429.9 232.9L430.7 234.9L431.5 236.9L432.3 239.0L433.1 241.1L433.9 243.2L434.7 245.4L435.5 247.7L436.3 250.0L437.1 252.4L437.9 254.8L438.7 257.2L439.5 259.8L440.3 262.3L441.1 265.0L441.9 267.7L442.7 270.5L443.5 273.4L444.4 276.3L445.2 279.3L446.0 282.4L446.8 285.6L447.6 288.8L448.4 292.2L449.2 295.6L450.0 299.2L450.8 302.8L451.6 306.5L452.4 310.4L453.2 314.4L454.0 318.5L454.8 322.7L455.6 327.0L456.4 331.5L457.2 336.2L458.0 341.0L458.9 345.9L459.7 351.0L460.5 356.4L461.3 361.8L462.1 367.5L462.9 373.4L463.7 379.5L464.5 385.9L465.3 392.5L466.1 399.3L466.9 406.5L467.7 413.9L468.5 421.7L469.3 429.7L470.1 438.2L470.9 447.0L471.7 456.2L472.5 465.8L473.4 475.9L474.2 486.6L475.0 497.7" stroke="#000" stroke-width="1.3" stroke-dasharray="8.6 5.8"/>
<path d="M227.6 133.2L228.2 133.4L228.8 133.5L229.4 133.6L229.9 133.7L230.5 133.9L231.1 134.0L231.6 134.1L232.2 134.3L232.8 134.4L233.4 134.5L233.9 134.6L234.5 134.8L235.1 134.9L235.7 135.0L236.2 135.2L236.8 135.3L237.4 135.5L237.9 135.6L238.5 135.7L239.1 135.9L239.7 136.0L240.2 136.1L240.8 136.3L241.4 136.4L242.0 136.6L242.5 136.7L243.1 136.8L243.7 137.0L244.2 137.1L244.8 137.3L245.4 137.4L246.0 137.6L246.5 137.7L247.1 137.9L247.7 138.0L248.2 138.2L248.8 138.3L249.4 138.5L250.0 138.6L250.5 138.8L251.1 138.9L251.7 139.1L252.3 139.2L252.8 139.4L253.4 139.5L254.0 139.7L254.5 139.8L255.1 140.0L255.7 140.2L256.3 140.3L256.8 140.5L257.4 140.6L258.0 140.8L258.6 141.0L259.1 141.1L259.7 141.3L260.3 141.5L260.8 141.6L261.4 141.8L262.0 142.0L262.6 142.1L263.1 142.3L263.7 142.5L264.3 142.6L264.8 142.8L265.4 143.0L266.0 143.2L266.6 143.3L267.1 143.5L267.7 143.7L268.3 143.9L268.9 144.0L269.4 144.2L270.0 144.4L270.6 144.6L271.1 144.8L271.7 144.9L272.3 145.1L272.9 145.3L273.4 145.5L274.0 145.7L274.6 145.9L275.2 146.1L275.7 146.3L276.3 146.4L276.9 146.6L277.4 146.8L278.0 147.0L278.6 147.2L279.2 147.4L279.7 147.6L280.3 147.8L280.9 148.0L281.4 148.2L282.0 148.4L282.6 148.6L283.2 148.8L283.7 149.0L284.3 149.2L284.9 149.4L285.5 149.7L286.0 149.9L286.6 150.1L287.2 150.3L287.7 150.5L288.3 150.7L288.9 150.9L289.5 151.2L290.0 151.4L290.6 151.6L291.2 151.8L291.8 152.0L292.3 152.3L292.9 152.5L293.5 152.7L294.0 153.0L294.6 153.2L295.2 153.4L295.8 153.6L296.3 153.9L296.9 154.1L297.5 154.4L298.0 154.6L298.6 154.8L299.2 155.1L299.8 155.3L300.3 155.6L300.9 155.8L301.5 156.1L302.1 156.3L302.6 156.6L303.2 156.8L303.8 157.1L304.3 157.3L304.9 157.6L305.5 157.8L306.1 158.1L306.6 158.4L307.2 158.6L307.8 158.9L308.4 159.2L308.9 159.4L309.5 159.7L310.1 160.0L310.6 160.3L311.2 160.5L311.8 160.8L312.4 161.1L312.9 161.4L313.5 161.7L314.1 161.9L314.6 162.2L315.2 162.5L315.8 162.8L316.4 163.1L316.9 163.4L317.5 163.7L318.1 164.0L318.7 164.3L319.2 164.6L319.8 164.9L320.4 165.2L320.9 165.5L321.5 165.9L322.1 166.2L322.7 166.5L323.2 166.8L323.8 167.1L324.4 167.5L325.0 167.8L325.5 168.1L326.1 168.4L326.7 168.8L327.2 169.1L327.8 169.5L328.4 169.8L329.0 170.1L329.5 170.5L330.1 170.8L330.7 171.2L331.2 171.5L331.8 171.9L332.4 172.3L333.0 172.6L333.5 173.0L334.1 173.4L334.7 173.7L335.3 174.1L335.8 174.5L336.4 174.9L337.0 175.2L337.5 175.6L338.1 176.0L338.7 176.4L339.3 176.8L339.8 177.2L340.4 177.6L341.0 178.0L341.6 178.4L342.1 178.8L342.7 179.2L343.3 179.7L343.8 180.1L344.4 180.5L345.0 180.9L345.6 181.4L346.1 181.8L346.7 182.2L347.3 182.7L347.8 183.1L348.4 183.6L349.0 184.0L349.6 184.5L350.1 185.0L350.7 185.4L351.3 185.9L351.9 186.4L352.4 186.8L353.0 187.3L353.6 187.8L354.1 188.3L354.7 188.8L355.3 189.3L355.9 189.8L356.4 190.3L357.0 190.8L357.6 191.3L358.2 191.9L358.7 192.4L359.3 192.9L359.9 193.5L360.4 194.0L361.0 194.6L361.6 195.1L362.2 195.7L362.7 196.2L363.3 196.8L363.9 197.4L364.4 197.9L365.0 198.5L365.6 199.1L366.2 199.7L366.7 200.3L367.3 200.9L367.9 201.5L368.5 202.2L369.0 202.8L369.6 203.4L370.2 204.1L370.7 204.7L371.3 205.4L371.9 206.0L372.5 206.7L373.0 207.4L373.6 208.0L374.2 208.7L374.8 209.4L375.3 210.1L375.9 210.8L376.5 211.6L377.0 212.3L377.6 213.0L378.2 213.8L378.8 214.5L379.3 215.3L379.9 216.0L380.5 216.8L381.0 217.6L381.6 218.4L382.2 219.2L382.8 220.0L383.3 220.8L383.9 221.6L384.5 222.5L385.1 223.3L385.6 224.2L386.2 225.0L386.8 225.9L387.3 226.8L387.9 227.7L388.5 228.6L389.1 229.5L389.6 230.5L390.2 231.4L390.8 232.4L391.4 233.3L391.9 234.3L392.5 235.3L393.1 236.3L393.6 237.3L394.2 238.4L394.8 239.4L395.4 240.5L395.9 241.5L396.5 242.6L397.1 243.7L397.6 244.8L398.2 246.0L398.8 247.1L399.4 248.3L399.9 249.4L400.5 250.6L401.1 251.9L401.7 253.1L402.2 254.3L402.8 255.6L403.4 256.9L403.9 258.2L404.5 259.5L405.1 260.8L405.7 262.2L406.2 263.5L406.8 264.9L407.4 266.4L408.0 267.8L408.5 269.3L409.1 270.7L409.7 272.2L410.2 273.8L410.8 275.3L411.4 276.9L412.0 278.5L412.5 280.1L413.1 281.8L413.7 283.5L414.2 285.2L414.8 286.9L415.4 288.7L416.0 290.5L416.5 292.3L417.1 294.2L417.7 296.1L418.3 298.0L418.8 300.0L419.4 302.0L420.0 304.0L420.5 306.1L421.1 308.2L421.7 310.4L422.3 312.5L422.8 314.8L423.4 317.0L424.0 319.4L424.6 321.7L425.1 324.1L425.7 326.6L426.3 329.1L426.8 331.7L427.4 334.3L428.0 336.9L428.6 339.6L429.1 342.4L429.7 345.3L430.3 348.2L430.8 351.1L431.4 354.1L432.0 357.2L432.6 360.4L433.1 363.6L433.7 366.9L434.3 370.3L434.9 373.8L435.4 377.4L436.0 381.0L436.6 384.7L437.1 388.5L437.7 392.4L438.3 396.5L438.9 400.6L439.4 404.8L440.0 409.1L440.6 413.6L441.2 418.2L441.7 422.9L442.3 427.7L442.9 432.7L443.4 437.8L444.0 443.0L444.6 448.5L445.2 454.0L445.7 459.8L446.3 465.7L446.9 471.8L447.4 478.1L448.0 484.6L448.6 491.4L449.2 498.3" stroke="#f00" stroke-width="2.9" stroke-dasharray="9 5.5"/>
<path d="M227.6 125.3L228.3 125.5L229.0 125.6L229.7 125.7L230.4 125.8L231.0 125.9L231.7 126.0L232.4 126.2L233.1 126.3L233.7 126.4L234.4 126.5L235.1 126.6L235.8 126.7L236.5 126.9L237.1 127.0L237.8 127.1L238.5 127.2L239.2 127.3L239.9 127.5L240.5 127.6L241.2 127.7L241.9 127.8L242.6 128.0L243.2 128.1L243.9 128.2L244.6 128.3L245.3 128.5L246.0 128.6L246.6 128.7L247.3 128.9L248.0 129.0L248.7 129.1L249.4 129.3L250.0 129.4L250.7 129.5L251.4 129.7L252.1 129.8L252.7 129.9L253.4 130.1L254.1 130.2L254.8 130.3L255.5 130.5L256.1 130.6L256.8 130.7L257.5 130.9L258.2 131.0L258.8 131.2L259.5 131.3L260.2 131.5L260.9 131.6L261.6 131.7L262.2 131.9L262.9 132.0L263.6 132.2L264.3 132.3L265.0 132.5L265.6 132.6L266.3 132.8L267.0 132.9L267.7 133.1L268.3 133.2L269.0 133.4L269.7 133.5L270.4 133.7L271.1 133.8L271.7 134.0L272.4 134.2L273.1 134.3L273.8 134.5L274.5 134.6L275.1 134.8L275.8 135.0L276.5 135.1L277.2 135.3L277.8 135.4L278.5 135.6L279.2 135.8L279.9 135.9L280.6 136.1L281.2 136.3L281.9 136.5L282.6 136.6L283.3 136.8L284.0 137.0L284.6 137.1L285.3 137.3L286.0 137.5L286.7 137.7L287.3 137.8L288.0 138.0L288.7 138.2L289.4 138.4L290.1 138.6L290.7 138.7L291.4 138.9L292.1 139.1L292.8 139.3L293.4 139.5L294.1 139.7L294.8 139.9L295.5 140.1L296.2 140.3L296.8 140.4L297.5 140.6L298.2 140.8L298.9 141.0L299.6 141.2L300.2 141.4L300.9 141.6L301.6 141.8L302.3 142.0L302.9 142.2L303.6 142.4L304.3 142.7L305.0 142.9L305.7 143.1L306.3 143.3L307.0 143.5L307.7 143.7L308.4 143.9L309.1 144.1L309.7 144.4L310.4 144.6L311.1 144.8L311.8 145.0L312.4 145.2L313.1 145.5L313.8 145.7L314.5 145.9L315.2 146.1L315.8 146.4L316.5 146.6L317.2 146.8L317.9 147.1L318.5 147.3L319.2 147.5L319.9 147.8L320.6 148.0L321.3 148.3L321.9 148.5L322.6 148.8L323.3 149.0L324.0 149.3L324.7 149.5L325.3 149.8L326.0 150.0L326.7 150.3L327.4 150.5L328.0 150.8L328.7 151.1L329.4 151.3L330.1 151.6L330.8 151.9L331.4 152.1L332.1 152.4L332.8 152.7L333.5 152.9L334.2 153.2L334.8 153.5L335.5 153.8L336.2 154.1L336.9 154.4L337.5 154.6L338.2 154.9L338.9 155.2L339.6 155.5L340.3 155.8L340.9 156.1L341.6 156.4L342.3 156.7L343.0 157.0L343.7 157.3L344.3 157.6L345.0 158.0L345.7 158.3L346.4 158.6L347.0 158.9L347.7 159.2L348.4 159.6L349.1 159.9L349.8 160.2L350.4 160.6L351.1 160.9L351.8 161.2L352.5 161.6L353.1 161.9L353.8 162.3L354.5 162.6L355.2 163.0L355.9 163.3L356.5 163.7L357.2 164.0L357.9 164.4L358.6 164.8L359.3 165.1L359.9 165.5L360.6 165.9L361.3 166.3L362.0 166.7L362.6 167.0L363.3 167.4L364.0 167.8L364.7 168.2L365.4 168.6L366.0 169.0L366.7 169.4L367.4 169.8L368.1 170.3L368.8 170.7L369.4 171.1L370.1 171.5L370.8 171.9L371.5 172.4L372.1 172.8L372.8 173.3L373.5 173.7L374.2 174.1L374.9 174.6L375.5 175.1L376.2 175.5L376.9 176.0L377.6 176.5L378.2 176.9L378.9 177.4L379.6 177.9L380.3 178.4L381.0 178.9L381.6 179.4L382.3 179.9L383.0 180.4L383.7 180.9L384.4 181.4L385.0 181.9L385.7 182.5L386.4 183.0L387.1 183.5L387.7 184.1L388.4 184.6L389.1 185.2L389.8 185.8L390.5 186.3L391.1 186.9L391.8 187.5L392.5 188.1L393.2 188.7L393.9 189.3L394.5 189.9L395.2 190.5L395.9 191.1L396.6 191.7L397.2 192.3L397.9 193.0L398.6 193.6L399.3 194.3L400.0 194.9L400.6 195.6L401.3 196.3L402.0 197.0L402.7 197.7L403.4 198.4L404.0 199.1L404.7 199.8L405.4 200.5L406.1 201.2L406.7 202.0L407.4 202.7L408.1 203.5L408.8 204.2L409.5 205.0L410.1 205.8L410.8 206.6L411.5 207.4L412.2 208.2L412.8 209.0L413.5 209.9L414.2 210.7L414.9 211.6L415.6 212.5L416.2 213.3L416.9 214.2L417.6 215.1L418.3 216.0L419.0 217.0L419.6 217.9L420.3 218.9L421.0 219.8L421.7 220.8L422.3 221.8L423.0 222.8L423.7 223.8L424.4 224.9L425.1 225.9L425.7 227.0L426.4 228.0L427.1 229.1L427.8 230.2L428.5 231.4L429.1 232.5L429.8 233.7L430.5 234.9L431.2 236.0L431.8 237.3L432.5 238.5L433.2 239.7L433.9 241.0L434.6 242.3L435.2 243.6L435.9 244.9L436.6 246.3L437.3 247.7L438.0 249.1L438.6 250.5L439.3 251.9L440.0 253.4L440.7 254.9L441.3 256.4L442.0 257.9L442.7 259.5L443.4 261.1L444.1 262.7L444.7 264.4L445.4 266.1L446.1 267.8L446.8 269.5L447.4 271.3L448.1 273.1L448.8 275.0L449.5 276.8L450.2 278.8L450.8 280.7L451.5 282.7L452.2 284.7L452.9 286.8L453.6 288.9L454.2 291.1L454.9 293.3L455.6 295.5L456.3 297.8L456.9 300.1L457.6 302.5L458.3 305.0L459.0 307.5L459.7 310.0L460.3 312.6L461.0 315.3L461.7 318.0L462.4 320.8L463.1 323.6L463.7 326.6L464.4 329.6L465.1 332.6L465.8 335.8L466.4 339.0L467.1 342.3L467.8 345.6L468.5 349.1L469.2 352.7L469.8 356.3L470.5 360.1L471.2 363.9L471.9 367.9L472.5 371.9L473.2 376.1L473.9 380.4L474.6 384.9L475.3 389.4L475.9 394.1L476.6 398.9L477.3 403.9L478.0 409.1L478.7 414.4L479.3 419.9L480.0 425.5L480.7 431.4L481.4 437.4L482.0 443.7L482.7 450.2L483.4 456.9L484.1 463.9L484.8 471.1L485.4 478.6L486.1 486.4L486.8 494.4" stroke="#00f" stroke-width="2.9" stroke-dasharray="9 5.5"/>
</g>
<path d="M238.5 112.0l5.2 5.2m0 -5.2l-5.2 5.2M263.1 148.5l5.2 5.2m0 -5.2l-5.2 5.2M291.2 156.2l5.2 5.2m0 -5.2l-5.2 5.2M313.1 141.0l5.2 5.2m0 -5.2l-5.2 5.2M316.7 160.6l5.2 5.2m0 -5.2l-5.2 5.2M322.9 171.3l5.2 5.2m0 -5.2l-5.2 5.2M324.7 174.9l5.2 5.2m0 -5.2l-5.2 5.2M312.2 186.5l5.2 5.2m0 -5.2l-5.2 5.2M353.3 107.6l5.2 5.2m0 -5.2l-5.2 5.2M414.5 114.5l5.2 5.2m0 -5.2l-5.2 5.2M386.7 119.2l5.2 5.2m0 -5.2l-5.2 5.2M395.3 121.3l5.2 5.2m0 -5.2l-5.2 5.2M396.2 125.8l5.2 5.2m0 -5.2l-5.2 5.2M359.0 129.7l5.2 5.2m0 -5.2l-5.2 5.2M421.2 146.3l5.2 5.2m0 -5.2l-5.2 5.2M393.1 151.2l5.2 5.2m0 -5.2l-5.2 5.2M365.3 141.9l5.2 5.2m0 -5.2l-5.2 5.2M354.2 143.7l5.2 5.2m0 -5.2l-5.2 5.2M343.5 141.5l5.2 5.2m0 -5.2l-5.2 5.2M359.5 148.1l5.2 5.2m0 -5.2l-5.2 5.2M364.0 154.4l5.2 5.2m0 -5.2l-5.2 5.2M371.2 154.4l5.2 5.2m0 -5.2l-5.2 5.2M369.4 160.6l5.2 5.2m0 -5.2l-5.2 5.2M340.8 160.6l5.2 5.2m0 -5.2l-5.2 5.2M340.8 164.2l5.2 5.2m0 -5.2l-5.2 5.2M381.0 158.8l5.2 5.2m0 -5.2l-5.2 5.2M384.2 162.4l5.2 5.2m0 -5.2l-5.2 5.2M381.0 165.1l5.2 5.2m0 -5.2l-5.2 5.2M369.4 173.1l5.2 5.2m0 -5.2l-5.2 5.2M387.2 174.9l5.2 5.2m0 -5.2l-5.2 5.2M402.0 158.5l5.2 5.2m0 -5.2l-5.2 5.2M406.9 162.4l5.2 5.2m0 -5.2l-5.2 5.2M422.9 166.9l5.2 5.2m0 -5.2l-5.2 5.2M399.7 168.7l5.2 5.2m0 -5.2l-5.2 5.2M400.6 172.2l5.2 5.2m0 -5.2l-5.2 5.2M406.0 173.1l5.2 5.2m0 -5.2l-5.2 5.2M411.3 175.8l5.2 5.2m0 -5.2l-5.2 5.2M414.9 176.7l5.2 5.2m0 -5.2l-5.2 5.2M409.5 180.3l5.2 5.2m0 -5.2l-5.2 5.2M414.0 182.0l5.2 5.2m0 -5.2l-5.2 5.2M404.2 183.8l5.2 5.2m0 -5.2l-5.2 5.2M345.3 175.8l5.2 5.2m0 -5.2l-5.2 5.2M341.7 176.7l5.2 5.2m0 -5.2l-5.2 5.2M329.2 180.3l5.2 5.2m0 -5.2l-5.2 5.2M416.7 185.6l5.2 5.2m0 -5.2l-5.2 5.2M433.3 142.2l5.2 5.2m0 -5.2l-5.2 5.2M441.3 145.8l5.2 5.2m0 -5.2l-5.2 5.2M454.7 150.3l5.2 5.2m0 -5.2l-5.2 5.2M467.6 160.1l5.2 5.2m0 -5.2l-5.2 5.2M439.5 163.7l5.2 5.2m0 -5.2l-5.2 5.2M436.5 174.4l5.2 5.2m0 -5.2l-5.2 5.2M444.5 178.3l5.2 5.2m0 -5.2l-5.2 5.2M456.2 189.0l5.2 5.2m0 -5.2l-5.2 5.2M425.3 187.8l5.2 5.2m0 -5.2l-5.2 5.2M407.4 171.7l5.2 5.2m0 -5.2l-5.2 5.2M418.1 190.4l5.2 5.2m0 -5.2l-5.2 5.2M430.1 198.1l5.2 5.2m0 -5.2l-5.2 5.2M420.8 202.9l5.2 5.2m0 -5.2l-5.2 5.2M410.1 186.0l5.2 5.2m0 -5.2l-5.2 5.2M332.8 201.5l5.2 5.2m0 -5.2l-5.2 5.2M334.5 206.0l5.2 5.2m0 -5.2l-5.2 5.2M331.9 206.9l5.2 5.2m0 -5.2l-5.2 5.2M353.3 201.5l5.2 5.2m0 -5.2l-5.2 5.2M358.7 187.2l5.2 5.2m0 -5.2l-5.2 5.2M356.9 194.4l5.2 5.2m0 -5.2l-5.2 5.2M365.8 191.7l5.2 5.2m0 -5.2l-5.2 5.2M368.5 204.2l5.2 5.2m0 -5.2l-5.2 5.2M364.9 214.0l5.2 5.2m0 -5.2l-5.2 5.2M353.8 242.9l5.2 5.2m0 -5.2l-5.2 5.2M370.8 231.0l5.2 5.2m0 -5.2l-5.2 5.2M375.3 227.4l5.2 5.2m0 -5.2l-5.2 5.2M379.2 217.6l5.2 5.2m0 -5.2l-5.2 5.2M383.7 214.9l5.2 5.2m0 -5.2l-5.2 5.2M386.3 231.0l5.2 5.2m0 -5.2l-5.2 5.2M389.0 240.8l5.2 5.2m0 -5.2l-5.2 5.2M392.0 204.5l5.2 5.2m0 -5.2l-5.2 5.2M396.2 197.0l5.2 5.2m0 -5.2l-5.2 5.2M385.4 188.1l5.2 5.2m0 -5.2l-5.2 5.2M406.9 189.0l5.2 5.2m0 -5.2l-5.2 5.2M422.0 190.8l5.2 5.2m0 -5.2l-5.2 5.2M422.9 206.0l5.2 5.2m0 -5.2l-5.2 5.2M414.9 207.8l5.2 5.2m0 -5.2l-5.2 5.2M411.3 215.8l5.2 5.2m0 -5.2l-5.2 5.2M406.0 214.9l5.2 5.2m0 -5.2l-5.2 5.2M406.9 222.9l5.2 5.2m0 -5.2l-5.2 5.2M420.3 228.3l5.2 5.2m0 -5.2l-5.2 5.2M399.7 234.5l5.2 5.2m0 -5.2l-5.2 5.2M417.6 247.9l5.2 5.2m0 -5.2l-5.2 5.2M415.8 257.8l5.2 5.2m0 -5.2l-5.2 5.2M408.7 264.0l5.2 5.2m0 -5.2l-5.2 5.2M392.6 270.3l5.2 5.2m0 -5.2l-5.2 5.2M423.8 218.5l5.2 5.2m0 -5.2l-5.2 5.2M440.6 215.1l5.2 5.2m0 -5.2l-5.2 5.2M467.9 221.7l5.2 5.2m0 -5.2l-5.2 5.2M437.0 226.3l5.2 5.2m0 -5.2l-5.2 5.2M458.1 233.8l5.2 5.2m0 -5.2l-5.2 5.2M426.9 214.2l5.2 5.2m0 -5.2l-5.2 5.2M424.2 210.6l5.2 5.2m0 -5.2l-5.2 5.2M414.4 214.2l5.2 5.2m0 -5.2l-5.2 5.2M409.9 246.3l5.2 5.2m0 -5.2l-5.2 5.2M449.2 260.3l5.2 5.2m0 -5.2l-5.2 5.2M401.9 274.9l5.2 5.2m0 -5.2l-5.2 5.2M298.1 206.7l5.2 5.2m0 -5.2l-5.2 5.2M318.3 228.3l5.2 5.2m0 -5.2l-5.2 5.2M420.8 295.3l5.2 5.2m0 -5.2l-5.2 5.2" stroke="#8080ff" stroke-width="1.9" fill="none"/>
<path d="M109.2 491.6v-6.7M109.2 17.9v6.7M126.1 491.6v-6.7M126.1 17.9v6.7M143.1 491.6v-6.7M143.1 17.9v6.7M160.0 491.6v-13.5M160.0 17.9v13.5M176.9 491.6v-6.7M176.9 17.9v6.7M193.8 491.6v-6.7M193.8 17.9v6.7M210.7 491.6v-6.7M210.7 17.9v6.7M227.6 491.6v-6.7M227.6 17.9v6.7M244.6 491.6v-13.5M244.6 17.9v13.5M261.5 491.6v-6.7M261.5 17.9v6.7M278.4 491.6v-6.7M278.4 17.9v6.7M295.3 491.6v-6.7M295.3 17.9v6.7M312.2 491.6v-6.7M312.2 17.9v6.7M329.1 491.6v-13.5M329.1 17.9v13.5M346.1 491.6v-6.7M346.1 17.9v6.7M363.0 491.6v-6.7M363.0 17.9v6.7M379.9 491.6v-6.7M379.9 17.9v6.7M396.8 491.6v-6.7M396.8 17.9v6.7M413.7 491.6v-13.5M413.7 17.9v13.5M430.7 491.6v-6.7M430.7 17.9v6.7M447.6 491.6v-6.7M447.6 17.9v6.7M464.5 491.6v-6.7M464.5 17.9v6.7M481.4 491.6v-6.7M481.4 17.9v6.7M498.3 491.6v-13.5M498.3 17.9v13.5M515.2 491.6v-6.7M515.2 17.9v6.7M532.2 491.6v-6.7M532.2 17.9v6.7M549.1 491.6v-6.7M549.1 17.9v6.7M92.3 478.3h6.7M566.0 478.3h-6.7M92.3 450.4h6.7M566.0 450.4h-6.7M92.3 422.6h6.7M566.0 422.6h-6.7M92.3 394.7h6.7M566.0 394.7h-6.7M92.3 366.9h13.5M566.0 366.9h-13.5M92.3 339.1h6.7M566.0 339.1h-6.7M92.3 311.2h6.7M566.0 311.2h-6.7M92.3 283.4h6.7M566.0 283.4h-6.7M92.3 255.5h6.7M566.0 255.5h-6.7M92.3 227.7h13.5M566.0 227.7h-13.5M92.3 199.8h6.7M566.0 199.8h-6.7M92.3 172.0h6.7M566.0 172.0h-6.7M92.3 144.1h6.7M566.0 144.1h-6.7M92.3 116.3h6.7M566.0 116.3h-6.7M92.3 88.4h13.5M566.0 88.4h-13.5M92.3 60.6h6.7M566.0 60.6h-6.7M92.3 32.7h6.7M566.0 32.7h-6.7" stroke="#000" stroke-width="1.5" fill="none"/>
<rect x="92.3" y="17.9" width="473.7" height="473.7" fill="none" stroke="#000" stroke-width="1.8"/>
<path d="M111 325.8H150" stroke="#000" stroke-width="1.2" stroke-dasharray="1.2 2.7" fill="none"/>
<path d="M111 344.5H150" stroke="#000" stroke-width="1.1" stroke-dasharray="9.2 5.4" fill="none"/>
<path d="M111 368.4H150" stroke="#f00" stroke-width="1.1" stroke-dasharray="9.2 5.4" fill="none"/>
<path d="M111 389.6H150" stroke="#00f" stroke-width="1.1" stroke-dasharray="9.2 5.4" fill="none"/>
<path d="M112.7 412.7l6.8 6.8M119.5 412.7l-6.8 6.8" stroke="#8080ff" stroke-width="1.6" fill="none"/>
<circle cx="113.6" cy="448.9" r="4.7" fill="#f8f800" stroke="#000" stroke-width="1.55"/>
<circle cx="123.3" cy="449.1" r="2.3" fill="#ff8080"/>
<text x="146.9" y="517.2" textLength="12.0" lengthAdjust="spacingAndGlyphs" class="s">−</text>
<text x="161.2" y="517.2" textLength="12.0" lengthAdjust="spacingAndGlyphs" class="s">2</text>
<text x="222.7" y="517.2" textLength="12.0" lengthAdjust="spacingAndGlyphs" class="s">−</text>
<text x="238.3" y="517.2" textLength="27.3" lengthAdjust="spacing" class="s">1.5</text>
<text x="316.6" y="517.2" textLength="12.0" lengthAdjust="spacingAndGlyphs" class="s">−</text>
<text x="331.6" y="517.2" textLength="11.6" lengthAdjust="spacingAndGlyphs" class="s">1</text>
<text x="391.6" y="517.2" textLength="12.0" lengthAdjust="spacingAndGlyphs" class="s">−</text>
<text x="406.2" y="517.2" textLength="30.6" lengthAdjust="spacing" class="s">0.5</text>
<text x="492.2" y="517.2" textLength="11.8" lengthAdjust="spacingAndGlyphs" class="s">0</text>
<text x="68.8" y="95.2" textLength="11.6" lengthAdjust="spacingAndGlyphs" class="s">1</text>
<text x="68.6" y="234.6" textLength="12.0" lengthAdjust="spacingAndGlyphs" class="s">0</text>
<text x="53.6" y="373.8" textLength="12.0" lengthAdjust="spacingAndGlyphs" class="s">−</text>
<text x="68.8" y="373.8" textLength="11.6" lengthAdjust="spacingAndGlyphs" class="s">1</text>
<text x="223.6" y="548.0" textLength="30.0" lengthAdjust="spacingAndGlyphs">log</text>
<text x="255.2" y="553.8" textLength="12.6" lengthAdjust="spacingAndGlyphs" class="b">10</text>
<text x="269.6" y="548.0" textLength="51.0" lengthAdjust="spacing">([NII]</text>
<text x="323.0" y="548.0" textLength="11.6" lengthAdjust="spacingAndGlyphs">λ</text>
<text x="336.6" y="548.0" textLength="46.2" lengthAdjust="spacing">6584</text>
<text x="385.3" y="548.0" textLength="11.7" lengthAdjust="spacingAndGlyphs">/</text>
<text x="399.2" y="548.0" textLength="14.4" lengthAdjust="spacingAndGlyphs">H</text>
<text x="414.3" y="548.0" textLength="13.3" lengthAdjust="spacingAndGlyphs">α</text>
<text x="429.2" y="548.0" textLength="6.8" lengthAdjust="spacingAndGlyphs">)</text>
<g transform="translate(19.4,368.2) rotate(-90)">
<text x="0.0" y="0.0" textLength="30.5" lengthAdjust="spacingAndGlyphs">log</text>
<text x="31.2" y="5.8" textLength="12.6" lengthAdjust="spacingAndGlyphs" class="b">10</text>
<text x="44.3" y="0.0" textLength="58.7" lengthAdjust="spacing">([OIII]</text>
<text x="105.5" y="0.0" textLength="11.0" lengthAdjust="spacingAndGlyphs">λ</text>
<text x="118.5" y="0.0" textLength="45.5" lengthAdjust="spacing">5007</text>
<text x="166.0" y="0.0" textLength="10.5" lengthAdjust="spacingAndGlyphs">/</text>
<text x="177.2" y="0.0" textLength="13.4" lengthAdjust="spacingAndGlyphs">H</text>
<text x="191" y="0" textLength="14" lengthAdjust="spacingAndGlyphs" font-style="italic">β</text>
<text x="208.5" y="0.0" textLength="7.0" lengthAdjust="spacingAndGlyphs">)</text>
</g>
<text x="472.0" y="66.0" textLength="25.6" lengthAdjust="spacingAndGlyphs" style="font-size:20px">z~</text>
<text x="499.2" y="66.0" textLength="29.0" lengthAdjust="spacing" style="font-size:20px">1.6</text>
<text x="159.2" y="331.1" textLength="35.5" lengthAdjust="spacingAndGlyphs" class="g">K01</text>
<text x="159.2" y="349.6" textLength="37.1" lengthAdjust="spacingAndGlyphs" class="g">K03</text>
<text x="159.6" y="374.4" textLength="56.6" lengthAdjust="spacingAndGlyphs" class="g">Faisst</text>
<text x="219.8" y="374.4" textLength="12.1" lengthAdjust="spacingAndGlyphs" class="g">+</text>
<text x="248.7" y="374.4" textLength="67.9" lengthAdjust="spacingAndGlyphs" class="g">z=0.13</text>
<text x="159.6" y="392.7" textLength="56.6" lengthAdjust="spacingAndGlyphs" class="g">Faisst</text>
<text x="219.8" y="392.7" textLength="12.1" lengthAdjust="spacingAndGlyphs" class="g">+</text>
<text x="248.7" y="392.7" textLength="56.3" lengthAdjust="spacingAndGlyphs" class="g">z=1.6</text>
<text x="126.2" y="421.4" textLength="80.8" lengthAdjust="spacingAndGlyphs" class="g">Kashino</text>
<text x="220.0" y="421.4" textLength="19.0" lengthAdjust="spacingAndGlyphs" class="g">et</text>
<text x="251.4" y="421.4" textLength="19.3" lengthAdjust="spacingAndGlyphs" class="g">al.</text>
<text x="287.0" y="421.4" textLength="59.7" lengthAdjust="spacingAndGlyphs" class="g">2019a</text>
<text x="128.7" y="454.2" textLength="97.6" lengthAdjust="spacingAndGlyphs" class="g">GALFORM:</text>
<text x="238.9" y="454.2" textLength="34.1" lengthAdjust="spacingAndGlyphs" class="g">L16</text>
</svg>

</div></body></html>
